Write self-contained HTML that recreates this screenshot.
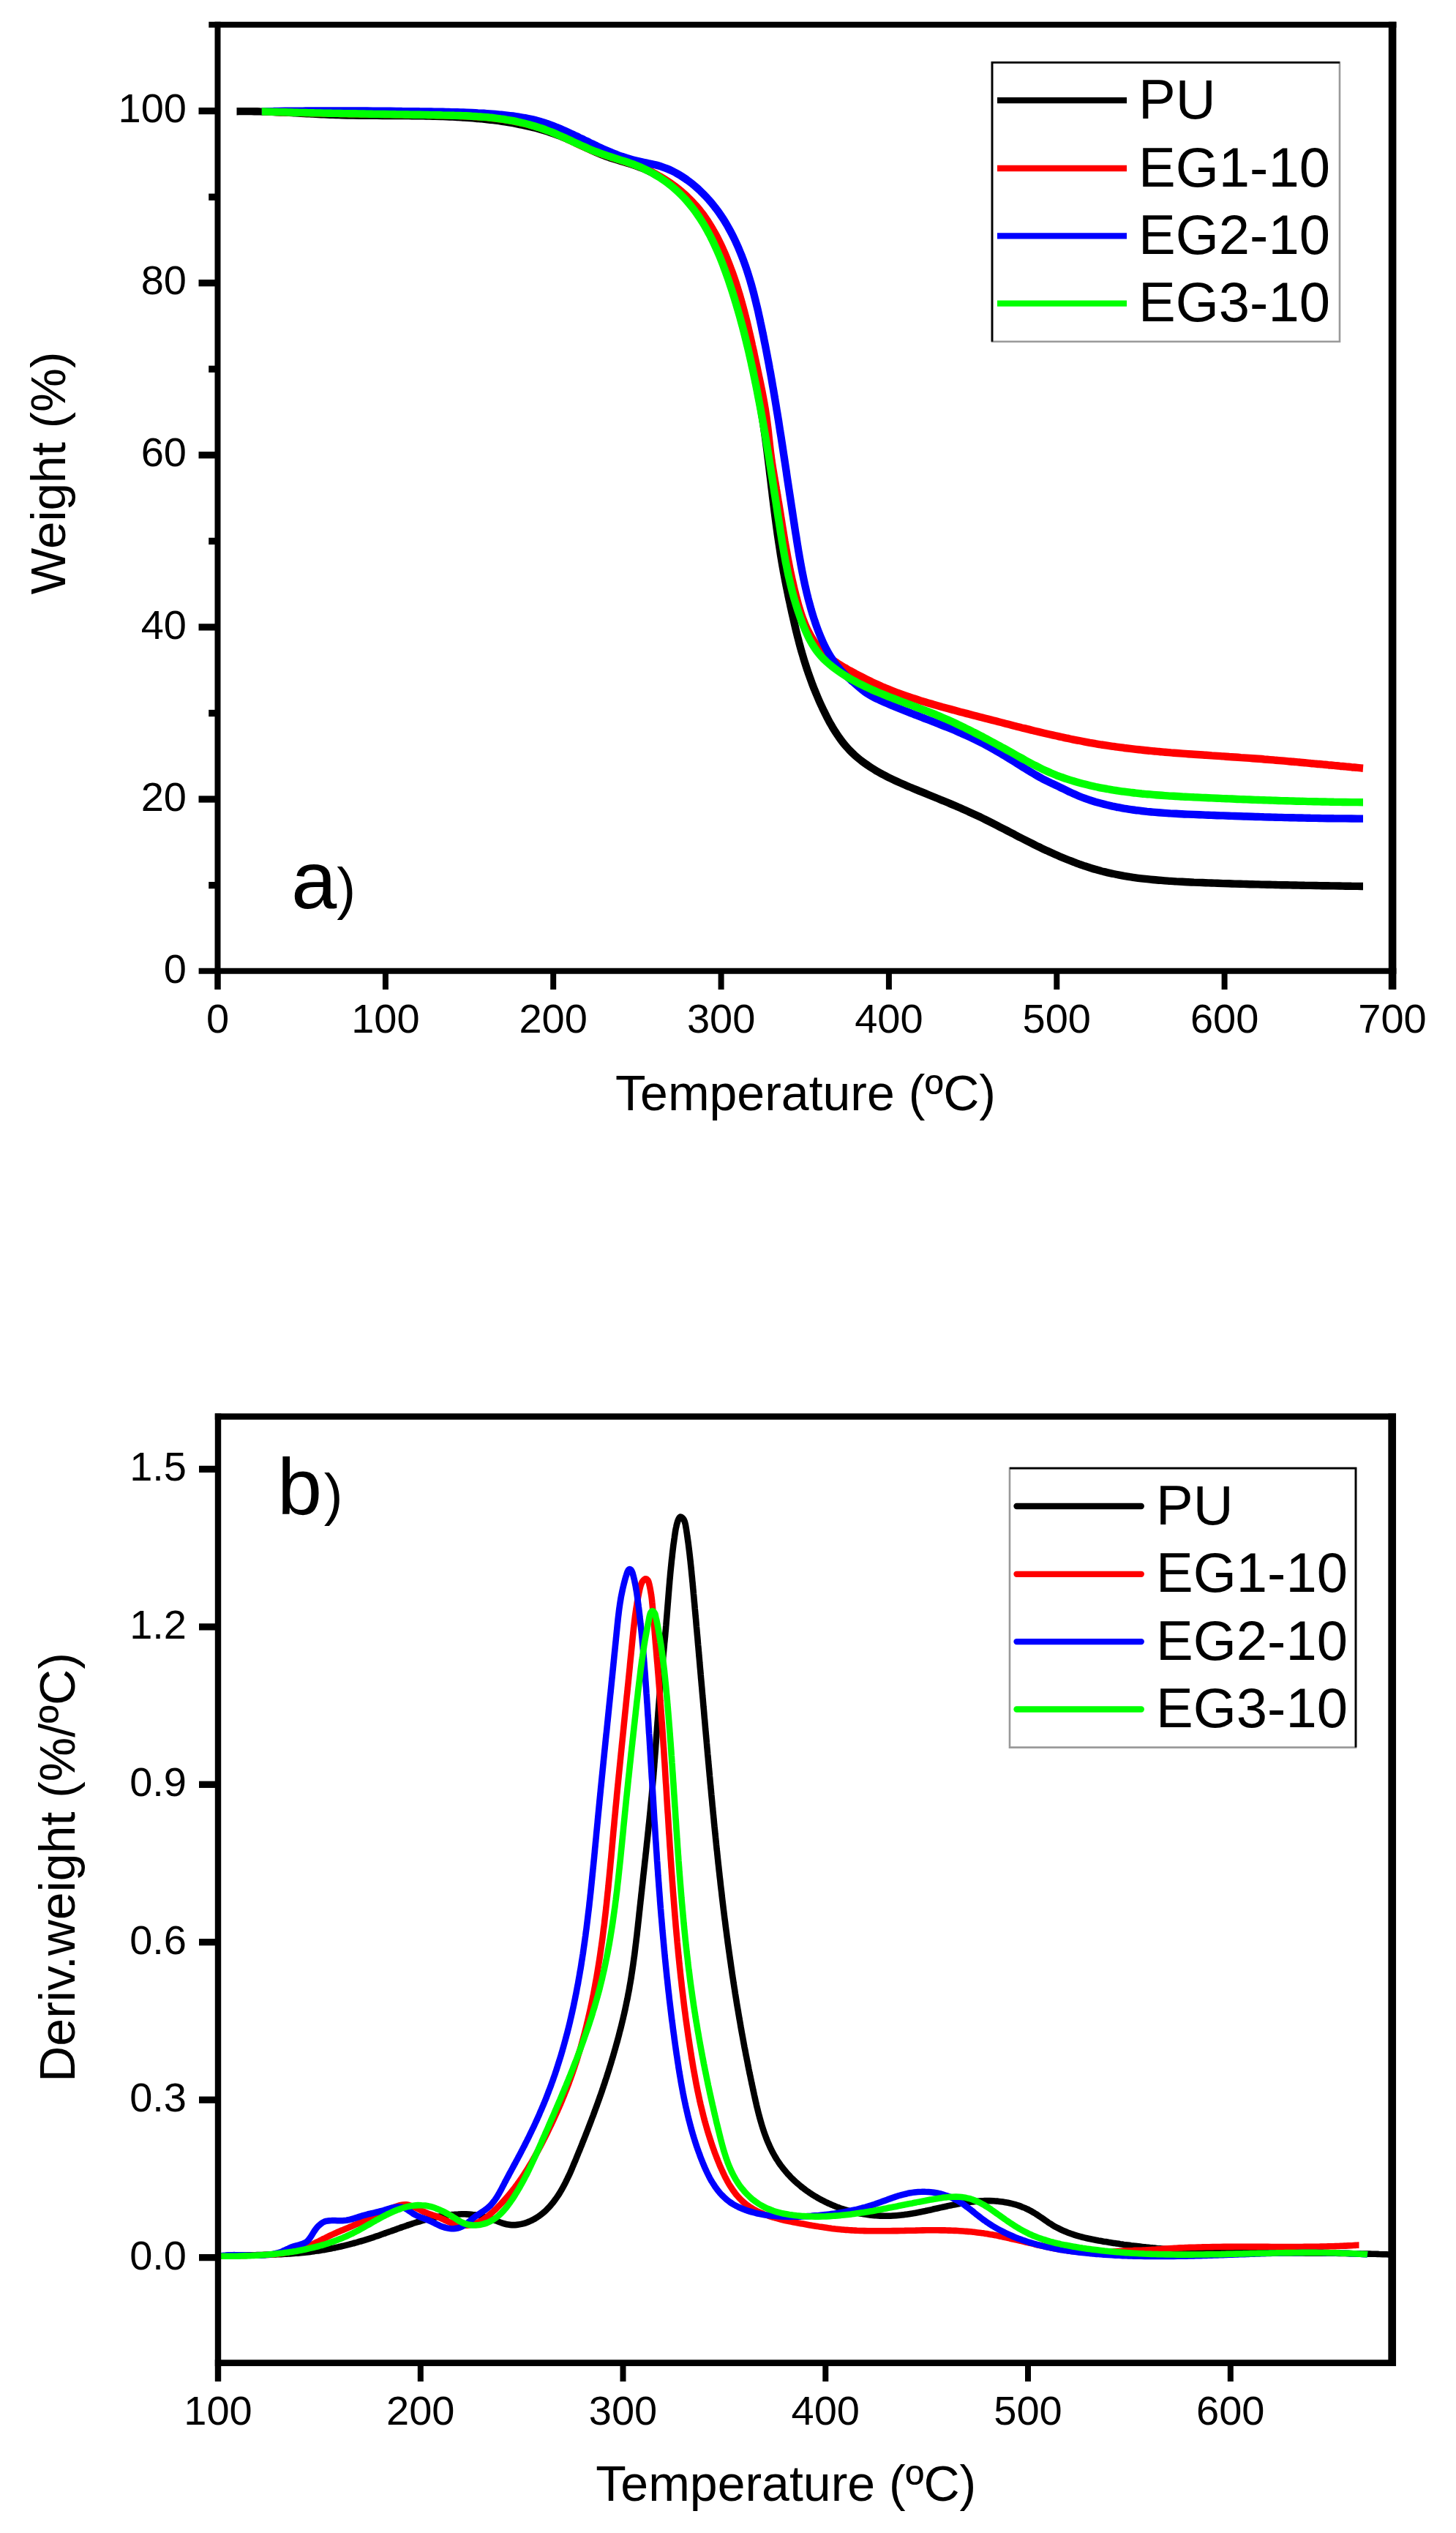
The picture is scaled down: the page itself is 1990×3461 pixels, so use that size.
<!DOCTYPE html>
<html lang="en"><head><meta charset="utf-8"><title>TGA and DTG curves</title>
<style>html,body{margin:0;padding:0;background:#fff;}svg{display:block;}text{font-family:'Liberation Sans', sans-serif;fill:#000;}</style>
</head><body>
<svg width="1990" height="3461" viewBox="0 0 1990 3461" role="img" aria-label="TGA (a) and DTG (b) curves of PU, EG1-10, EG2-10 and EG3-10">
<rect x="0" y="0" width="1990" height="3461" fill="#ffffff"/>
<g id="chart-a">
<g fill="none" stroke-width="10.4" stroke-linejoin="round" stroke-linecap="butt">
<path d="M323.5 152.2C324.8 152.2 328.8 152.1 331.5 152.1C334.1 152.1 336.8 152.1 339.5 152.1C342.1 152.1 344.8 152.2 347.4 152.2C350.1 152.3 352.8 152.3 355.4 152.4C358.1 152.4 360.7 152.5 363.4 152.6C366.1 152.7 368.7 152.8 371.4 152.9C374.0 153.0 376.7 153.1 379.3 153.2C382.0 153.3 384.7 153.4 387.3 153.6C390.0 153.7 392.6 153.8 395.3 153.9C397.9 154.1 400.6 154.2 403.2 154.4C405.9 154.5 408.6 154.6 411.2 154.8C413.9 154.9 416.5 155.0 419.2 155.2C421.8 155.3 424.5 155.5 427.1 155.6C429.8 155.7 432.5 155.9 435.1 156.0C437.8 156.1 440.4 156.3 443.1 156.4C445.7 156.5 448.4 156.6 451.1 156.7C453.7 156.8 456.4 156.9 459.0 157.0C461.7 157.1 464.3 157.2 467.0 157.3C469.7 157.3 472.3 157.4 475.0 157.5C477.6 157.5 480.3 157.6 483.0 157.6C485.6 157.7 488.3 157.7 490.9 157.7C493.6 157.8 496.3 157.8 498.9 157.8C501.6 157.9 504.2 157.9 506.9 157.9C509.6 157.9 512.2 157.9 514.9 157.9C517.5 158.0 520.2 158.0 522.9 158.0C525.5 158.0 528.2 158.0 530.8 158.0C533.5 158.0 536.2 158.0 538.8 158.0C541.5 158.1 544.2 158.1 546.8 158.1C549.5 158.1 552.1 158.1 554.8 158.1C557.5 158.1 560.1 158.2 562.8 158.2C565.4 158.2 568.1 158.2 570.8 158.3C573.4 158.3 576.1 158.3 578.7 158.4C581.4 158.4 584.1 158.5 586.7 158.5C589.4 158.6 592.0 158.7 594.7 158.7C597.3 158.8 600.0 158.9 602.7 159.0C605.3 159.1 608.0 159.1 610.6 159.3C613.3 159.4 615.9 159.5 618.6 159.6C621.3 159.7 623.9 159.9 626.6 160.0C629.2 160.2 631.9 160.3 634.5 160.5C637.2 160.7 639.8 160.9 642.5 161.1C645.1 161.3 647.8 161.5 650.4 161.7C653.1 161.9 655.7 162.2 658.4 162.4C661.0 162.7 663.7 163.0 666.3 163.3C669.0 163.6 671.6 163.9 674.3 164.2C676.9 164.5 679.6 164.9 682.2 165.2C684.8 165.6 687.5 166.0 690.1 166.4C692.7 166.8 695.3 167.2 698.0 167.7C700.6 168.1 703.2 168.6 705.8 169.1C708.4 169.6 711.0 170.1 713.6 170.7C716.2 171.2 718.8 171.8 721.4 172.4C724.0 173.0 726.6 173.6 729.1 174.3C731.7 174.9 734.3 175.6 736.8 176.3C739.4 177.0 741.9 177.8 744.5 178.6C747.0 179.3 749.5 180.1 752.1 181.0C754.6 181.8 757.1 182.7 759.6 183.6C762.1 184.5 764.5 185.4 767.0 186.4C769.5 187.4 771.9 188.4 774.4 189.4C776.8 190.5 779.3 191.5 781.7 192.6C784.1 193.7 786.6 194.9 789.0 196.0C791.4 197.1 793.8 198.3 796.2 199.4C798.6 200.6 801.0 201.7 803.5 202.9C805.9 204.0 808.3 205.1 810.7 206.2C813.1 207.3 815.6 208.4 818.0 209.4C820.5 210.5 822.9 211.5 825.4 212.4C827.9 213.4 830.4 214.3 832.9 215.2C835.4 216.0 837.9 216.8 840.5 217.6C843.0 218.4 845.6 219.2 848.1 219.9C850.7 220.7 853.2 221.4 855.8 222.2C858.3 222.9 860.9 223.7 863.4 224.5C865.9 225.3 868.5 226.2 870.9 227.1C873.4 228.0 875.9 229.0 878.4 230.0C880.8 231.0 883.3 232.1 885.7 233.2C888.1 234.3 890.5 235.5 892.8 236.8C895.1 238.0 897.5 239.3 899.7 240.7C902.0 242.1 904.2 243.5 906.4 245.0C908.6 246.5 910.8 248.0 912.9 249.6C915.1 251.2 917.1 252.8 919.2 254.5C921.3 256.2 923.3 257.9 925.3 259.7C927.2 261.4 929.2 263.3 931.1 265.1C933.0 267.0 934.9 268.9 936.8 270.8C938.6 272.7 940.4 274.7 942.2 276.7C944.0 278.7 945.7 280.7 947.4 282.8C949.1 284.8 950.8 286.9 952.4 289.1C954.1 291.2 955.7 293.3 957.2 295.5C958.8 297.6 960.3 299.8 961.8 302.0C963.3 304.2 964.8 306.4 966.2 308.7C967.6 310.9 969.0 313.2 970.3 315.5C971.7 317.8 973.0 320.1 974.2 322.4C975.5 324.7 976.7 327.1 977.9 329.4C979.0 331.8 980.2 334.2 981.3 336.6C982.4 339.0 983.5 341.4 984.6 343.8C985.6 346.2 986.6 348.7 987.6 351.1C988.6 353.6 989.6 356.1 990.5 358.5C991.4 361.0 992.4 363.5 993.2 366.0C994.1 368.5 995.0 371.0 995.8 373.6C996.7 376.1 997.5 378.6 998.3 381.2C999.1 383.7 999.9 386.3 1000.7 388.8C1001.4 391.4 1002.2 393.9 1002.9 396.5C1003.7 399.1 1004.4 401.6 1005.1 404.2C1005.8 406.8 1006.5 409.4 1007.2 412.0C1007.9 414.6 1008.5 417.1 1009.2 419.7C1009.9 422.3 1010.5 424.9 1011.2 427.5C1011.9 430.1 1012.5 432.7 1013.2 435.3C1013.8 437.9 1014.5 440.5 1015.1 443.0C1015.7 445.6 1016.4 448.2 1017.0 450.8C1017.7 453.4 1018.3 456.0 1018.9 458.6C1019.5 461.2 1020.2 463.8 1020.8 466.3C1021.4 468.9 1022.0 471.5 1022.6 474.1C1023.2 476.7 1023.8 479.3 1024.4 481.9C1025.0 484.5 1025.6 487.1 1026.2 489.7C1026.7 492.3 1027.3 494.8 1027.9 497.4C1028.4 500.0 1029.0 502.6 1029.6 505.2C1030.1 507.8 1030.7 510.4 1031.2 513.0C1031.8 515.6 1032.3 518.2 1032.8 520.8C1033.4 523.4 1033.9 526.0 1034.4 528.6C1034.9 531.2 1035.4 533.8 1035.9 536.4C1036.4 539.0 1036.9 541.6 1037.4 544.2C1037.9 546.8 1038.3 549.4 1038.8 552.1C1039.3 554.7 1039.7 557.3 1040.2 559.9C1040.6 562.5 1041.1 565.1 1041.5 567.7C1041.9 570.4 1042.3 573.0 1042.7 575.6C1043.2 578.2 1043.6 580.9 1043.9 583.5C1044.3 586.1 1044.7 588.8 1045.1 591.4C1045.5 594.0 1045.9 596.7 1046.2 599.3C1046.6 601.9 1046.9 604.6 1047.3 607.2C1047.6 609.8 1048.0 612.5 1048.3 615.1C1048.7 617.8 1049.0 620.4 1049.3 623.1C1049.7 625.7 1050.0 628.3 1050.3 631.0C1050.6 633.6 1051.0 636.3 1051.3 638.9C1051.6 641.6 1051.9 644.2 1052.2 646.9C1052.5 649.5 1052.9 652.2 1053.2 654.8C1053.5 657.4 1053.8 660.1 1054.1 662.7C1054.4 665.4 1054.8 668.0 1055.1 670.7C1055.4 673.3 1055.7 676.0 1056.0 678.6C1056.3 681.3 1056.7 683.9 1057.0 686.5C1057.3 689.2 1057.7 691.8 1058.0 694.5C1058.3 697.1 1058.7 699.8 1059.0 702.4C1059.3 705.0 1059.7 707.7 1060.0 710.3C1060.4 712.9 1060.7 715.6 1061.1 718.2C1061.4 720.8 1061.8 723.5 1062.2 726.1C1062.5 728.7 1062.9 731.4 1063.3 734.0C1063.7 736.6 1064.1 739.3 1064.5 741.9C1064.9 744.5 1065.3 747.1 1065.7 749.8C1066.1 752.4 1066.5 755.0 1066.9 757.6C1067.3 760.2 1067.8 762.9 1068.2 765.5C1068.6 768.1 1069.1 770.7 1069.5 773.3C1070.0 775.9 1070.5 778.5 1070.9 781.1C1071.4 783.8 1071.9 786.4 1072.4 789.0C1072.9 791.6 1073.4 794.2 1073.9 796.8C1074.4 799.4 1074.9 802.0 1075.5 804.6C1076.0 807.2 1076.5 809.8 1077.1 812.4C1077.6 815.0 1078.2 817.6 1078.7 820.2C1079.3 822.8 1079.9 825.4 1080.4 828.0C1081.0 830.6 1081.6 833.2 1082.1 835.8C1082.7 838.4 1083.3 841.0 1083.9 843.6C1084.5 846.2 1085.1 848.8 1085.7 851.5C1086.3 854.1 1086.9 856.7 1087.5 859.3C1088.1 861.9 1088.8 864.5 1089.4 867.1C1090.0 869.7 1090.7 872.2 1091.4 874.8C1092.0 877.4 1092.7 880.0 1093.4 882.5C1094.1 885.1 1094.8 887.6 1095.5 890.2C1096.3 892.7 1097.0 895.2 1097.8 897.8C1098.5 900.3 1099.3 902.8 1100.1 905.3C1100.9 907.9 1101.7 910.4 1102.5 912.9C1103.3 915.4 1104.2 917.9 1105.0 920.3C1105.9 922.8 1106.8 925.3 1107.7 927.8C1108.6 930.3 1109.5 932.8 1110.4 935.2C1111.4 937.7 1112.3 940.2 1113.3 942.6C1114.3 945.1 1115.3 947.5 1116.4 950.0C1117.4 952.4 1118.4 954.9 1119.5 957.3C1120.6 959.8 1121.7 962.2 1122.8 964.6C1124.0 967.1 1125.1 969.5 1126.3 971.9C1127.5 974.4 1128.7 976.8 1129.9 979.2C1131.2 981.6 1132.4 984.0 1133.7 986.4C1135.0 988.8 1136.4 991.1 1137.7 993.5C1139.1 995.8 1140.5 998.1 1142.0 1000.3C1143.4 1002.6 1144.9 1004.8 1146.5 1007.0C1148.0 1009.2 1149.6 1011.4 1151.2 1013.5C1152.8 1015.6 1154.5 1017.6 1156.2 1019.6C1158.0 1021.6 1159.7 1023.6 1161.6 1025.5C1163.4 1027.3 1165.3 1029.2 1167.2 1030.9C1169.1 1032.7 1171.1 1034.4 1173.1 1036.1C1175.1 1037.8 1177.2 1039.4 1179.3 1041.0C1181.4 1042.5 1183.5 1044.1 1185.7 1045.5C1187.8 1047.0 1190.0 1048.5 1192.3 1049.9C1194.5 1051.3 1196.8 1052.6 1199.1 1054.0C1201.4 1055.3 1203.7 1056.6 1206.0 1057.9C1208.4 1059.1 1210.8 1060.4 1213.1 1061.6C1215.5 1062.8 1217.9 1063.9 1220.4 1065.1C1222.8 1066.3 1225.2 1067.4 1227.7 1068.5C1230.1 1069.6 1232.6 1070.7 1235.1 1071.8C1237.5 1072.9 1240.0 1073.9 1242.5 1075.0C1245.0 1076.0 1247.5 1077.1 1250.0 1078.1C1252.5 1079.1 1255.0 1080.1 1257.4 1081.2C1259.9 1082.2 1262.4 1083.2 1264.9 1084.2C1267.4 1085.2 1269.8 1086.2 1272.3 1087.2C1274.8 1088.2 1277.2 1089.2 1279.7 1090.2C1282.2 1091.2 1284.6 1092.3 1287.1 1093.3C1289.5 1094.3 1292.0 1095.3 1294.4 1096.3C1296.9 1097.3 1299.3 1098.4 1301.7 1099.4C1304.2 1100.4 1306.6 1101.4 1309.0 1102.5C1311.5 1103.5 1313.9 1104.6 1316.3 1105.7C1318.7 1106.7 1321.1 1107.8 1323.5 1108.9C1325.9 1110.0 1328.3 1111.1 1330.7 1112.2C1333.1 1113.3 1335.5 1114.4 1337.9 1115.5C1340.3 1116.7 1342.7 1117.8 1345.0 1119.0C1347.4 1120.2 1349.8 1121.4 1352.1 1122.5C1354.5 1123.7 1356.9 1124.9 1359.2 1126.1C1361.6 1127.3 1364.0 1128.6 1366.3 1129.8C1368.7 1131.0 1371.0 1132.2 1373.4 1133.4C1375.8 1134.7 1378.1 1135.9 1380.5 1137.1C1382.9 1138.3 1385.2 1139.6 1387.6 1140.8C1389.9 1142.0 1392.3 1143.2 1394.7 1144.5C1397.0 1145.7 1399.4 1146.9 1401.8 1148.1C1404.2 1149.3 1406.6 1150.5 1408.9 1151.7C1411.3 1152.9 1413.7 1154.1 1416.1 1155.3C1418.5 1156.5 1420.9 1157.6 1423.3 1158.8C1425.7 1160.0 1428.2 1161.1 1430.6 1162.2C1433.0 1163.4 1435.4 1164.5 1437.9 1165.6C1440.3 1166.7 1442.8 1167.8 1445.2 1168.8C1447.7 1169.9 1450.1 1170.9 1452.6 1172.0C1455.0 1173.0 1457.5 1174.0 1460.0 1175.0C1462.5 1176.0 1465.0 1176.9 1467.4 1177.9C1469.9 1178.8 1472.4 1179.8 1474.9 1180.7C1477.4 1181.5 1479.9 1182.4 1482.5 1183.3C1485.0 1184.1 1487.5 1184.9 1490.0 1185.7C1492.6 1186.5 1495.1 1187.3 1497.7 1188.0C1500.2 1188.8 1502.8 1189.5 1505.3 1190.2C1507.9 1190.8 1510.4 1191.5 1513.0 1192.1C1515.6 1192.7 1518.2 1193.3 1520.8 1193.8C1523.3 1194.4 1525.9 1194.9 1528.5 1195.4C1531.1 1195.9 1533.7 1196.4 1536.3 1196.9C1539.0 1197.3 1541.6 1197.7 1544.2 1198.2C1546.8 1198.6 1549.4 1198.9 1552.1 1199.3C1554.7 1199.7 1557.3 1200.0 1560.0 1200.3C1562.6 1200.6 1565.2 1200.9 1567.9 1201.2C1570.5 1201.5 1573.2 1201.8 1575.8 1202.0C1578.5 1202.3 1581.1 1202.5 1583.8 1202.7C1586.4 1203.0 1589.1 1203.2 1591.8 1203.4C1594.4 1203.6 1597.1 1203.7 1599.7 1203.9C1602.4 1204.1 1605.1 1204.2 1607.7 1204.4C1610.4 1204.5 1613.1 1204.7 1615.7 1204.8C1618.4 1205.0 1621.1 1205.1 1623.7 1205.2C1626.4 1205.3 1629.1 1205.4 1631.7 1205.6C1634.4 1205.7 1637.1 1205.8 1639.7 1205.9C1642.4 1206.0 1645.0 1206.1 1647.7 1206.2C1650.4 1206.3 1653.0 1206.4 1655.7 1206.5C1658.4 1206.6 1661.0 1206.7 1663.7 1206.8C1666.3 1206.9 1669.0 1207.0 1671.7 1207.1C1674.3 1207.1 1677.0 1207.2 1679.6 1207.3C1682.3 1207.4 1684.9 1207.5 1687.6 1207.6C1690.3 1207.6 1692.9 1207.7 1695.6 1207.8C1698.2 1207.9 1700.9 1207.9 1703.5 1208.0C1706.2 1208.1 1708.8 1208.2 1711.5 1208.2C1714.1 1208.3 1716.8 1208.4 1719.5 1208.4C1722.1 1208.5 1724.8 1208.6 1727.4 1208.6C1730.1 1208.7 1732.7 1208.8 1735.4 1208.8C1738.0 1208.9 1740.7 1208.9 1743.3 1209.0C1746.0 1209.1 1748.6 1209.1 1751.3 1209.2C1753.9 1209.2 1756.6 1209.3 1759.3 1209.3C1761.9 1209.4 1764.6 1209.4 1767.2 1209.5C1769.9 1209.5 1772.5 1209.6 1775.2 1209.6C1777.8 1209.7 1780.5 1209.7 1783.1 1209.8C1785.8 1209.8 1788.5 1209.9 1791.1 1209.9C1793.8 1210.0 1796.4 1210.0 1799.1 1210.0C1801.7 1210.1 1804.4 1210.1 1807.1 1210.2C1809.7 1210.2 1812.4 1210.3 1815.0 1210.3C1817.7 1210.3 1820.4 1210.4 1823.0 1210.4C1825.7 1210.5 1828.3 1210.5 1831.0 1210.5C1833.7 1210.6 1836.3 1210.6 1839.0 1210.7C1841.7 1210.7 1844.3 1210.7 1847.0 1210.8C1849.7 1210.8 1852.3 1210.8 1855.0 1210.9C1857.7 1210.9 1861.7 1211.0 1863.0 1211.0" stroke="#000000"/>
<path d="M357.8 152.4C359.1 152.4 363.1 152.6 365.8 152.7C368.4 152.7 371.1 152.8 373.8 152.9C376.4 153.0 379.1 153.1 381.8 153.1C384.4 153.2 387.1 153.3 389.7 153.4C392.4 153.4 395.1 153.5 397.7 153.6C400.4 153.6 403.0 153.7 405.7 153.8C408.4 153.8 411.0 153.9 413.7 154.0C416.3 154.0 419.0 154.1 421.7 154.1C424.3 154.2 427.0 154.3 429.6 154.3C432.3 154.4 435.0 154.4 437.6 154.5C440.3 154.5 442.9 154.6 445.6 154.6C448.3 154.7 450.9 154.7 453.6 154.8C456.3 154.8 458.9 154.9 461.6 154.9C464.2 155.0 466.9 155.0 469.6 155.1C472.2 155.1 474.9 155.2 477.5 155.2C480.2 155.2 482.9 155.3 485.5 155.3C488.2 155.4 490.8 155.4 493.5 155.5C496.2 155.5 498.8 155.6 501.5 155.6C504.1 155.6 506.8 155.7 509.5 155.7C512.1 155.8 514.8 155.8 517.4 155.8C520.1 155.9 522.8 155.9 525.4 156.0C528.1 156.0 530.7 156.1 533.4 156.1C536.1 156.1 538.7 156.2 541.4 156.2C544.0 156.3 546.7 156.3 549.4 156.4C552.0 156.4 554.7 156.4 557.4 156.5C560.0 156.5 562.7 156.6 565.3 156.6C568.0 156.7 570.7 156.7 573.3 156.8C576.0 156.8 578.7 156.9 581.3 156.9C584.0 157.0 586.6 157.0 589.3 157.1C592.0 157.1 594.6 157.2 597.3 157.2C600.0 157.3 602.6 157.3 605.3 157.4C607.9 157.4 610.6 157.5 613.3 157.6C615.9 157.6 618.6 157.7 621.3 157.8C623.9 157.9 626.6 157.9 629.2 158.0C631.9 158.1 634.6 158.2 637.2 158.4C639.9 158.5 642.5 158.6 645.2 158.8C647.9 158.9 650.5 159.1 653.2 159.3C655.8 159.5 658.5 159.7 661.1 159.9C663.8 160.1 666.4 160.3 669.0 160.6C671.7 160.9 674.3 161.2 677.0 161.5C679.6 161.8 682.2 162.1 684.9 162.5C687.5 162.9 690.1 163.3 692.8 163.7C695.4 164.1 698.0 164.6 700.6 165.1C703.2 165.6 705.8 166.1 708.5 166.7C711.1 167.2 713.7 167.8 716.3 168.4C718.8 169.1 721.4 169.7 724.0 170.4C726.6 171.1 729.1 171.8 731.7 172.6C734.2 173.4 736.8 174.2 739.3 175.0C741.8 175.9 744.4 176.7 746.9 177.7C749.4 178.6 751.9 179.5 754.3 180.5C756.8 181.5 759.2 182.6 761.7 183.6C764.1 184.7 766.6 185.8 769.0 186.9C771.4 188.0 773.8 189.2 776.2 190.3C778.6 191.4 781.1 192.6 783.5 193.7C785.9 194.9 788.3 196.0 790.7 197.2C793.1 198.3 795.5 199.4 797.9 200.5C800.4 201.6 802.8 202.7 805.2 203.7C807.7 204.8 810.1 205.8 812.6 206.7C815.1 207.7 817.6 208.6 820.1 209.5C822.6 210.4 825.1 211.3 827.6 212.1C830.1 213.0 832.7 213.8 835.2 214.6C837.7 215.5 840.3 216.3 842.8 217.1C845.3 217.9 847.9 218.7 850.4 219.5C852.9 220.3 855.5 221.1 858.0 222.0C860.5 222.8 863.0 223.7 865.5 224.6C868.0 225.5 870.5 226.4 873.0 227.3C875.5 228.3 877.9 229.3 880.4 230.3C882.8 231.4 885.2 232.5 887.6 233.6C890.1 234.8 892.4 236.0 894.8 237.2C897.2 238.4 899.5 239.7 901.8 241.1C904.1 242.4 906.4 243.8 908.7 245.2C910.9 246.6 913.2 248.1 915.4 249.6C917.6 251.1 919.7 252.6 921.9 254.2C924.0 255.8 926.1 257.4 928.2 259.1C930.3 260.8 932.3 262.5 934.3 264.3C936.3 266.0 938.3 267.8 940.2 269.7C942.1 271.5 944.0 273.4 945.8 275.3C947.6 277.2 949.4 279.2 951.2 281.1C952.9 283.1 954.6 285.2 956.3 287.2C958.0 289.3 959.6 291.4 961.2 293.5C962.7 295.7 964.3 297.8 965.7 300.0C967.2 302.2 968.7 304.5 970.1 306.7C971.5 309.0 972.9 311.2 974.2 313.6C975.6 315.9 976.9 318.2 978.1 320.5C979.4 322.9 980.6 325.2 981.8 327.6C983.0 330.0 984.2 332.4 985.4 334.8C986.5 337.2 987.6 339.7 988.7 342.1C989.8 344.6 990.9 347.0 991.9 349.5C992.9 351.9 993.9 354.4 994.9 356.9C995.9 359.4 996.9 361.9 997.8 364.4C998.8 366.8 999.7 369.3 1000.6 371.8C1001.5 374.3 1002.4 376.9 1003.3 379.4C1004.1 381.9 1005.0 384.4 1005.8 386.9C1006.6 389.5 1007.4 392.0 1008.2 394.5C1009.0 397.1 1009.8 399.6 1010.5 402.2C1011.3 404.7 1012.0 407.3 1012.7 409.8C1013.5 412.4 1014.2 414.9 1014.9 417.5C1015.6 420.1 1016.3 422.6 1016.9 425.2C1017.6 427.8 1018.3 430.3 1018.9 432.9C1019.6 435.5 1020.2 438.1 1020.9 440.7C1021.5 443.2 1022.1 445.8 1022.7 448.4C1023.3 451.0 1023.9 453.6 1024.5 456.2C1025.1 458.8 1025.7 461.4 1026.3 464.0C1026.9 466.6 1027.5 469.2 1028.0 471.8C1028.6 474.4 1029.2 477.0 1029.8 479.6C1030.3 482.2 1030.9 484.8 1031.4 487.4C1032.0 490.0 1032.6 492.6 1033.1 495.2C1033.7 497.8 1034.2 500.4 1034.8 503.0C1035.3 505.6 1035.9 508.3 1036.4 510.9C1037.0 513.5 1037.5 516.1 1038.1 518.7C1038.6 521.3 1039.2 523.9 1039.7 526.5C1040.2 529.1 1040.8 531.7 1041.3 534.3C1041.8 537.0 1042.3 539.6 1042.8 542.2C1043.3 544.8 1043.8 547.4 1044.2 550.0C1044.7 552.7 1045.1 555.3 1045.6 557.9C1046.0 560.5 1046.4 563.1 1046.8 565.8C1047.2 568.4 1047.6 571.0 1047.9 573.7C1048.3 576.3 1048.6 578.9 1048.9 581.6C1049.3 584.2 1049.6 586.8 1049.9 589.5C1050.2 592.1 1050.4 594.8 1050.7 597.4C1051.0 600.1 1051.3 602.7 1051.6 605.3C1051.9 608.0 1052.2 610.6 1052.5 613.3C1052.8 615.9 1053.1 618.6 1053.5 621.2C1053.8 623.8 1054.2 626.5 1054.5 629.1C1054.9 631.8 1055.3 634.4 1055.7 637.0C1056.1 639.7 1056.6 642.3 1057.0 644.9C1057.4 647.6 1057.9 650.2 1058.3 652.9C1058.8 655.5 1059.2 658.1 1059.7 660.7C1060.1 663.4 1060.6 666.0 1061.0 668.6C1061.5 671.3 1061.9 673.9 1062.3 676.5C1062.8 679.1 1063.2 681.8 1063.6 684.4C1064.1 687.0 1064.5 689.6 1064.9 692.3C1065.3 694.9 1065.8 697.5 1066.2 700.1C1066.6 702.8 1067.0 705.4 1067.4 708.0C1067.9 710.6 1068.3 713.2 1068.7 715.9C1069.1 718.5 1069.5 721.1 1070.0 723.7C1070.4 726.3 1070.8 728.9 1071.2 731.6C1071.7 734.2 1072.1 736.8 1072.5 739.4C1073.0 742.0 1073.4 744.6 1073.9 747.2C1074.3 749.9 1074.8 752.5 1075.3 755.1C1075.7 757.7 1076.2 760.3 1076.7 762.9C1077.2 765.5 1077.7 768.1 1078.2 770.7C1078.7 773.4 1079.2 776.0 1079.7 778.6C1080.3 781.2 1080.8 783.8 1081.4 786.4C1081.9 789.0 1082.5 791.6 1083.1 794.2C1083.7 796.8 1084.3 799.4 1084.9 802.1C1085.5 804.7 1086.1 807.3 1086.8 809.9C1087.4 812.5 1088.1 815.1 1088.8 817.7C1089.5 820.3 1090.2 822.9 1090.9 825.5C1091.6 828.1 1092.4 830.7 1093.2 833.3C1094.0 835.8 1094.8 838.4 1095.7 840.9C1096.6 843.5 1097.5 846.0 1098.5 848.5C1099.4 851.0 1100.4 853.4 1101.5 855.8C1102.6 858.3 1103.7 860.7 1104.9 863.0C1106.1 865.3 1107.3 867.6 1108.6 869.9C1109.9 872.1 1111.3 874.3 1112.8 876.5C1114.3 878.6 1115.8 880.7 1117.4 882.7C1119.1 884.8 1120.8 886.7 1122.6 888.6C1124.4 890.5 1126.3 892.3 1128.2 894.1C1130.2 895.8 1132.3 897.5 1134.4 899.1C1136.6 900.7 1138.8 902.2 1141.0 903.8C1143.2 905.3 1145.5 906.7 1147.8 908.2C1150.1 909.6 1152.4 911.0 1154.7 912.4C1157.1 913.7 1159.4 915.1 1161.8 916.4C1164.1 917.7 1166.5 919.0 1168.9 920.2C1171.3 921.5 1173.6 922.8 1176.0 924.0C1178.4 925.2 1180.8 926.4 1183.1 927.6C1185.5 928.8 1187.9 930.0 1190.3 931.1C1192.7 932.3 1195.1 933.4 1197.5 934.5C1199.9 935.6 1202.3 936.7 1204.7 937.8C1207.2 938.8 1209.6 939.9 1212.1 940.9C1214.5 941.9 1217.0 942.9 1219.4 943.8C1221.9 944.8 1224.4 945.7 1226.8 946.7C1229.3 947.6 1231.8 948.5 1234.3 949.4C1236.8 950.3 1239.3 951.2 1241.8 952.0C1244.3 952.9 1246.8 953.7 1249.4 954.5C1251.9 955.4 1254.4 956.2 1256.9 957.0C1259.5 957.8 1262.0 958.5 1264.5 959.3C1267.1 960.1 1269.6 960.8 1272.2 961.6C1274.7 962.3 1277.3 963.1 1279.9 963.8C1282.4 964.5 1285.0 965.2 1287.6 966.0C1290.1 966.7 1292.7 967.4 1295.3 968.1C1297.8 968.8 1300.4 969.5 1303.0 970.1C1305.6 970.8 1308.2 971.5 1310.7 972.2C1313.3 972.9 1315.9 973.5 1318.5 974.2C1321.1 974.9 1323.7 975.5 1326.2 976.2C1328.8 976.9 1331.4 977.6 1334.0 978.2C1336.6 978.9 1339.2 979.6 1341.7 980.2C1344.3 980.9 1346.9 981.6 1349.5 982.2C1352.1 982.9 1354.7 983.6 1357.2 984.3C1359.8 984.9 1362.4 985.6 1365.0 986.3C1367.6 986.9 1370.2 987.6 1372.7 988.3C1375.3 988.9 1377.9 989.6 1380.5 990.2C1383.1 990.9 1385.7 991.6 1388.2 992.2C1390.8 992.9 1393.4 993.5 1396.0 994.2C1398.6 994.8 1401.2 995.5 1403.8 996.1C1406.3 996.7 1408.9 997.4 1411.5 998.0C1414.1 998.6 1416.7 999.3 1419.3 999.9C1421.9 1000.5 1424.5 1001.1 1427.0 1001.7C1429.6 1002.3 1432.2 1002.9 1434.8 1003.5C1437.4 1004.1 1440.0 1004.7 1442.6 1005.3C1445.2 1005.9 1447.8 1006.4 1450.4 1007.0C1453.0 1007.6 1455.6 1008.1 1458.2 1008.7C1460.8 1009.2 1463.4 1009.8 1466.0 1010.3C1468.6 1010.8 1471.2 1011.3 1473.8 1011.8C1476.4 1012.4 1479.0 1012.9 1481.6 1013.3C1484.3 1013.8 1486.9 1014.3 1489.5 1014.8C1492.1 1015.2 1494.7 1015.7 1497.3 1016.2C1499.9 1016.6 1502.6 1017.0 1505.2 1017.5C1507.8 1017.9 1510.4 1018.3 1513.1 1018.7C1515.7 1019.1 1518.3 1019.5 1520.9 1019.8C1523.6 1020.2 1526.2 1020.6 1528.8 1020.9C1531.5 1021.3 1534.1 1021.6 1536.8 1022.0C1539.4 1022.3 1542.0 1022.6 1544.7 1022.9C1547.3 1023.2 1550.0 1023.5 1552.6 1023.8C1555.2 1024.1 1557.9 1024.4 1560.5 1024.7C1563.2 1025.0 1565.8 1025.3 1568.5 1025.5C1571.1 1025.8 1573.8 1026.0 1576.4 1026.3C1579.1 1026.5 1581.7 1026.8 1584.4 1027.0C1587.0 1027.2 1589.7 1027.5 1592.3 1027.7C1595.0 1027.9 1597.7 1028.1 1600.3 1028.4C1603.0 1028.6 1605.6 1028.8 1608.3 1029.0C1610.9 1029.2 1613.6 1029.4 1616.3 1029.6C1618.9 1029.8 1621.6 1030.0 1624.2 1030.2C1626.9 1030.4 1629.6 1030.6 1632.2 1030.7C1634.9 1030.9 1637.5 1031.1 1640.2 1031.3C1642.9 1031.5 1645.5 1031.6 1648.2 1031.8C1650.8 1032.0 1653.5 1032.2 1656.2 1032.4C1658.8 1032.5 1661.5 1032.7 1664.1 1032.9C1666.8 1033.1 1669.5 1033.2 1672.1 1033.4C1674.8 1033.6 1677.4 1033.8 1680.1 1034.0C1682.8 1034.1 1685.4 1034.3 1688.1 1034.5C1690.7 1034.7 1693.4 1034.9 1696.0 1035.1C1698.7 1035.2 1701.4 1035.4 1704.0 1035.6C1706.7 1035.8 1709.3 1036.0 1712.0 1036.2C1714.6 1036.4 1717.3 1036.6 1719.9 1036.8C1722.6 1037.0 1725.2 1037.2 1727.9 1037.5C1730.5 1037.7 1733.2 1037.9 1735.8 1038.1C1738.5 1038.3 1741.1 1038.5 1743.8 1038.8C1746.4 1039.0 1749.1 1039.2 1751.7 1039.4C1754.4 1039.7 1757.0 1039.9 1759.7 1040.1C1762.3 1040.3 1765.0 1040.6 1767.6 1040.8C1770.3 1041.0 1772.9 1041.3 1775.5 1041.5C1778.2 1041.8 1780.8 1042.0 1783.5 1042.2C1786.1 1042.5 1788.8 1042.7 1791.4 1043.0C1794.1 1043.2 1796.7 1043.5 1799.4 1043.7C1802.0 1043.9 1804.7 1044.2 1807.3 1044.4C1810.0 1044.7 1812.6 1044.9 1815.3 1045.2C1817.9 1045.4 1820.6 1045.7 1823.2 1045.9C1825.9 1046.2 1828.5 1046.4 1831.2 1046.7C1833.8 1046.9 1836.5 1047.2 1839.1 1047.4C1841.8 1047.7 1844.4 1047.9 1847.1 1048.2C1849.7 1048.4 1852.4 1048.7 1855.0 1048.9C1857.7 1049.2 1861.7 1049.6 1863.0 1049.7" stroke="#ff0000"/>
<path d="M357.8 152.2C359.1 152.2 363.1 152.1 365.8 152.1C368.4 152.0 371.1 152.0 373.8 152.0C376.4 151.9 379.1 151.9 381.8 151.9C384.4 151.8 387.1 151.8 389.7 151.8C392.4 151.8 395.1 151.7 397.7 151.7C400.4 151.7 403.0 151.7 405.7 151.6C408.4 151.6 411.0 151.6 413.7 151.6C416.4 151.6 419.0 151.5 421.7 151.5C424.3 151.5 427.0 151.5 429.7 151.5C432.3 151.5 435.0 151.5 437.6 151.5C440.3 151.4 443.0 151.4 445.6 151.4C448.3 151.4 451.0 151.4 453.6 151.4C456.3 151.4 458.9 151.4 461.6 151.4C464.3 151.4 466.9 151.4 469.6 151.4C472.2 151.4 474.9 151.4 477.6 151.4C480.2 151.4 482.9 151.5 485.5 151.5C488.2 151.5 490.9 151.5 493.5 151.5C496.2 151.5 498.9 151.5 501.5 151.5C504.2 151.6 506.8 151.6 509.5 151.6C512.2 151.6 514.8 151.6 517.5 151.6C520.1 151.7 522.8 151.7 525.5 151.7C528.1 151.7 530.8 151.8 533.5 151.8C536.1 151.8 538.8 151.8 541.4 151.9C544.1 151.9 546.8 151.9 549.4 152.0C552.1 152.0 554.7 152.0 557.4 152.1C560.1 152.1 562.7 152.1 565.4 152.2C568.0 152.2 570.7 152.2 573.4 152.3C576.0 152.3 578.7 152.4 581.4 152.4C584.0 152.5 586.7 152.5 589.3 152.5C592.0 152.6 594.7 152.6 597.3 152.7C600.0 152.7 602.6 152.8 605.3 152.8C608.0 152.9 610.6 152.9 613.3 153.0C616.0 153.1 618.6 153.1 621.3 153.2C623.9 153.3 626.6 153.3 629.3 153.4C631.9 153.5 634.6 153.6 637.2 153.7C639.9 153.8 642.6 153.9 645.2 154.0C647.9 154.1 650.5 154.2 653.2 154.4C655.9 154.5 658.5 154.7 661.2 154.8C663.8 155.0 666.5 155.2 669.1 155.4C671.8 155.6 674.5 155.8 677.1 156.0C679.8 156.2 682.4 156.5 685.1 156.7C687.7 157.0 690.4 157.3 693.0 157.6C695.7 157.9 698.3 158.2 701.0 158.5C703.6 158.9 706.3 159.3 708.9 159.7C711.5 160.1 714.2 160.5 716.8 161.0C719.4 161.4 722.0 162.0 724.6 162.5C727.2 163.1 729.8 163.7 732.4 164.3C734.9 165.0 737.5 165.7 740.0 166.5C742.5 167.2 745.1 168.1 747.6 168.9C750.1 169.8 752.6 170.7 755.0 171.6C757.5 172.6 760.0 173.5 762.4 174.5C764.9 175.6 767.3 176.6 769.8 177.7C772.2 178.7 774.6 179.8 777.0 180.9C779.5 182.1 781.9 183.2 784.3 184.3C786.7 185.5 789.1 186.6 791.5 187.8C793.9 189.0 796.3 190.1 798.7 191.3C801.2 192.5 803.6 193.6 806.0 194.8C808.4 196.0 810.8 197.1 813.2 198.3C815.6 199.4 818.0 200.6 820.5 201.7C822.9 202.8 825.3 203.9 827.8 205.0C830.2 206.0 832.7 207.1 835.1 208.1C837.6 209.1 840.0 210.1 842.5 211.0C845.0 212.0 847.5 212.9 850.0 213.8C852.5 214.6 855.1 215.5 857.6 216.2C860.1 217.0 862.7 217.8 865.3 218.5C867.8 219.2 870.4 219.8 873.0 220.4C875.6 221.0 878.2 221.6 880.8 222.1C883.4 222.7 886.1 223.2 888.7 223.7C891.3 224.3 893.9 224.8 896.5 225.4C899.0 226.1 901.6 226.8 904.1 227.7C906.6 228.5 909.1 229.4 911.5 230.4C914.0 231.4 916.4 232.5 918.8 233.7C921.1 234.8 923.5 236.1 925.8 237.4C928.1 238.7 930.4 240.1 932.6 241.5C934.8 242.9 937.1 244.4 939.2 246.0C941.4 247.5 943.5 249.1 945.6 250.8C947.7 252.5 949.7 254.2 951.8 256.0C953.8 257.7 955.8 259.5 957.7 261.4C959.6 263.2 961.5 265.1 963.4 267.1C965.3 269.0 967.1 271.0 968.8 273.0C970.6 275.0 972.4 277.1 974.1 279.2C975.8 281.3 977.4 283.4 979.0 285.5C980.6 287.7 982.2 289.8 983.7 292.0C985.2 294.2 986.7 296.4 988.2 298.7C989.6 300.9 991.0 303.2 992.4 305.5C993.7 307.7 995.1 310.0 996.3 312.4C997.6 314.7 998.9 317.0 1000.1 319.4C1001.3 321.7 1002.5 324.1 1003.7 326.5C1004.8 328.8 1005.9 331.2 1007.0 333.7C1008.1 336.1 1009.2 338.5 1010.2 340.9C1011.2 343.4 1012.2 345.8 1013.2 348.3C1014.2 350.7 1015.1 353.2 1016.1 355.7C1017.0 358.2 1017.9 360.6 1018.8 363.2C1019.6 365.7 1020.5 368.2 1021.3 370.7C1022.1 373.2 1022.9 375.7 1023.7 378.3C1024.5 380.8 1025.3 383.4 1026.0 385.9C1026.8 388.5 1027.5 391.0 1028.2 393.6C1028.9 396.2 1029.6 398.8 1030.3 401.3C1030.9 403.9 1031.6 406.5 1032.2 409.1C1032.9 411.7 1033.5 414.3 1034.1 416.9C1034.8 419.5 1035.4 422.1 1036.0 424.7C1036.6 427.3 1037.1 429.9 1037.7 432.5C1038.3 435.1 1038.9 437.7 1039.4 440.3C1040.0 443.0 1040.6 445.6 1041.1 448.2C1041.6 450.8 1042.2 453.4 1042.7 456.0C1043.3 458.6 1043.8 461.3 1044.3 463.9C1044.8 466.5 1045.4 469.1 1045.9 471.7C1046.4 474.3 1046.9 477.0 1047.4 479.6C1047.9 482.2 1048.4 484.8 1048.9 487.4C1049.4 490.0 1049.9 492.7 1050.4 495.3C1050.9 497.9 1051.4 500.5 1051.8 503.1C1052.3 505.8 1052.8 508.4 1053.3 511.0C1053.7 513.6 1054.2 516.2 1054.7 518.9C1055.1 521.5 1055.6 524.1 1056.0 526.7C1056.5 529.3 1056.9 532.0 1057.4 534.6C1057.8 537.2 1058.3 539.8 1058.7 542.5C1059.2 545.1 1059.6 547.7 1060.0 550.3C1060.5 552.9 1060.9 555.6 1061.3 558.2C1061.7 560.8 1062.2 563.4 1062.6 566.1C1063.0 568.7 1063.4 571.3 1063.9 573.9C1064.3 576.6 1064.7 579.2 1065.1 581.8C1065.5 584.4 1065.9 587.1 1066.3 589.7C1066.8 592.3 1067.2 594.9 1067.6 597.6C1068.0 600.2 1068.4 602.8 1068.8 605.4C1069.2 608.1 1069.6 610.7 1070.0 613.3C1070.4 616.0 1070.8 618.6 1071.2 621.2C1071.6 623.8 1072.0 626.5 1072.4 629.1C1072.8 631.7 1073.2 634.4 1073.6 637.0C1074.0 639.6 1074.4 642.2 1074.8 644.9C1075.1 647.5 1075.5 650.1 1075.9 652.8C1076.3 655.4 1076.7 658.0 1077.1 660.6C1077.5 663.3 1077.9 665.9 1078.3 668.5C1078.7 671.2 1079.1 673.8 1079.5 676.4C1079.9 679.1 1080.3 681.7 1080.7 684.3C1081.1 687.0 1081.5 689.6 1081.9 692.2C1082.3 694.8 1082.7 697.5 1083.1 700.1C1083.5 702.7 1083.9 705.4 1084.3 708.0C1084.7 710.6 1085.1 713.3 1085.5 715.9C1085.9 718.5 1086.3 721.2 1086.7 723.8C1087.1 726.4 1087.5 729.1 1088.0 731.7C1088.4 734.3 1088.8 737.0 1089.2 739.6C1089.6 742.2 1090.0 744.9 1090.5 747.5C1090.9 750.1 1091.3 752.8 1091.8 755.4C1092.2 758.0 1092.7 760.7 1093.1 763.3C1093.6 765.9 1094.1 768.5 1094.5 771.2C1095.0 773.8 1095.5 776.4 1096.0 779.0C1096.5 781.6 1097.0 784.2 1097.6 786.9C1098.1 789.5 1098.6 792.1 1099.2 794.7C1099.7 797.3 1100.3 799.9 1100.9 802.5C1101.5 805.1 1102.1 807.7 1102.7 810.3C1103.3 812.8 1104.0 815.4 1104.6 818.0C1105.3 820.6 1106.0 823.1 1106.7 825.7C1107.4 828.3 1108.1 830.8 1108.8 833.4C1109.6 835.9 1110.3 838.5 1111.1 841.0C1111.9 843.6 1112.7 846.1 1113.6 848.6C1114.4 851.2 1115.3 853.7 1116.2 856.2C1117.1 858.7 1118.0 861.2 1119.0 863.7C1120.0 866.2 1121.0 868.7 1122.0 871.1C1123.0 873.6 1124.1 876.0 1125.2 878.4C1126.3 880.8 1127.5 883.2 1128.7 885.6C1129.9 887.9 1131.2 890.2 1132.5 892.5C1133.8 894.8 1135.2 897.1 1136.6 899.3C1138.1 901.5 1139.6 903.7 1141.1 905.9C1142.7 908.0 1144.3 910.1 1146.0 912.1C1147.7 914.2 1149.4 916.2 1151.3 918.1C1153.1 920.1 1155.0 921.9 1157.0 923.8C1158.9 925.7 1160.9 927.5 1163.0 929.3C1165.0 931.1 1167.0 932.8 1169.0 934.6C1171.1 936.4 1173.1 938.1 1175.1 939.8C1177.1 941.5 1179.2 943.3 1181.3 944.8C1183.4 946.4 1185.6 947.8 1187.8 949.2C1190.1 950.6 1192.4 951.8 1194.8 953.0C1197.1 954.2 1199.6 955.3 1202.0 956.4C1204.4 957.5 1206.8 958.6 1209.2 959.7C1211.7 960.8 1214.1 961.8 1216.6 962.9C1219.0 963.9 1221.5 964.9 1223.9 966.0C1226.4 967.0 1228.8 968.0 1231.3 969.0C1233.8 970.0 1236.3 971.0 1238.7 971.9C1241.2 972.9 1243.7 973.9 1246.2 974.9C1248.7 975.8 1251.1 976.8 1253.6 977.7C1256.1 978.7 1258.6 979.7 1261.1 980.6C1263.6 981.6 1266.1 982.5 1268.6 983.5C1271.1 984.5 1273.5 985.4 1276.0 986.4C1278.5 987.4 1281.0 988.3 1283.5 989.3C1285.9 990.3 1288.4 991.3 1290.9 992.3C1293.4 993.3 1295.8 994.3 1298.3 995.3C1300.8 996.3 1303.2 997.3 1305.7 998.3C1308.1 999.4 1310.6 1000.4 1313.0 1001.5C1315.4 1002.6 1317.9 1003.7 1320.3 1004.8C1322.7 1005.9 1325.1 1007.0 1327.5 1008.1C1329.9 1009.3 1332.3 1010.4 1334.7 1011.6C1337.1 1012.8 1339.4 1014.0 1341.8 1015.2C1344.2 1016.4 1346.5 1017.7 1348.9 1019.0C1351.2 1020.2 1353.5 1021.5 1355.8 1022.8C1358.2 1024.1 1360.5 1025.4 1362.8 1026.8C1365.1 1028.1 1367.4 1029.4 1369.7 1030.8C1372.0 1032.2 1374.3 1033.5 1376.5 1034.9C1378.8 1036.3 1381.1 1037.7 1383.4 1039.1C1385.6 1040.5 1387.9 1041.9 1390.1 1043.3C1392.4 1044.7 1394.7 1046.1 1396.9 1047.5C1399.2 1048.9 1401.4 1050.4 1403.7 1051.8C1405.9 1053.2 1408.2 1054.5 1410.5 1055.9C1412.8 1057.3 1415.0 1058.6 1417.3 1059.9C1419.6 1061.2 1422.0 1062.5 1424.3 1063.8C1426.6 1065.0 1429.0 1066.2 1431.4 1067.4C1433.7 1068.5 1436.2 1069.6 1438.5 1070.8C1440.9 1071.9 1443.3 1073.0 1445.7 1074.2C1448.1 1075.4 1450.5 1076.5 1452.9 1077.7C1455.3 1078.9 1457.7 1080.1 1460.1 1081.2C1462.5 1082.3 1464.9 1083.5 1467.3 1084.6C1469.7 1085.7 1472.2 1086.7 1474.6 1087.7C1477.1 1088.7 1479.6 1089.7 1482.1 1090.6C1484.6 1091.6 1487.1 1092.4 1489.6 1093.3C1492.2 1094.1 1494.7 1094.9 1497.3 1095.7C1499.8 1096.4 1502.4 1097.1 1505.0 1097.8C1507.5 1098.5 1510.1 1099.2 1512.7 1099.8C1515.3 1100.4 1517.9 1101.0 1520.5 1101.6C1523.1 1102.1 1525.7 1102.7 1528.3 1103.2C1530.9 1103.7 1533.5 1104.1 1536.1 1104.6C1538.7 1105.0 1541.3 1105.5 1544.0 1105.9C1546.6 1106.3 1549.2 1106.6 1551.9 1107.0C1554.5 1107.3 1557.1 1107.7 1559.8 1108.0C1562.4 1108.3 1565.0 1108.6 1567.7 1108.9C1570.3 1109.1 1573.0 1109.4 1575.6 1109.6C1578.3 1109.9 1580.9 1110.1 1583.6 1110.3C1586.2 1110.5 1588.9 1110.7 1591.6 1110.9C1594.2 1111.1 1596.9 1111.2 1599.5 1111.4C1602.2 1111.5 1604.9 1111.7 1607.5 1111.8C1610.2 1112.0 1612.9 1112.1 1615.5 1112.2C1618.2 1112.4 1620.9 1112.5 1623.5 1112.6C1626.2 1112.7 1628.9 1112.8 1631.5 1112.9C1634.2 1113.0 1636.9 1113.1 1639.5 1113.2C1642.2 1113.3 1644.9 1113.5 1647.5 1113.6C1650.2 1113.7 1652.8 1113.8 1655.5 1113.9C1658.2 1114.0 1660.8 1114.1 1663.5 1114.2C1666.2 1114.3 1668.8 1114.4 1671.5 1114.4C1674.1 1114.5 1676.8 1114.6 1679.5 1114.7C1682.1 1114.8 1684.8 1114.9 1687.4 1115.0C1690.1 1115.1 1692.8 1115.2 1695.4 1115.3C1698.1 1115.4 1700.7 1115.5 1703.4 1115.5C1706.0 1115.6 1708.7 1115.7 1711.4 1115.8C1714.0 1115.9 1716.7 1116.0 1719.3 1116.0C1722.0 1116.1 1724.6 1116.2 1727.3 1116.3C1730.0 1116.3 1732.6 1116.4 1735.3 1116.5C1737.9 1116.6 1740.6 1116.6 1743.2 1116.7C1745.9 1116.8 1748.6 1116.9 1751.2 1116.9C1753.9 1117.0 1756.5 1117.1 1759.2 1117.1C1761.8 1117.2 1764.5 1117.2 1767.2 1117.3C1769.8 1117.4 1772.5 1117.4 1775.1 1117.5C1777.8 1117.5 1780.4 1117.6 1783.1 1117.6C1785.8 1117.7 1788.4 1117.7 1791.1 1117.8C1793.7 1117.8 1796.4 1117.9 1799.1 1117.9C1801.7 1118.0 1804.4 1118.0 1807.0 1118.1C1809.7 1118.1 1812.4 1118.1 1815.0 1118.2C1817.7 1118.2 1820.3 1118.2 1823.0 1118.3C1825.7 1118.3 1828.3 1118.3 1831.0 1118.4C1833.7 1118.4 1836.3 1118.4 1839.0 1118.4C1841.7 1118.5 1844.3 1118.5 1847.0 1118.5C1849.7 1118.5 1852.3 1118.5 1855.0 1118.6C1857.7 1118.6 1861.7 1118.6 1863.0 1118.6" stroke="#0000ff"/>
<path d="M357.8 152.4C359.1 152.4 363.1 152.6 365.8 152.6C368.4 152.7 371.1 152.8 373.8 152.9C376.4 153.0 379.1 153.0 381.7 153.1C384.4 153.2 387.0 153.3 389.7 153.3C392.4 153.4 395.0 153.5 397.7 153.5C400.3 153.6 403.0 153.7 405.6 153.7C408.3 153.8 410.9 153.9 413.6 153.9C416.3 154.0 418.9 154.0 421.6 154.1C424.2 154.2 426.9 154.2 429.5 154.3C432.2 154.3 434.8 154.4 437.5 154.4C440.2 154.5 442.8 154.6 445.5 154.6C448.1 154.7 450.8 154.7 453.4 154.8C456.1 154.8 458.7 154.9 461.4 154.9C464.0 155.0 466.7 155.0 469.3 155.1C472.0 155.1 474.7 155.2 477.3 155.2C480.0 155.3 482.6 155.3 485.3 155.3C487.9 155.4 490.6 155.4 493.2 155.5C495.9 155.5 498.5 155.6 501.2 155.6C503.9 155.7 506.5 155.7 509.2 155.8C511.8 155.8 514.5 155.8 517.1 155.9C519.8 155.9 522.4 156.0 525.1 156.0C527.7 156.1 530.4 156.1 533.1 156.1C535.7 156.2 538.4 156.2 541.0 156.3C543.7 156.3 546.3 156.4 549.0 156.4C551.7 156.4 554.3 156.5 557.0 156.5C559.6 156.6 562.3 156.6 564.9 156.7C567.6 156.7 570.3 156.8 572.9 156.8C575.6 156.9 578.2 156.9 580.9 156.9C583.5 157.0 586.2 157.0 588.9 157.1C591.5 157.1 594.2 157.2 596.8 157.2C599.5 157.3 602.2 157.3 604.8 157.4C607.5 157.4 610.1 157.5 612.8 157.6C615.5 157.6 618.1 157.7 620.8 157.8C623.4 157.8 626.1 157.9 628.8 158.0C631.4 158.1 634.1 158.2 636.7 158.3C639.4 158.4 642.0 158.5 644.7 158.7C647.4 158.8 650.0 159.0 652.7 159.2C655.3 159.3 657.9 159.5 660.6 159.8C663.2 160.0 665.9 160.2 668.5 160.5C671.2 160.7 673.8 161.0 676.4 161.3C679.1 161.6 681.7 162.0 684.3 162.4C686.9 162.7 689.6 163.1 692.2 163.6C694.8 164.0 697.4 164.4 700.0 164.9C702.6 165.4 705.2 166.0 707.8 166.5C710.4 167.1 713.0 167.7 715.6 168.3C718.2 168.9 720.8 169.6 723.3 170.3C725.9 171.0 728.4 171.7 731.0 172.5C733.5 173.3 736.1 174.1 738.6 174.9C741.1 175.8 743.6 176.6 746.1 177.6C748.6 178.5 751.1 179.4 753.6 180.4C756.1 181.4 758.5 182.4 761.0 183.5C763.4 184.5 765.8 185.6 768.3 186.7C770.7 187.8 773.1 188.9 775.5 190.0C778.0 191.1 780.4 192.2 782.8 193.4C785.2 194.5 787.6 195.6 790.0 196.7C792.4 197.9 794.8 199.0 797.3 200.0C799.7 201.1 802.1 202.2 804.5 203.2C807.0 204.3 809.4 205.3 811.9 206.3C814.4 207.2 816.8 208.2 819.3 209.1C821.8 210.0 824.3 210.8 826.8 211.7C829.3 212.6 831.8 213.4 834.4 214.2C836.9 215.0 839.4 215.9 841.9 216.7C844.5 217.5 847.0 218.3 849.5 219.1C852.0 219.9 854.6 220.7 857.1 221.5C859.6 222.4 862.1 223.2 864.6 224.1C867.1 225.1 869.6 226.0 872.1 227.0C874.6 228.0 877.0 229.1 879.4 230.2C881.8 231.3 884.2 232.5 886.6 233.7C889.0 235.0 891.3 236.3 893.6 237.6C895.9 238.9 898.2 240.3 900.5 241.7C902.7 243.2 904.9 244.7 907.1 246.2C909.3 247.7 911.4 249.3 913.5 250.9C915.6 252.5 917.7 254.2 919.7 255.9C921.7 257.6 923.7 259.4 925.6 261.1C927.6 262.9 929.5 264.8 931.3 266.6C933.2 268.5 935.0 270.4 936.7 272.3C938.5 274.3 940.2 276.3 941.9 278.3C943.6 280.3 945.2 282.3 946.8 284.4C948.4 286.5 950.0 288.6 951.5 290.7C953.0 292.9 954.5 295.0 956.0 297.2C957.4 299.4 958.8 301.6 960.2 303.9C961.6 306.1 963.0 308.4 964.3 310.7C965.6 313.0 966.9 315.3 968.2 317.7C969.4 320.0 970.7 322.4 971.9 324.8C973.1 327.1 974.2 329.5 975.4 332.0C976.5 334.4 977.7 336.8 978.8 339.3C979.9 341.7 980.9 344.2 982.0 346.6C983.0 349.1 984.1 351.6 985.1 354.1C986.1 356.6 987.1 359.1 988.0 361.6C989.0 364.2 989.9 366.7 990.9 369.2C991.8 371.7 992.7 374.3 993.6 376.8C994.5 379.4 995.4 381.9 996.3 384.5C997.1 387.0 998.0 389.6 998.8 392.1C999.6 394.7 1000.5 397.2 1001.3 399.8C1002.1 402.3 1002.9 404.9 1003.7 407.4C1004.5 410.0 1005.2 412.5 1006.0 415.1C1006.8 417.7 1007.5 420.2 1008.3 422.8C1009.0 425.3 1009.7 427.9 1010.5 430.4C1011.2 433.0 1011.9 435.5 1012.6 438.1C1013.3 440.6 1014.0 443.2 1014.7 445.8C1015.3 448.3 1016.0 450.9 1016.7 453.4C1017.3 456.0 1018.0 458.6 1018.6 461.1C1019.3 463.7 1019.9 466.2 1020.5 468.8C1021.1 471.4 1021.8 473.9 1022.4 476.5C1023.0 479.1 1023.6 481.6 1024.2 484.2C1024.8 486.8 1025.3 489.4 1025.9 491.9C1026.5 494.5 1027.1 497.1 1027.6 499.7C1028.2 502.2 1028.8 504.8 1029.3 507.4C1029.9 510.0 1030.4 512.6 1030.9 515.2C1031.5 517.7 1032.0 520.3 1032.5 522.9C1033.1 525.5 1033.6 528.1 1034.1 530.7C1034.6 533.3 1035.1 535.9 1035.6 538.5C1036.1 541.1 1036.6 543.7 1037.1 546.3C1037.6 548.9 1038.1 551.5 1038.6 554.1C1039.1 556.7 1039.6 559.3 1040.1 561.9C1040.5 564.5 1041.0 567.1 1041.5 569.8C1042.0 572.4 1042.4 575.0 1042.9 577.6C1043.3 580.2 1043.8 582.8 1044.3 585.5C1044.7 588.1 1045.2 590.7 1045.6 593.3C1046.1 595.9 1046.5 598.6 1047.0 601.2C1047.4 603.8 1047.8 606.4 1048.3 609.1C1048.7 611.7 1049.1 614.3 1049.6 616.9C1050.0 619.6 1050.4 622.2 1050.9 624.8C1051.3 627.4 1051.7 630.1 1052.1 632.7C1052.5 635.3 1053.0 638.0 1053.4 640.6C1053.8 643.2 1054.2 645.9 1054.6 648.5C1055.1 651.1 1055.5 653.8 1055.9 656.4C1056.3 659.0 1056.7 661.7 1057.1 664.3C1057.5 666.9 1057.9 669.6 1058.3 672.2C1058.8 674.8 1059.2 677.5 1059.6 680.1C1060.0 682.7 1060.4 685.4 1060.8 688.0C1061.2 690.6 1061.6 693.3 1062.0 695.9C1062.4 698.5 1062.8 701.2 1063.2 703.8C1063.6 706.4 1064.0 709.1 1064.5 711.7C1064.9 714.3 1065.3 717.0 1065.7 719.6C1066.1 722.2 1066.5 724.9 1066.9 727.5C1067.3 730.1 1067.8 732.7 1068.2 735.4C1068.6 738.0 1069.0 740.6 1069.5 743.2C1069.9 745.9 1070.4 748.5 1070.8 751.1C1071.3 753.7 1071.7 756.3 1072.2 759.0C1072.7 761.6 1073.2 764.2 1073.6 766.8C1074.1 769.4 1074.7 772.0 1075.2 774.6C1075.7 777.2 1076.2 779.8 1076.8 782.4C1077.3 785.0 1077.9 787.6 1078.5 790.2C1079.1 792.7 1079.7 795.3 1080.3 797.9C1080.9 800.5 1081.5 803.0 1082.2 805.6C1082.8 808.2 1083.5 810.7 1084.2 813.3C1084.9 815.9 1085.6 818.4 1086.4 820.9C1087.1 823.5 1087.9 826.0 1088.7 828.6C1089.5 831.1 1090.3 833.6 1091.1 836.1C1092.0 838.7 1092.8 841.2 1093.7 843.7C1094.6 846.2 1095.6 848.7 1096.5 851.2C1097.5 853.7 1098.5 856.2 1099.5 858.6C1100.5 861.1 1101.6 863.5 1102.7 865.9C1103.9 868.4 1105.0 870.8 1106.2 873.1C1107.5 875.5 1108.8 877.8 1110.1 880.0C1111.5 882.3 1112.9 884.5 1114.4 886.7C1115.9 888.9 1117.5 891.0 1119.1 893.0C1120.8 895.1 1122.5 897.1 1124.3 899.0C1126.2 900.9 1128.1 902.7 1130.0 904.5C1132.0 906.3 1134.0 908.1 1136.1 909.7C1138.2 911.4 1140.3 913.0 1142.5 914.6C1144.7 916.2 1146.9 917.7 1149.1 919.2C1151.3 920.7 1153.6 922.2 1155.8 923.6C1158.1 925.0 1160.4 926.3 1162.7 927.7C1165.0 929.0 1167.3 930.3 1169.7 931.5C1172.0 932.8 1174.4 934.0 1176.7 935.2C1179.1 936.4 1181.5 937.6 1183.9 938.7C1186.3 939.9 1188.7 941.0 1191.1 942.1C1193.5 943.1 1196.0 944.2 1198.4 945.3C1200.9 946.3 1203.3 947.3 1205.8 948.3C1208.2 949.4 1210.7 950.3 1213.2 951.3C1215.6 952.3 1218.1 953.3 1220.6 954.2C1223.1 955.2 1225.6 956.1 1228.1 957.1C1230.6 958.0 1233.1 959.0 1235.6 959.9C1238.1 960.8 1240.6 961.8 1243.1 962.7C1245.6 963.6 1248.1 964.5 1250.6 965.5C1253.1 966.4 1255.6 967.4 1258.0 968.3C1260.5 969.2 1263.0 970.2 1265.5 971.2C1268.0 972.1 1270.5 973.1 1272.9 974.1C1275.4 975.1 1277.9 976.0 1280.3 977.1C1282.8 978.1 1285.2 979.1 1287.7 980.2C1290.1 981.2 1292.5 982.3 1295.0 983.3C1297.4 984.4 1299.8 985.5 1302.2 986.6C1304.6 987.7 1307.0 988.8 1309.4 990.0C1311.8 991.1 1314.2 992.2 1316.6 993.4C1319.0 994.6 1321.4 995.7 1323.7 996.9C1326.1 998.1 1328.5 999.3 1330.8 1000.5C1333.2 1001.7 1335.6 1002.9 1337.9 1004.1C1340.3 1005.3 1342.6 1006.6 1345.0 1007.8C1347.3 1009.0 1349.7 1010.3 1352.0 1011.5C1354.4 1012.8 1356.7 1014.0 1359.0 1015.3C1361.4 1016.6 1363.7 1017.8 1366.0 1019.1C1368.4 1020.4 1370.7 1021.7 1373.0 1022.9C1375.3 1024.2 1377.7 1025.5 1380.0 1026.8C1382.3 1028.1 1384.6 1029.4 1387.0 1030.7C1389.3 1032.0 1391.6 1033.3 1393.9 1034.6C1396.3 1035.9 1398.6 1037.2 1400.9 1038.5C1403.2 1039.7 1405.6 1041.0 1407.9 1042.3C1410.2 1043.5 1412.6 1044.8 1415.0 1046.0C1417.3 1047.2 1419.7 1048.4 1422.1 1049.6C1424.4 1050.8 1426.8 1051.9 1429.2 1053.0C1431.7 1054.1 1434.1 1055.2 1436.5 1056.3C1439.0 1057.3 1441.4 1058.3 1443.9 1059.3C1446.4 1060.2 1448.8 1061.2 1451.3 1062.0C1453.8 1062.9 1456.4 1063.8 1458.9 1064.6C1461.4 1065.5 1463.9 1066.3 1466.5 1067.0C1469.0 1067.8 1471.6 1068.6 1474.1 1069.3C1476.7 1070.0 1479.3 1070.7 1481.8 1071.3C1484.4 1072.0 1487.0 1072.6 1489.6 1073.2C1492.2 1073.8 1494.8 1074.4 1497.4 1075.0C1500.0 1075.5 1502.6 1076.1 1505.2 1076.6C1507.8 1077.1 1510.4 1077.6 1513.0 1078.0C1515.7 1078.5 1518.3 1078.9 1520.9 1079.4C1523.5 1079.8 1526.1 1080.2 1528.8 1080.6C1531.4 1081.0 1534.0 1081.4 1536.7 1081.7C1539.3 1082.1 1541.9 1082.4 1544.6 1082.7C1547.2 1083.0 1549.8 1083.4 1552.5 1083.6C1555.1 1083.9 1557.7 1084.2 1560.4 1084.5C1563.0 1084.7 1565.7 1085.0 1568.3 1085.2C1571.0 1085.5 1573.6 1085.7 1576.3 1085.9C1578.9 1086.1 1581.6 1086.3 1584.2 1086.5C1586.9 1086.7 1589.5 1086.9 1592.2 1087.1C1594.8 1087.3 1597.5 1087.4 1600.1 1087.6C1602.8 1087.7 1605.4 1087.9 1608.1 1088.0C1610.7 1088.2 1613.4 1088.3 1616.0 1088.5C1618.7 1088.6 1621.4 1088.8 1624.0 1088.9C1626.7 1089.0 1629.3 1089.1 1632.0 1089.3C1634.6 1089.4 1637.3 1089.5 1640.0 1089.6C1642.6 1089.8 1645.3 1089.9 1647.9 1090.0C1650.6 1090.1 1653.2 1090.3 1655.9 1090.4C1658.5 1090.5 1661.2 1090.6 1663.9 1090.7C1666.5 1090.8 1669.2 1091.0 1671.8 1091.1C1674.5 1091.2 1677.1 1091.3 1679.8 1091.4C1682.4 1091.5 1685.1 1091.6 1687.7 1091.7C1690.4 1091.9 1693.0 1092.0 1695.7 1092.1C1698.4 1092.2 1701.0 1092.3 1703.7 1092.4C1706.3 1092.5 1709.0 1092.6 1711.6 1092.7C1714.3 1092.8 1716.9 1092.9 1719.6 1093.0C1722.2 1093.1 1724.9 1093.2 1727.5 1093.3C1730.2 1093.4 1732.9 1093.4 1735.5 1093.5C1738.2 1093.6 1740.8 1093.7 1743.5 1093.8C1746.1 1093.9 1748.8 1094.0 1751.4 1094.1C1754.1 1094.1 1756.7 1094.2 1759.4 1094.3C1762.0 1094.4 1764.7 1094.4 1767.4 1094.5C1770.0 1094.6 1772.7 1094.7 1775.3 1094.7C1778.0 1094.8 1780.6 1094.9 1783.3 1094.9C1785.9 1095.0 1788.6 1095.1 1791.2 1095.1C1793.9 1095.2 1796.6 1095.3 1799.2 1095.3C1801.9 1095.4 1804.5 1095.4 1807.2 1095.5C1809.8 1095.5 1812.5 1095.6 1815.2 1095.6C1817.8 1095.7 1820.5 1095.7 1823.1 1095.8C1825.8 1095.8 1828.4 1095.8 1831.1 1095.9C1833.8 1095.9 1836.4 1096.0 1839.1 1096.0C1841.7 1096.0 1844.4 1096.0 1847.0 1096.1C1849.7 1096.1 1852.4 1096.1 1855.0 1096.1C1857.7 1096.2 1861.7 1096.2 1863.0 1096.2" stroke="#00ff00"/>
</g>
<g stroke="#000" stroke-width="8" fill="none" stroke-linecap="butt">
<line x1="285.3" y1="33.7" x2="1908.4" y2="33.7"/>
<line x1="271.6" y1="1326.7" x2="1908.4" y2="1326.7"/>
<line x1="297.5" y1="29.7" x2="297.5" y2="1352.1"/>
<line x1="1903.1" y1="29.7" x2="1903.1" y2="1352.1" stroke-width="10.6"/>
<line x1="271.5" y1="1092.0" x2="297.5" y2="1092.0" stroke-width="9.3"/>
<line x1="271.5" y1="856.9" x2="297.5" y2="856.9" stroke-width="9.3"/>
<line x1="271.5" y1="621.8" x2="297.5" y2="621.8" stroke-width="9.3"/>
<line x1="271.5" y1="386.7" x2="297.5" y2="386.7" stroke-width="9.3"/>
<line x1="271.5" y1="151.6" x2="297.5" y2="151.6" stroke-width="9.3"/>
<line x1="285.2" y1="1209.6" x2="297.5" y2="1209.6" stroke-width="9.3"/>
<line x1="285.2" y1="974.5" x2="297.5" y2="974.5" stroke-width="9.3"/>
<line x1="285.2" y1="739.4" x2="297.5" y2="739.4" stroke-width="9.3"/>
<line x1="285.2" y1="504.3" x2="297.5" y2="504.3" stroke-width="9.3"/>
<line x1="285.2" y1="269.2" x2="297.5" y2="269.2" stroke-width="9.3"/>
<line x1="297.5" y1="1326.7" x2="297.5" y2="1352.1"/>
<line x1="526.9" y1="1326.7" x2="526.9" y2="1352.1"/>
<line x1="756.2" y1="1326.7" x2="756.2" y2="1352.1"/>
<line x1="985.6" y1="1326.7" x2="985.6" y2="1352.1"/>
<line x1="1214.9" y1="1326.7" x2="1214.9" y2="1352.1"/>
<line x1="1444.3" y1="1326.7" x2="1444.3" y2="1352.1"/>
<line x1="1673.6" y1="1326.7" x2="1673.6" y2="1352.1"/>
<line x1="1903.0" y1="1326.7" x2="1903.0" y2="1352.1"/>
</g>
<g font-size="56">
<text x="255" y="1342.7" text-anchor="end">0</text>
<text x="255" y="1107.6" text-anchor="end">20</text>
<text x="255" y="872.5" text-anchor="end">40</text>
<text x="255" y="637.4" text-anchor="end">60</text>
<text x="255" y="402.3" text-anchor="end">80</text>
<text x="255" y="167.2" text-anchor="end">100</text>
<text x="297.5" y="1410.8" text-anchor="middle">0</text>
<text x="526.9" y="1410.8" text-anchor="middle">100</text>
<text x="756.2" y="1410.8" text-anchor="middle">200</text>
<text x="985.6" y="1410.8" text-anchor="middle">300</text>
<text x="1214.9" y="1410.8" text-anchor="middle">400</text>
<text x="1444.3" y="1410.8" text-anchor="middle">500</text>
<text x="1673.6" y="1410.8" text-anchor="middle">600</text>
<text x="1903.0" y="1410.8" text-anchor="middle">700</text>
</g>
<text x="1101" y="1517" font-size="68" text-anchor="middle">Temperature (ºC)</text>
<text transform="translate(89,646.5) rotate(-90)" font-size="67.3" text-anchor="middle">Weight (%)</text>
<text x="398" y="1240.5" font-size="112">a<tspan font-size="78" dx="0">)</tspan></text>
<g transform="translate(0.0,0.0)">
<rect x="1356" y="85.3" width="475.0" height="381.5" fill="#fff" stroke="none"/>
<path d="M1356 85.3H1831.0V466.8H1356Z" fill="none" stroke="#9a9a9a" stroke-width="2.6"/>
<path d="M1356 466.8V85.3H1831" fill="none" stroke="#000" stroke-width="2.8"/>
<line x1="1363" y1="137.2" x2="1540" y2="137.2" stroke="#000000" stroke-width="8.3" stroke-linecap="butt"/>
<text x="1556" y="161.8" font-size="76">PU</text>
<line x1="1363" y1="230.0" x2="1540" y2="230.0" stroke="#ff0000" stroke-width="8.3" stroke-linecap="butt"/>
<text x="1556" y="254.6" font-size="76">EG1-10</text>
<line x1="1363" y1="322.3" x2="1540" y2="322.3" stroke="#0000ff" stroke-width="8.3" stroke-linecap="butt"/>
<text x="1556" y="346.9" font-size="76">EG2-10</text>
<line x1="1363" y1="414.7" x2="1540" y2="414.7" stroke="#00ff00" stroke-width="8.3" stroke-linecap="butt"/>
<text x="1556" y="439.3" font-size="76">EG3-10</text>
</g>
</g>
<g id="chart-b">
<g fill="none" stroke-width="8.6" stroke-linejoin="round" stroke-linecap="butt">
<path d="M299.0 3082.8C299.8 3082.8 302.3 3082.6 303.9 3082.6C305.6 3082.5 307.2 3082.4 308.9 3082.3C310.5 3082.3 312.2 3082.2 313.9 3082.1C315.5 3082.1 317.2 3082.0 318.8 3082.0C320.5 3081.9 322.2 3081.9 323.8 3081.8C325.5 3081.8 327.1 3081.7 328.8 3081.7C330.5 3081.6 332.1 3081.6 333.8 3081.6C335.5 3081.5 337.1 3081.5 338.8 3081.4C340.5 3081.4 342.1 3081.4 343.8 3081.3C345.5 3081.3 347.1 3081.2 348.8 3081.2C350.5 3081.2 352.2 3081.1 353.8 3081.1C355.5 3081.0 357.2 3081.0 358.8 3081.0C360.5 3080.9 362.2 3080.9 363.9 3080.8C365.5 3080.8 367.2 3080.7 368.9 3080.7C370.5 3080.6 372.2 3080.5 373.9 3080.5C375.6 3080.4 377.2 3080.4 378.9 3080.3C380.6 3080.2 382.2 3080.1 383.9 3080.1C385.6 3080.0 387.2 3079.9 388.9 3079.8C390.6 3079.7 392.2 3079.6 393.9 3079.5C395.6 3079.4 397.2 3079.3 398.9 3079.2C400.6 3079.1 402.2 3079.0 403.9 3078.8C405.6 3078.7 407.2 3078.6 408.9 3078.4C410.5 3078.3 412.2 3078.1 413.9 3078.0C415.5 3077.8 417.2 3077.6 418.8 3077.5C420.5 3077.3 422.1 3077.1 423.8 3076.9C425.4 3076.7 427.1 3076.5 428.7 3076.3C430.4 3076.0 432.0 3075.8 433.6 3075.6C435.3 3075.3 436.9 3075.1 438.6 3074.8C440.2 3074.5 441.8 3074.3 443.5 3074.0C445.1 3073.7 446.7 3073.4 448.4 3073.1C450.0 3072.8 451.6 3072.5 453.2 3072.2C454.9 3071.9 456.5 3071.5 458.1 3071.2C459.7 3070.8 461.3 3070.5 463.0 3070.1C464.6 3069.8 466.2 3069.4 467.8 3069.0C469.4 3068.7 471.0 3068.3 472.6 3067.9C474.3 3067.5 475.9 3067.1 477.5 3066.7C479.1 3066.2 480.7 3065.8 482.3 3065.4C483.9 3065.0 485.5 3064.5 487.1 3064.1C488.7 3063.6 490.3 3063.2 491.9 3062.7C493.5 3062.2 495.1 3061.8 496.7 3061.3C498.3 3060.8 499.8 3060.3 501.4 3059.8C503.0 3059.3 504.6 3058.8 506.2 3058.3C507.8 3057.8 509.4 3057.3 511.0 3056.8C512.5 3056.2 514.1 3055.7 515.7 3055.2C517.3 3054.6 518.9 3054.1 520.4 3053.5C522.0 3053.0 523.6 3052.4 525.2 3051.8C526.7 3051.3 528.3 3050.7 529.9 3050.2C531.5 3049.6 533.0 3049.0 534.6 3048.5C536.2 3047.9 537.7 3047.3 539.3 3046.8C540.9 3046.2 542.5 3045.7 544.0 3045.1C545.6 3044.5 547.2 3044.0 548.8 3043.4C550.3 3042.9 551.9 3042.3 553.5 3041.8C555.1 3041.2 556.6 3040.7 558.2 3040.1C559.8 3039.6 561.4 3039.1 563.0 3038.6C564.5 3038.0 566.1 3037.5 567.7 3037.0C569.3 3036.5 570.9 3036.0 572.5 3035.6C574.1 3035.1 575.6 3034.6 577.2 3034.2C578.8 3033.7 580.4 3033.2 582.0 3032.8C583.6 3032.4 585.2 3032.0 586.8 3031.6C588.4 3031.2 590.0 3030.8 591.6 3030.4C593.2 3030.0 594.9 3029.7 596.5 3029.3C598.1 3029.0 599.7 3028.7 601.3 3028.4C603.0 3028.1 604.6 3027.8 606.2 3027.5C607.8 3027.3 609.5 3027.0 611.1 3026.8C612.7 3026.6 614.4 3026.4 616.0 3026.2C617.7 3026.0 619.3 3025.9 621.0 3025.8C622.6 3025.6 624.3 3025.5 626.0 3025.5C627.6 3025.4 629.3 3025.3 631.0 3025.3C632.7 3025.3 634.3 3025.3 636.0 3025.3C637.7 3025.4 639.4 3025.5 641.1 3025.6C642.8 3025.7 644.4 3025.8 646.1 3026.0C647.8 3026.1 649.5 3026.3 651.1 3026.6C652.8 3026.8 654.5 3027.1 656.1 3027.5C657.8 3027.8 659.4 3028.2 661.1 3028.6C662.7 3029.0 664.3 3029.4 666.0 3029.9C667.6 3030.4 669.2 3031.0 670.8 3031.6C672.4 3032.2 674.0 3032.8 675.5 3033.4C677.1 3034.0 678.7 3034.7 680.3 3035.3C681.8 3035.9 683.4 3036.5 685.0 3037.0C686.6 3037.6 688.1 3038.1 689.7 3038.5C691.3 3038.9 692.9 3039.3 694.5 3039.6C696.0 3039.9 697.7 3040.1 699.3 3040.1C700.9 3040.2 702.5 3040.2 704.1 3040.1C705.7 3040.1 707.3 3039.9 708.9 3039.6C710.5 3039.4 712.1 3039.1 713.7 3038.7C715.3 3038.3 716.9 3037.8 718.4 3037.3C720.0 3036.8 721.5 3036.2 723.0 3035.5C724.6 3034.9 726.0 3034.2 727.5 3033.5C729.0 3032.7 730.4 3032.0 731.8 3031.1C733.2 3030.3 734.5 3029.4 735.9 3028.5C737.2 3027.6 738.5 3026.7 739.8 3025.7C741.0 3024.7 742.3 3023.7 743.5 3022.6C744.7 3021.6 745.9 3020.5 747.0 3019.3C748.2 3018.2 749.3 3017.1 750.4 3015.9C751.5 3014.7 752.6 3013.5 753.6 3012.2C754.7 3011.0 755.7 3009.7 756.7 3008.4C757.7 3007.1 758.7 3005.8 759.6 3004.4C760.6 3003.1 761.5 3001.7 762.5 3000.3C763.4 2998.9 764.3 2997.5 765.2 2996.0C766.0 2994.6 766.9 2993.2 767.7 2991.7C768.6 2990.2 769.4 2988.7 770.2 2987.2C771.0 2985.7 771.8 2984.2 772.6 2982.7C773.4 2981.1 774.1 2979.6 774.9 2978.1C775.6 2976.5 776.4 2974.9 777.1 2973.4C777.8 2971.8 778.6 2970.2 779.3 2968.7C780.0 2967.1 780.7 2965.5 781.4 2963.9C782.0 2962.3 782.7 2960.7 783.4 2959.1C784.1 2957.5 784.7 2955.9 785.4 2954.3C786.1 2952.8 786.7 2951.2 787.4 2949.6C788.0 2948.0 788.7 2946.4 789.3 2944.8C789.9 2943.3 790.6 2941.7 791.2 2940.1C791.9 2938.6 792.5 2937.0 793.1 2935.4C793.7 2933.9 794.4 2932.3 795.0 2930.8C795.6 2929.2 796.2 2927.7 796.8 2926.1C797.5 2924.6 798.1 2923.1 798.7 2921.5C799.3 2920.0 799.9 2918.4 800.5 2916.9C801.1 2915.4 801.7 2913.8 802.3 2912.3C802.9 2910.8 803.5 2909.3 804.1 2907.7C804.7 2906.2 805.3 2904.7 805.9 2903.2C806.4 2901.6 807.0 2900.1 807.6 2898.6C808.2 2897.1 808.8 2895.5 809.3 2894.0C809.9 2892.5 810.5 2891.0 811.1 2889.4C811.6 2887.9 812.2 2886.4 812.8 2884.8C813.3 2883.3 813.9 2881.8 814.4 2880.3C815.0 2878.7 815.6 2877.2 816.1 2875.6C816.7 2874.1 817.2 2872.6 817.8 2871.0C818.3 2869.5 818.9 2867.9 819.4 2866.4C820.0 2864.8 820.5 2863.3 821.1 2861.7C821.6 2860.2 822.1 2858.6 822.7 2857.1C823.2 2855.5 823.7 2853.9 824.3 2852.4C824.8 2850.8 825.3 2849.2 825.9 2847.7C826.4 2846.1 826.9 2844.5 827.4 2842.9C827.9 2841.4 828.5 2839.8 829.0 2838.2C829.5 2836.6 830.0 2835.0 830.5 2833.4C831.0 2831.9 831.5 2830.3 832.0 2828.7C832.5 2827.1 833.0 2825.5 833.5 2823.9C834.0 2822.3 834.5 2820.7 835.0 2819.1C835.5 2817.5 836.0 2815.9 836.4 2814.3C836.9 2812.7 837.4 2811.1 837.9 2809.5C838.3 2807.9 838.8 2806.3 839.3 2804.6C839.8 2803.0 840.2 2801.4 840.7 2799.8C841.1 2798.2 841.6 2796.6 842.0 2795.0C842.5 2793.3 842.9 2791.7 843.4 2790.1C843.8 2788.5 844.3 2786.9 844.7 2785.2C845.1 2783.6 845.6 2782.0 846.0 2780.4C846.4 2778.7 846.8 2777.1 847.2 2775.5C847.7 2773.9 848.1 2772.2 848.5 2770.6C848.9 2769.0 849.3 2767.3 849.7 2765.7C850.1 2764.1 850.5 2762.4 850.9 2760.8C851.3 2759.2 851.7 2757.6 852.0 2755.9C852.4 2754.3 852.8 2752.6 853.2 2751.0C853.5 2749.4 853.9 2747.7 854.3 2746.1C854.6 2744.5 855.0 2742.8 855.3 2741.2C855.7 2739.6 856.0 2737.9 856.3 2736.3C856.7 2734.6 857.0 2733.0 857.4 2731.4C857.7 2729.7 858.0 2728.1 858.3 2726.4C858.6 2724.8 858.9 2723.2 859.3 2721.5C859.6 2719.9 859.9 2718.3 860.2 2716.6C860.4 2715.0 860.7 2713.3 861.0 2711.7C861.3 2710.1 861.6 2708.4 861.9 2706.8C862.1 2705.2 862.4 2703.5 862.7 2701.9C862.9 2700.2 863.2 2698.6 863.4 2697.0C863.7 2695.3 863.9 2693.7 864.2 2692.0C864.4 2690.4 864.7 2688.8 864.9 2687.1C865.2 2685.5 865.4 2683.9 865.6 2682.2C865.8 2680.6 866.1 2678.9 866.3 2677.3C866.5 2675.7 866.7 2674.0 867.0 2672.4C867.2 2670.7 867.4 2669.1 867.6 2667.5C867.8 2665.8 868.0 2664.2 868.2 2662.5C868.4 2660.9 868.6 2659.3 868.8 2657.6C869.0 2656.0 869.2 2654.3 869.4 2652.7C869.6 2651.1 869.8 2649.4 870.0 2647.8C870.2 2646.1 870.4 2644.5 870.6 2642.9C870.7 2641.2 870.9 2639.6 871.1 2637.9C871.3 2636.3 871.5 2634.6 871.7 2633.0C871.9 2631.3 872.0 2629.7 872.2 2628.1C872.4 2626.4 872.6 2624.8 872.8 2623.1C872.9 2621.5 873.1 2619.8 873.3 2618.2C873.5 2616.5 873.6 2614.9 873.8 2613.2C874.0 2611.6 874.2 2609.9 874.4 2608.3C874.5 2606.6 874.7 2605.0 874.9 2603.3C875.1 2601.7 875.3 2600.0 875.4 2598.4C875.6 2596.7 875.8 2595.1 876.0 2593.4C876.2 2591.8 876.3 2590.1 876.5 2588.5C876.7 2586.8 876.9 2585.1 877.1 2583.5C877.2 2581.8 877.4 2580.2 877.6 2578.5C877.8 2576.9 878.0 2575.2 878.2 2573.6C878.3 2571.9 878.5 2570.2 878.7 2568.6C878.9 2566.9 879.1 2565.3 879.2 2563.6C879.4 2561.9 879.6 2560.3 879.8 2558.6C880.0 2557.0 880.2 2555.3 880.3 2553.7C880.5 2552.0 880.7 2550.3 880.9 2548.7C881.1 2547.0 881.2 2545.4 881.4 2543.7C881.6 2542.0 881.8 2540.4 882.0 2538.7C882.2 2537.1 882.3 2535.4 882.5 2533.7C882.7 2532.1 882.9 2530.4 883.1 2528.8C883.2 2527.1 883.4 2525.4 883.6 2523.8C883.8 2522.1 883.9 2520.5 884.1 2518.8C884.3 2517.1 884.5 2515.5 884.7 2513.8C884.8 2512.2 885.0 2510.5 885.2 2508.8C885.4 2507.2 885.5 2505.5 885.7 2503.9C885.9 2502.2 886.1 2500.5 886.2 2498.9C886.4 2497.2 886.6 2495.6 886.7 2493.9C886.9 2492.3 887.1 2490.6 887.3 2489.0C887.4 2487.3 887.6 2485.6 887.8 2484.0C887.9 2482.3 888.1 2480.7 888.3 2479.0C888.4 2477.4 888.6 2475.7 888.8 2474.1C888.9 2472.4 889.1 2470.7 889.2 2469.1C889.4 2467.4 889.6 2465.8 889.7 2464.1C889.9 2462.5 890.0 2460.8 890.2 2459.2C890.4 2457.5 890.5 2455.9 890.7 2454.2C890.8 2452.6 891.0 2450.9 891.1 2449.2C891.3 2447.6 891.4 2445.9 891.6 2444.3C891.7 2442.6 891.9 2441.0 892.0 2439.3C892.1 2437.7 892.3 2436.0 892.4 2434.4C892.6 2432.7 892.7 2431.0 892.9 2429.4C893.0 2427.7 893.1 2426.1 893.3 2424.4C893.4 2422.8 893.5 2421.1 893.7 2419.4C893.8 2417.8 893.9 2416.1 894.1 2414.5C894.2 2412.8 894.3 2411.1 894.4 2409.5C894.6 2407.8 894.7 2406.2 894.8 2404.5C895.0 2402.9 895.1 2401.2 895.2 2399.5C895.3 2397.9 895.5 2396.2 895.6 2394.6C895.7 2392.9 895.8 2391.2 896.0 2389.6C896.1 2387.9 896.2 2386.3 896.3 2384.6C896.4 2382.9 896.6 2381.3 896.7 2379.6C896.8 2378.0 896.9 2376.3 897.0 2374.6C897.2 2373.0 897.3 2371.3 897.4 2369.6C897.5 2368.0 897.7 2366.3 897.8 2364.7C897.9 2363.0 898.0 2361.3 898.1 2359.7C898.3 2358.0 898.4 2356.4 898.5 2354.7C898.6 2353.0 898.8 2351.4 898.9 2349.7C899.0 2348.1 899.1 2346.4 899.3 2344.7C899.4 2343.1 899.5 2341.4 899.6 2339.8C899.8 2338.1 899.9 2336.4 900.0 2334.8C900.1 2333.1 900.3 2331.5 900.4 2329.8C900.5 2328.1 900.7 2326.5 900.8 2324.8C900.9 2323.2 901.1 2321.5 901.2 2319.8C901.3 2318.2 901.5 2316.5 901.6 2314.9C901.8 2313.2 901.9 2311.6 902.0 2309.9C902.2 2308.2 902.3 2306.6 902.5 2304.9C902.6 2303.3 902.8 2301.6 902.9 2300.0C903.1 2298.3 903.2 2296.6 903.4 2295.0C903.5 2293.3 903.7 2291.7 903.8 2290.0C904.0 2288.4 904.1 2286.7 904.3 2285.0C904.5 2283.4 904.6 2281.7 904.8 2280.1C904.9 2278.4 905.1 2276.8 905.3 2275.1C905.4 2273.5 905.6 2271.8 905.7 2270.2C905.9 2268.5 906.1 2266.8 906.2 2265.2C906.4 2263.5 906.6 2261.9 906.7 2260.2C906.9 2258.6 907.0 2256.9 907.2 2255.3C907.4 2253.6 907.5 2252.0 907.7 2250.3C907.8 2248.6 908.0 2247.0 908.1 2245.3C908.3 2243.7 908.5 2242.0 908.6 2240.4C908.8 2238.7 908.9 2237.1 909.1 2235.4C909.2 2233.7 909.4 2232.1 909.5 2230.4C909.7 2228.8 909.8 2227.1 910.0 2225.4C910.1 2223.8 910.2 2222.1 910.4 2220.5C910.5 2218.8 910.7 2217.1 910.8 2215.5C910.9 2213.8 911.1 2212.2 911.2 2210.5C911.3 2208.8 911.5 2207.2 911.6 2205.5C911.7 2203.9 911.9 2202.2 912.0 2200.5C912.1 2198.9 912.3 2197.2 912.4 2195.6C912.5 2193.9 912.7 2192.2 912.8 2190.6C912.9 2188.9 913.1 2187.3 913.2 2185.6C913.3 2183.9 913.5 2182.3 913.6 2180.6C913.7 2178.9 913.9 2177.3 914.0 2175.6C914.1 2174.0 914.3 2172.3 914.4 2170.6C914.5 2169.0 914.7 2167.3 914.8 2165.7C915.0 2164.0 915.1 2162.4 915.2 2160.7C915.4 2159.0 915.5 2157.4 915.7 2155.7C915.8 2154.1 916.0 2152.4 916.1 2150.7C916.3 2149.1 916.4 2147.4 916.6 2145.8C916.8 2144.1 916.9 2142.5 917.1 2140.8C917.3 2139.2 917.4 2137.5 917.6 2135.9C917.8 2134.2 917.9 2132.5 918.1 2130.9C918.3 2129.2 918.5 2127.6 918.7 2125.9C918.8 2124.3 919.0 2122.6 919.2 2121.0C919.4 2119.3 919.6 2117.7 919.8 2116.1C920.0 2114.4 920.2 2112.8 920.4 2111.1C920.6 2109.5 920.9 2107.8 921.1 2106.2C921.3 2104.5 921.5 2102.9 921.8 2101.3C922.0 2099.6 922.2 2098.0 922.5 2096.3C922.7 2094.7 922.9 2093.1 923.2 2091.4C923.5 2089.8 923.8 2088.1 924.2 2086.5C924.5 2084.8 924.9 2083.2 925.4 2081.5C925.9 2079.8 926.4 2077.9 927.1 2076.4C927.8 2075.0 928.6 2072.9 929.6 2072.6C930.6 2072.2 932.2 2073.3 933.1 2074.2C934.1 2075.2 934.9 2076.8 935.5 2078.3C936.1 2079.8 936.5 2081.6 936.9 2083.3C937.2 2085.0 937.5 2086.9 937.8 2088.6C938.1 2090.3 938.3 2092.0 938.6 2093.7C938.9 2095.4 939.1 2097.1 939.3 2098.7C939.6 2100.4 939.8 2102.0 940.0 2103.6C940.2 2105.2 940.5 2106.9 940.7 2108.5C940.9 2110.1 941.1 2111.8 941.3 2113.4C941.5 2115.0 941.7 2116.7 941.9 2118.3C942.1 2119.9 942.3 2121.6 942.5 2123.2C942.7 2124.9 942.9 2126.5 943.0 2128.1C943.2 2129.8 943.4 2131.4 943.6 2133.1C943.8 2134.7 943.9 2136.4 944.1 2138.0C944.3 2139.7 944.5 2141.3 944.6 2143.0C944.8 2144.6 945.0 2146.3 945.1 2147.9C945.3 2149.6 945.4 2151.2 945.6 2152.9C945.8 2154.5 945.9 2156.2 946.1 2157.9C946.2 2159.5 946.4 2161.2 946.6 2162.8C946.7 2164.5 946.9 2166.1 947.0 2167.8C947.2 2169.5 947.3 2171.1 947.5 2172.8C947.6 2174.4 947.8 2176.1 947.9 2177.8C948.1 2179.4 948.2 2181.1 948.4 2182.7C948.5 2184.4 948.7 2186.1 948.8 2187.7C949.0 2189.4 949.1 2191.0 949.3 2192.7C949.4 2194.4 949.6 2196.0 949.7 2197.7C949.9 2199.3 950.0 2201.0 950.2 2202.7C950.3 2204.3 950.5 2206.0 950.6 2207.6C950.8 2209.3 950.9 2210.9 951.1 2212.6C951.2 2214.3 951.4 2215.9 951.5 2217.6C951.6 2219.2 951.8 2220.9 951.9 2222.6C952.1 2224.2 952.2 2225.9 952.4 2227.5C952.5 2229.2 952.7 2230.9 952.8 2232.5C953.0 2234.2 953.1 2235.8 953.3 2237.5C953.4 2239.2 953.6 2240.8 953.7 2242.5C953.8 2244.1 954.0 2245.8 954.1 2247.5C954.3 2249.1 954.4 2250.8 954.6 2252.4C954.7 2254.1 954.9 2255.8 955.0 2257.4C955.2 2259.1 955.3 2260.7 955.4 2262.4C955.6 2264.0 955.7 2265.7 955.9 2267.4C956.0 2269.0 956.2 2270.7 956.3 2272.3C956.5 2274.0 956.6 2275.7 956.7 2277.3C956.9 2279.0 957.0 2280.6 957.2 2282.3C957.3 2284.0 957.5 2285.6 957.6 2287.3C957.8 2288.9 957.9 2290.6 958.0 2292.2C958.2 2293.9 958.3 2295.6 958.5 2297.2C958.6 2298.9 958.8 2300.5 958.9 2302.2C959.1 2303.9 959.2 2305.5 959.4 2307.2C959.5 2308.8 959.6 2310.5 959.8 2312.2C959.9 2313.8 960.1 2315.5 960.2 2317.1C960.4 2318.8 960.5 2320.4 960.7 2322.1C960.8 2323.8 960.9 2325.4 961.1 2327.1C961.2 2328.7 961.4 2330.4 961.5 2332.0C961.7 2333.7 961.8 2335.4 962.0 2337.0C962.1 2338.7 962.3 2340.3 962.4 2342.0C962.5 2343.6 962.7 2345.3 962.8 2347.0C963.0 2348.6 963.1 2350.3 963.3 2351.9C963.4 2353.6 963.6 2355.3 963.7 2356.9C963.9 2358.6 964.0 2360.2 964.1 2361.9C964.3 2363.5 964.4 2365.2 964.6 2366.8C964.7 2368.5 964.9 2370.2 965.0 2371.8C965.2 2373.5 965.3 2375.1 965.5 2376.8C965.6 2378.4 965.8 2380.1 965.9 2381.8C966.1 2383.4 966.2 2385.1 966.3 2386.7C966.5 2388.4 966.6 2390.0 966.8 2391.7C966.9 2393.4 967.1 2395.0 967.2 2396.7C967.4 2398.3 967.5 2400.0 967.7 2401.6C967.8 2403.3 968.0 2404.9 968.1 2406.6C968.3 2408.3 968.4 2409.9 968.6 2411.6C968.7 2413.2 968.9 2414.9 969.0 2416.5C969.2 2418.2 969.3 2419.8 969.5 2421.5C969.6 2423.2 969.8 2424.8 969.9 2426.5C970.1 2428.1 970.2 2429.8 970.4 2431.4C970.5 2433.1 970.7 2434.7 970.8 2436.4C971.0 2438.0 971.2 2439.7 971.3 2441.4C971.5 2443.0 971.6 2444.7 971.8 2446.3C971.9 2448.0 972.1 2449.6 972.2 2451.3C972.4 2452.9 972.5 2454.6 972.7 2456.2C972.9 2457.9 973.0 2459.6 973.2 2461.2C973.3 2462.9 973.5 2464.5 973.6 2466.2C973.8 2467.8 974.0 2469.5 974.1 2471.1C974.3 2472.8 974.4 2474.4 974.6 2476.1C974.7 2477.7 974.9 2479.4 975.1 2481.1C975.2 2482.7 975.4 2484.4 975.6 2486.0C975.7 2487.7 975.9 2489.3 976.0 2491.0C976.2 2492.6 976.4 2494.3 976.5 2495.9C976.7 2497.6 976.9 2499.2 977.0 2500.9C977.2 2502.5 977.4 2504.2 977.5 2505.8C977.7 2507.5 977.9 2509.2 978.0 2510.8C978.2 2512.5 978.4 2514.1 978.5 2515.8C978.7 2517.4 978.9 2519.1 979.0 2520.7C979.2 2522.4 979.4 2524.0 979.5 2525.7C979.7 2527.3 979.9 2529.0 980.1 2530.6C980.2 2532.3 980.4 2533.9 980.6 2535.6C980.8 2537.2 980.9 2538.9 981.1 2540.5C981.3 2542.2 981.5 2543.8 981.6 2545.5C981.8 2547.1 982.0 2548.8 982.2 2550.5C982.4 2552.1 982.5 2553.8 982.7 2555.4C982.9 2557.1 983.1 2558.7 983.3 2560.4C983.4 2562.0 983.6 2563.7 983.8 2565.3C984.0 2567.0 984.2 2568.6 984.4 2570.3C984.6 2571.9 984.7 2573.6 984.9 2575.2C985.1 2576.9 985.3 2578.5 985.5 2580.2C985.7 2581.8 985.9 2583.5 986.1 2585.1C986.3 2586.8 986.5 2588.4 986.6 2590.1C986.8 2591.7 987.0 2593.4 987.2 2595.0C987.4 2596.7 987.6 2598.3 987.8 2600.0C988.0 2601.6 988.2 2603.3 988.4 2604.9C988.6 2606.6 988.8 2608.2 989.0 2609.9C989.2 2611.5 989.4 2613.2 989.6 2614.8C989.8 2616.5 990.0 2618.1 990.2 2619.8C990.4 2621.4 990.6 2623.1 990.9 2624.7C991.1 2626.4 991.3 2628.0 991.5 2629.7C991.7 2631.3 991.9 2633.0 992.1 2634.6C992.3 2636.2 992.5 2637.9 992.8 2639.5C993.0 2641.2 993.2 2642.8 993.4 2644.5C993.6 2646.1 993.8 2647.8 994.1 2649.4C994.3 2651.1 994.5 2652.7 994.7 2654.4C994.9 2656.0 995.2 2657.7 995.4 2659.3C995.6 2661.0 995.8 2662.6 996.1 2664.3C996.3 2665.9 996.5 2667.6 996.8 2669.2C997.0 2670.9 997.2 2672.5 997.5 2674.2C997.7 2675.8 997.9 2677.5 998.2 2679.1C998.4 2680.7 998.6 2682.4 998.9 2684.0C999.1 2685.7 999.3 2687.3 999.6 2689.0C999.8 2690.6 1000.1 2692.3 1000.3 2693.9C1000.5 2695.6 1000.8 2697.2 1001.0 2698.9C1001.3 2700.5 1001.5 2702.2 1001.8 2703.8C1002.0 2705.5 1002.3 2707.1 1002.5 2708.7C1002.8 2710.4 1003.0 2712.0 1003.3 2713.7C1003.5 2715.3 1003.8 2717.0 1004.1 2718.6C1004.3 2720.3 1004.6 2721.9 1004.8 2723.6C1005.1 2725.2 1005.4 2726.9 1005.6 2728.5C1005.9 2730.1 1006.1 2731.8 1006.4 2733.4C1006.7 2735.1 1006.9 2736.7 1007.2 2738.4C1007.5 2740.0 1007.8 2741.7 1008.0 2743.3C1008.3 2745.0 1008.6 2746.6 1008.9 2748.2C1009.1 2749.9 1009.4 2751.5 1009.7 2753.2C1010.0 2754.8 1010.3 2756.5 1010.5 2758.1C1010.8 2759.8 1011.1 2761.4 1011.4 2763.1C1011.7 2764.7 1012.0 2766.3 1012.2 2768.0C1012.5 2769.6 1012.8 2771.3 1013.1 2772.9C1013.4 2774.6 1013.7 2776.2 1014.0 2777.9C1014.3 2779.5 1014.6 2781.1 1014.9 2782.8C1015.2 2784.4 1015.5 2786.1 1015.8 2787.7C1016.1 2789.4 1016.4 2791.0 1016.7 2792.7C1017.0 2794.3 1017.3 2795.9 1017.6 2797.6C1018.0 2799.2 1018.3 2800.9 1018.6 2802.5C1018.9 2804.2 1019.2 2805.8 1019.5 2807.5C1019.8 2809.1 1020.2 2810.7 1020.5 2812.4C1020.8 2814.0 1021.1 2815.7 1021.5 2817.3C1021.8 2819.0 1022.1 2820.6 1022.4 2822.2C1022.8 2823.9 1023.1 2825.5 1023.4 2827.2C1023.8 2828.8 1024.1 2830.5 1024.4 2832.1C1024.8 2833.7 1025.1 2835.4 1025.5 2837.0C1025.8 2838.7 1026.1 2840.3 1026.5 2842.0C1026.8 2843.6 1027.2 2845.3 1027.5 2846.9C1027.9 2848.5 1028.2 2850.2 1028.6 2851.8C1028.9 2853.5 1029.3 2855.1 1029.6 2856.7C1030.0 2858.4 1030.4 2860.0 1030.7 2861.7C1031.1 2863.3 1031.4 2865.0 1031.8 2866.6C1032.2 2868.2 1032.5 2869.9 1032.9 2871.5C1033.3 2873.2 1033.7 2874.8 1034.0 2876.4C1034.4 2878.1 1034.8 2879.7 1035.2 2881.3C1035.6 2883.0 1036.0 2884.6 1036.4 2886.2C1036.8 2887.8 1037.2 2889.5 1037.7 2891.1C1038.1 2892.7 1038.5 2894.3 1039.0 2895.9C1039.4 2897.5 1039.9 2899.1 1040.4 2900.7C1040.8 2902.3 1041.3 2903.9 1041.8 2905.5C1042.3 2907.1 1042.8 2908.7 1043.3 2910.2C1043.8 2911.8 1044.4 2913.4 1044.9 2914.9C1045.4 2916.5 1046.0 2918.0 1046.6 2919.6C1047.2 2921.1 1047.8 2922.6 1048.4 2924.2C1049.0 2925.7 1049.6 2927.2 1050.3 2928.7C1050.9 2930.2 1051.6 2931.7 1052.3 2933.2C1052.9 2934.6 1053.6 2936.1 1054.4 2937.6C1055.1 2939.0 1055.8 2940.5 1056.6 2941.9C1057.4 2943.3 1058.2 2944.8 1059.0 2946.2C1059.8 2947.6 1060.7 2949.0 1061.5 2950.4C1062.4 2951.7 1063.3 2953.1 1064.2 2954.5C1065.1 2955.8 1066.0 2957.1 1067.0 2958.5C1068.0 2959.8 1069.0 2961.1 1070.0 2962.4C1071.0 2963.7 1072.0 2965.0 1073.1 2966.2C1074.1 2967.5 1075.2 2968.7 1076.3 2970.0C1077.4 2971.2 1078.6 2972.4 1079.7 2973.6C1080.8 2974.8 1082.0 2976.0 1083.2 2977.1C1084.4 2978.3 1085.6 2979.4 1086.8 2980.6C1088.0 2981.7 1089.3 2982.8 1090.6 2983.9C1091.8 2985.0 1093.1 2986.1 1094.4 2987.1C1095.7 2988.2 1097.0 2989.2 1098.3 2990.2C1099.6 2991.2 1101.0 2992.2 1102.3 2993.2C1103.7 2994.2 1105.1 2995.1 1106.4 2996.1C1107.8 2997.0 1109.2 2997.9 1110.6 2998.8C1112.0 2999.7 1113.5 3000.6 1114.9 3001.4C1116.3 3002.3 1117.8 3003.1 1119.2 3004.0C1120.7 3004.8 1122.2 3005.6 1123.6 3006.3C1125.1 3007.1 1126.6 3007.9 1128.1 3008.6C1129.6 3009.3 1131.1 3010.1 1132.6 3010.8C1134.2 3011.4 1135.7 3012.1 1137.2 3012.8C1138.8 3013.4 1140.3 3014.1 1141.9 3014.7C1143.4 3015.3 1145.0 3015.9 1146.6 3016.4C1148.1 3017.0 1149.7 3017.6 1151.3 3018.1C1152.9 3018.6 1154.5 3019.1 1156.1 3019.6C1157.7 3020.1 1159.3 3020.6 1160.9 3021.0C1162.5 3021.5 1164.2 3021.9 1165.8 3022.3C1167.4 3022.7 1169.0 3023.1 1170.7 3023.4C1172.3 3023.8 1173.9 3024.1 1175.6 3024.4C1177.2 3024.7 1178.9 3025.0 1180.5 3025.3C1182.2 3025.6 1183.8 3025.8 1185.5 3026.0C1187.1 3026.3 1188.8 3026.5 1190.4 3026.7C1192.1 3026.8 1193.8 3027.0 1195.4 3027.1C1197.1 3027.3 1198.8 3027.4 1200.4 3027.5C1202.1 3027.6 1203.7 3027.6 1205.4 3027.7C1207.1 3027.7 1208.7 3027.8 1210.4 3027.8C1212.1 3027.8 1213.7 3027.8 1215.4 3027.7C1217.1 3027.7 1218.7 3027.6 1220.4 3027.5C1222.0 3027.4 1223.7 3027.3 1225.4 3027.2C1227.0 3027.1 1228.7 3026.9 1230.3 3026.7C1232.0 3026.6 1233.6 3026.4 1235.3 3026.2C1236.9 3026.0 1238.6 3025.7 1240.2 3025.5C1241.9 3025.3 1243.5 3025.0 1245.1 3024.7C1246.8 3024.5 1248.4 3024.2 1250.1 3023.9C1251.7 3023.6 1253.3 3023.3 1255.0 3023.0C1256.6 3022.7 1258.3 3022.3 1259.9 3022.0C1261.5 3021.7 1263.2 3021.3 1264.8 3021.0C1266.4 3020.6 1268.1 3020.3 1269.7 3019.9C1271.3 3019.6 1273.0 3019.2 1274.6 3018.8C1276.2 3018.5 1277.9 3018.1 1279.5 3017.7C1281.1 3017.4 1282.8 3017.0 1284.4 3016.6C1286.0 3016.3 1287.7 3015.9 1289.3 3015.6C1290.9 3015.2 1292.6 3014.8 1294.2 3014.5C1295.8 3014.1 1297.4 3013.8 1299.1 3013.4C1300.7 3013.1 1302.3 3012.8 1304.0 3012.4C1305.6 3012.1 1307.2 3011.8 1308.9 3011.5C1310.5 3011.2 1312.1 3010.9 1313.8 3010.6C1315.4 3010.3 1317.0 3010.0 1318.7 3009.8C1320.3 3009.5 1321.9 3009.3 1323.6 3009.1C1325.2 3008.8 1326.8 3008.6 1328.5 3008.4C1330.1 3008.2 1331.7 3008.1 1333.4 3007.9C1335.0 3007.7 1336.6 3007.6 1338.3 3007.5C1339.9 3007.4 1341.6 3007.3 1343.2 3007.2C1344.8 3007.2 1346.5 3007.1 1348.1 3007.1C1349.8 3007.1 1351.4 3007.1 1353.1 3007.1C1354.7 3007.1 1356.4 3007.2 1358.0 3007.3C1359.7 3007.4 1361.3 3007.5 1363.0 3007.6C1364.6 3007.8 1366.3 3008.0 1367.9 3008.2C1369.6 3008.4 1371.2 3008.6 1372.9 3008.9C1374.5 3009.2 1376.1 3009.5 1377.8 3009.8C1379.4 3010.1 1381.0 3010.5 1382.6 3010.9C1384.3 3011.3 1385.9 3011.7 1387.5 3012.2C1389.1 3012.7 1390.7 3013.2 1392.2 3013.7C1393.8 3014.2 1395.4 3014.8 1396.9 3015.4C1398.5 3016.0 1400.0 3016.7 1401.6 3017.3C1403.1 3018.0 1404.6 3018.8 1406.1 3019.5C1407.6 3020.3 1409.1 3021.1 1410.6 3021.9C1412.0 3022.7 1413.5 3023.6 1414.9 3024.5C1416.3 3025.4 1417.8 3026.3 1419.2 3027.3C1420.6 3028.2 1422.0 3029.2 1423.4 3030.1C1424.8 3031.1 1426.2 3032.1 1427.6 3033.1C1429.0 3034.0 1430.4 3035.0 1431.8 3035.9C1433.2 3036.9 1434.6 3037.8 1436.0 3038.7C1437.4 3039.6 1438.9 3040.5 1440.3 3041.4C1441.7 3042.2 1443.2 3043.0 1444.7 3043.8C1446.1 3044.6 1447.6 3045.3 1449.1 3046.0C1450.6 3046.7 1452.1 3047.4 1453.6 3048.1C1455.1 3048.7 1456.7 3049.4 1458.2 3050.0C1459.7 3050.6 1461.3 3051.2 1462.8 3051.7C1464.4 3052.3 1466.0 3052.8 1467.5 3053.3C1469.1 3053.8 1470.7 3054.3 1472.3 3054.8C1473.8 3055.3 1475.4 3055.7 1477.0 3056.1C1478.6 3056.6 1480.2 3057.0 1481.9 3057.4C1483.5 3057.8 1485.1 3058.1 1486.7 3058.5C1488.3 3058.9 1490.0 3059.2 1491.6 3059.6C1493.2 3059.9 1494.9 3060.2 1496.5 3060.5C1498.1 3060.8 1499.8 3061.2 1501.4 3061.5C1503.0 3061.7 1504.7 3062.0 1506.3 3062.3C1508.0 3062.6 1509.6 3062.9 1511.3 3063.1C1512.9 3063.4 1514.6 3063.7 1516.2 3063.9C1517.9 3064.2 1519.5 3064.5 1521.1 3064.7C1522.8 3065.0 1524.4 3065.2 1526.1 3065.5C1527.7 3065.7 1529.4 3065.9 1531.0 3066.2C1532.7 3066.4 1534.3 3066.6 1536.0 3066.9C1537.6 3067.1 1539.3 3067.3 1540.9 3067.5C1542.6 3067.7 1544.2 3067.9 1545.9 3068.2C1547.5 3068.4 1549.2 3068.6 1550.8 3068.8C1552.5 3069.0 1554.1 3069.2 1555.8 3069.3C1557.5 3069.5 1559.1 3069.7 1560.8 3069.9C1562.4 3070.1 1564.1 3070.3 1565.7 3070.4C1567.4 3070.6 1569.0 3070.8 1570.7 3070.9C1572.3 3071.1 1574.0 3071.3 1575.6 3071.4C1577.3 3071.6 1579.0 3071.7 1580.6 3071.9C1582.3 3072.1 1583.9 3072.2 1585.6 3072.3C1587.2 3072.5 1588.9 3072.6 1590.6 3072.8C1592.2 3072.9 1593.9 3073.0 1595.5 3073.2C1597.2 3073.3 1598.8 3073.4 1600.5 3073.5C1602.2 3073.7 1603.8 3073.8 1605.5 3073.9C1607.1 3074.0 1608.8 3074.1 1610.5 3074.3C1612.1 3074.4 1613.8 3074.5 1615.4 3074.6C1617.1 3074.7 1618.8 3074.8 1620.4 3074.9C1622.1 3075.0 1623.7 3075.1 1625.4 3075.2C1627.1 3075.3 1628.7 3075.4 1630.4 3075.4C1632.0 3075.5 1633.7 3075.6 1635.4 3075.7C1637.0 3075.8 1638.7 3075.9 1640.3 3075.9C1642.0 3076.0 1643.7 3076.1 1645.3 3076.2C1647.0 3076.2 1648.7 3076.3 1650.3 3076.4C1652.0 3076.4 1653.6 3076.5 1655.3 3076.6C1657.0 3076.6 1658.6 3076.7 1660.3 3076.8C1662.0 3076.8 1663.6 3076.9 1665.3 3076.9C1667.0 3077.0 1668.6 3077.0 1670.3 3077.1C1672.0 3077.1 1673.6 3077.2 1675.3 3077.2C1676.9 3077.3 1678.6 3077.3 1680.3 3077.4C1681.9 3077.4 1683.6 3077.4 1685.3 3077.5C1686.9 3077.5 1688.6 3077.6 1690.3 3077.6C1691.9 3077.6 1693.6 3077.7 1695.3 3077.7C1696.9 3077.7 1698.6 3077.8 1700.3 3077.8C1701.9 3077.8 1703.6 3077.9 1705.3 3077.9C1706.9 3077.9 1708.6 3077.9 1710.2 3078.0C1711.9 3078.0 1713.6 3078.0 1715.2 3078.0C1716.9 3078.1 1718.6 3078.1 1720.2 3078.1C1721.9 3078.1 1723.6 3078.1 1725.2 3078.2C1726.9 3078.2 1728.6 3078.2 1730.2 3078.2C1731.9 3078.2 1733.6 3078.2 1735.2 3078.3C1736.9 3078.3 1738.6 3078.3 1740.2 3078.3C1741.9 3078.3 1743.6 3078.3 1745.2 3078.3C1746.9 3078.3 1748.6 3078.4 1750.2 3078.4C1751.9 3078.4 1753.6 3078.4 1755.2 3078.4C1756.9 3078.4 1758.6 3078.4 1760.2 3078.4C1761.9 3078.4 1763.6 3078.4 1765.2 3078.5C1766.9 3078.5 1768.6 3078.5 1770.2 3078.5C1771.9 3078.5 1773.6 3078.5 1775.2 3078.5C1776.9 3078.5 1778.6 3078.5 1780.2 3078.5C1781.9 3078.5 1783.6 3078.5 1785.2 3078.6C1786.9 3078.6 1788.6 3078.6 1790.2 3078.6C1791.9 3078.6 1793.6 3078.6 1795.2 3078.6C1796.9 3078.6 1798.6 3078.6 1800.2 3078.6C1801.9 3078.7 1803.6 3078.7 1805.2 3078.7C1806.9 3078.7 1808.6 3078.7 1810.2 3078.7C1811.9 3078.7 1813.6 3078.7 1815.2 3078.7C1816.9 3078.8 1818.5 3078.8 1820.2 3078.8C1821.9 3078.8 1823.5 3078.8 1825.2 3078.8C1826.9 3078.9 1828.5 3078.9 1830.2 3078.9C1831.9 3078.9 1833.5 3078.9 1835.2 3079.0C1836.9 3079.0 1838.5 3079.0 1840.2 3079.0C1841.9 3079.0 1843.5 3079.1 1845.2 3079.1C1846.8 3079.1 1848.5 3079.1 1850.2 3079.2C1851.8 3079.2 1853.5 3079.2 1855.2 3079.3C1856.8 3079.3 1858.5 3079.3 1860.1 3079.4C1861.8 3079.4 1863.5 3079.4 1865.1 3079.5C1866.8 3079.5 1868.5 3079.5 1870.1 3079.6C1871.8 3079.6 1873.4 3079.7 1875.1 3079.7C1876.8 3079.7 1878.4 3079.8 1880.1 3079.8C1881.7 3079.9 1883.4 3079.9 1885.1 3080.0C1886.7 3080.0 1888.4 3080.1 1890.0 3080.2C1891.7 3080.2 1893.4 3080.3 1895.0 3080.3C1896.7 3080.4 1899.2 3080.5 1900.0 3080.5" stroke="#000000"/>
<path d="M299.0 3082.8C299.8 3082.8 302.3 3082.6 303.9 3082.5C305.5 3082.5 307.2 3082.4 308.8 3082.3C310.5 3082.3 312.1 3082.2 313.8 3082.2C315.4 3082.2 317.1 3082.1 318.7 3082.1C320.4 3082.1 322.1 3082.0 323.7 3082.0C325.4 3082.0 327.1 3082.0 328.8 3082.0C330.4 3081.9 332.1 3081.9 333.8 3081.9C335.5 3081.9 337.2 3081.9 338.8 3081.8C340.5 3081.8 342.2 3081.8 343.9 3081.7C345.6 3081.7 347.3 3081.7 349.0 3081.6C350.6 3081.6 352.3 3081.5 354.0 3081.5C355.7 3081.4 357.4 3081.4 359.1 3081.3C360.7 3081.2 362.4 3081.1 364.1 3081.0C365.8 3080.9 367.4 3080.8 369.1 3080.7C370.8 3080.5 372.5 3080.4 374.1 3080.2C375.8 3080.1 377.4 3079.9 379.1 3079.7C380.8 3079.5 382.4 3079.3 384.0 3079.1C385.7 3078.8 387.3 3078.6 389.0 3078.3C390.6 3078.0 392.2 3077.7 393.9 3077.4C395.5 3077.1 397.1 3076.7 398.7 3076.4C400.3 3076.0 401.9 3075.6 403.5 3075.2C405.1 3074.8 406.7 3074.3 408.3 3073.8C409.8 3073.3 411.4 3072.8 413.0 3072.3C414.5 3071.7 416.1 3071.2 417.6 3070.6C419.2 3070.0 420.7 3069.3 422.2 3068.7C423.7 3068.0 425.3 3067.3 426.8 3066.6C428.3 3065.9 429.8 3065.2 431.3 3064.5C432.8 3063.8 434.3 3063.0 435.8 3062.3C437.3 3061.5 438.8 3060.8 440.3 3060.0C441.8 3059.3 443.3 3058.5 444.8 3057.8C446.3 3057.0 447.8 3056.3 449.3 3055.5C450.8 3054.8 452.4 3054.1 453.9 3053.4C455.4 3052.7 456.9 3052.0 458.5 3051.3C460.0 3050.6 461.5 3049.9 463.1 3049.3C464.6 3048.6 466.1 3048.0 467.7 3047.3C469.2 3046.7 470.8 3046.1 472.3 3045.4C473.8 3044.8 475.4 3044.1 476.9 3043.5C478.4 3042.9 480.0 3042.2 481.5 3041.6C483.0 3040.9 484.5 3040.2 486.0 3039.6C487.6 3038.9 489.1 3038.2 490.6 3037.5C492.1 3036.9 493.6 3036.2 495.1 3035.5C496.6 3034.8 498.0 3034.1 499.5 3033.4C501.0 3032.7 502.5 3032.0 504.0 3031.3C505.5 3030.6 507.0 3029.9 508.5 3029.2C510.0 3028.5 511.5 3027.7 513.0 3027.0C514.5 3026.3 516.0 3025.6 517.5 3024.9C519.1 3024.2 520.6 3023.5 522.1 3022.9C523.6 3022.2 525.2 3021.5 526.7 3020.8C528.3 3020.1 529.8 3019.5 531.4 3018.8C533.0 3018.1 534.6 3017.5 536.1 3016.8C537.7 3016.2 539.4 3015.5 541.0 3015.0C542.6 3014.4 544.2 3013.8 545.8 3013.4C547.4 3012.9 549.1 3012.6 550.7 3012.4C552.3 3012.2 553.9 3012.2 555.4 3012.3C557.0 3012.5 558.6 3012.8 560.1 3013.3C561.7 3013.7 563.2 3014.3 564.8 3015.0C566.3 3015.6 567.9 3016.4 569.4 3017.2C570.9 3017.9 572.5 3018.7 574.0 3019.5C575.5 3020.3 577.1 3021.1 578.6 3021.8C580.2 3022.5 581.7 3023.2 583.3 3023.8C584.8 3024.4 586.4 3025.0 588.0 3025.5C589.5 3026.1 591.1 3026.6 592.6 3027.2C594.2 3027.7 595.7 3028.2 597.3 3028.8C598.8 3029.4 600.3 3030.0 601.8 3030.6C603.3 3031.3 604.8 3032.0 606.3 3032.6C607.7 3033.3 609.2 3034.0 610.7 3034.7C612.2 3035.3 613.7 3036.0 615.3 3036.6C616.9 3037.2 618.4 3037.8 620.1 3038.3C621.7 3038.8 623.4 3039.2 625.1 3039.6C626.8 3039.9 628.5 3040.2 630.3 3040.4C632.0 3040.6 633.7 3040.7 635.5 3040.7C637.2 3040.7 638.9 3040.6 640.5 3040.4C642.2 3040.2 643.8 3039.9 645.4 3039.5C647.0 3039.1 648.6 3038.6 650.1 3038.0C651.6 3037.4 653.1 3036.7 654.6 3036.0C656.0 3035.3 657.4 3034.5 658.9 3033.6C660.3 3032.8 661.6 3031.8 663.0 3030.9C664.3 3029.9 665.7 3028.9 667.0 3027.8C668.3 3026.8 669.6 3025.7 670.9 3024.6C672.1 3023.5 673.4 3022.4 674.6 3021.2C675.8 3020.1 677.1 3018.9 678.3 3017.8C679.5 3016.6 680.7 3015.4 681.8 3014.2C683.0 3013.0 684.2 3011.8 685.3 3010.6C686.5 3009.4 687.6 3008.2 688.7 3007.0C689.8 3005.7 691.0 3004.5 692.0 3003.2C693.1 3002.0 694.2 3000.7 695.3 2999.5C696.3 2998.2 697.4 2996.9 698.4 2995.6C699.5 2994.3 700.5 2993.0 701.5 2991.7C702.5 2990.4 703.5 2989.1 704.5 2987.7C705.5 2986.4 706.5 2985.1 707.5 2983.7C708.5 2982.4 709.4 2981.0 710.4 2979.7C711.3 2978.3 712.3 2976.9 713.2 2975.6C714.1 2974.2 715.0 2972.8 716.0 2971.4C716.9 2970.0 717.8 2968.6 718.7 2967.2C719.5 2965.8 720.4 2964.4 721.3 2963.0C722.2 2961.6 723.0 2960.2 723.9 2958.7C724.8 2957.3 725.6 2955.9 726.5 2954.4C727.3 2953.0 728.1 2951.5 729.0 2950.1C729.8 2948.6 730.6 2947.2 731.4 2945.7C732.2 2944.3 733.0 2942.8 733.8 2941.3C734.6 2939.9 735.4 2938.4 736.2 2936.9C737.0 2935.4 737.8 2934.0 738.6 2932.5C739.4 2931.0 740.1 2929.5 740.9 2928.0C741.7 2926.5 742.4 2925.0 743.2 2923.6C744.0 2922.1 744.7 2920.6 745.5 2919.1C746.2 2917.6 747.0 2916.1 747.7 2914.6C748.4 2913.1 749.2 2911.6 749.9 2910.0C750.7 2908.5 751.4 2907.0 752.1 2905.5C752.8 2904.0 753.6 2902.5 754.3 2901.0C755.0 2899.5 755.7 2897.9 756.4 2896.4C757.1 2894.9 757.8 2893.4 758.5 2891.8C759.2 2890.3 759.9 2888.8 760.6 2887.3C761.3 2885.7 762.0 2884.2 762.6 2882.7C763.3 2881.1 764.0 2879.6 764.6 2878.1C765.3 2876.5 766.0 2875.0 766.6 2873.4C767.3 2871.9 767.9 2870.4 768.6 2868.8C769.2 2867.3 769.8 2865.7 770.5 2864.2C771.1 2862.6 771.7 2861.1 772.3 2859.5C773.0 2858.0 773.6 2856.4 774.2 2854.9C774.8 2853.3 775.4 2851.7 776.0 2850.2C776.6 2848.6 777.2 2847.1 777.8 2845.5C778.3 2843.9 778.9 2842.4 779.5 2840.8C780.1 2839.3 780.6 2837.7 781.2 2836.1C781.7 2834.6 782.3 2833.0 782.8 2831.4C783.4 2829.8 783.9 2828.3 784.4 2826.7C785.0 2825.1 785.5 2823.5 786.0 2822.0C786.5 2820.4 787.1 2818.8 787.6 2817.2C788.1 2815.6 788.6 2814.1 789.1 2812.5C789.6 2810.9 790.1 2809.3 790.5 2807.7C791.0 2806.1 791.5 2804.6 792.0 2803.0C792.5 2801.4 792.9 2799.8 793.4 2798.2C793.9 2796.6 794.3 2795.0 794.8 2793.4C795.2 2791.8 795.7 2790.2 796.1 2788.6C796.5 2787.0 797.0 2785.4 797.4 2783.8C797.8 2782.2 798.3 2780.6 798.7 2779.0C799.1 2777.4 799.5 2775.8 799.9 2774.2C800.3 2772.6 800.8 2771.0 801.2 2769.4C801.6 2767.8 802.0 2766.2 802.3 2764.6C802.7 2763.0 803.1 2761.4 803.5 2759.8C803.9 2758.1 804.3 2756.5 804.6 2754.9C805.0 2753.3 805.4 2751.7 805.7 2750.1C806.1 2748.5 806.5 2746.8 806.8 2745.2C807.2 2743.6 807.5 2742.0 807.9 2740.4C808.2 2738.7 808.6 2737.1 808.9 2735.5C809.2 2733.9 809.6 2732.2 809.9 2730.6C810.2 2729.0 810.5 2727.4 810.9 2725.7C811.2 2724.1 811.5 2722.5 811.8 2720.9C812.1 2719.2 812.4 2717.6 812.7 2716.0C813.0 2714.3 813.4 2712.7 813.6 2711.1C813.9 2709.5 814.2 2707.8 814.5 2706.2C814.8 2704.5 815.1 2702.9 815.4 2701.3C815.7 2699.6 816.0 2698.0 816.2 2696.4C816.5 2694.7 816.8 2693.1 817.0 2691.5C817.3 2689.8 817.6 2688.2 817.8 2686.5C818.1 2684.9 818.4 2683.3 818.6 2681.6C818.9 2680.0 819.1 2678.3 819.4 2676.7C819.6 2675.0 819.9 2673.4 820.1 2671.7C820.4 2670.1 820.6 2668.5 820.8 2666.8C821.1 2665.2 821.3 2663.5 821.5 2661.9C821.8 2660.2 822.0 2658.6 822.2 2656.9C822.5 2655.3 822.7 2653.6 822.9 2652.0C823.1 2650.3 823.4 2648.7 823.6 2647.0C823.8 2645.4 824.0 2643.7 824.2 2642.1C824.4 2640.4 824.6 2638.8 824.8 2637.1C825.0 2635.4 825.2 2633.8 825.5 2632.1C825.7 2630.5 825.9 2628.8 826.1 2627.2C826.2 2625.5 826.4 2623.9 826.6 2622.2C826.8 2620.5 827.0 2618.9 827.2 2617.2C827.4 2615.6 827.6 2613.9 827.8 2612.3C828.0 2610.6 828.2 2608.9 828.3 2607.3C828.5 2605.6 828.7 2604.0 828.9 2602.3C829.1 2600.6 829.2 2599.0 829.4 2597.3C829.6 2595.7 829.8 2594.0 829.9 2592.3C830.1 2590.7 830.3 2589.0 830.4 2587.3C830.6 2585.7 830.8 2584.0 831.0 2582.4C831.1 2580.7 831.3 2579.0 831.5 2577.4C831.6 2575.7 831.8 2574.0 831.9 2572.4C832.1 2570.7 832.3 2569.1 832.4 2567.4C832.6 2565.7 832.8 2564.1 832.9 2562.4C833.1 2560.7 833.2 2559.1 833.4 2557.4C833.5 2555.7 833.7 2554.1 833.9 2552.4C834.0 2550.7 834.2 2549.1 834.3 2547.4C834.5 2545.8 834.6 2544.1 834.8 2542.4C834.9 2540.8 835.1 2539.1 835.3 2537.4C835.4 2535.8 835.6 2534.1 835.7 2532.4C835.9 2530.8 836.0 2529.1 836.2 2527.4C836.3 2525.8 836.5 2524.1 836.6 2522.4C836.8 2520.8 836.9 2519.1 837.1 2517.4C837.2 2515.8 837.4 2514.1 837.5 2512.4C837.7 2510.8 837.8 2509.1 838.0 2507.4C838.1 2505.8 838.3 2504.1 838.4 2502.5C838.6 2500.8 838.7 2499.1 838.9 2497.5C839.1 2495.8 839.2 2494.1 839.4 2492.5C839.5 2490.8 839.7 2489.1 839.8 2487.5C840.0 2485.8 840.1 2484.1 840.3 2482.5C840.4 2480.8 840.6 2479.2 840.8 2477.5C840.9 2475.8 841.1 2474.2 841.2 2472.5C841.4 2470.8 841.5 2469.2 841.7 2467.5C841.9 2465.9 842.0 2464.2 842.2 2462.5C842.3 2460.9 842.5 2459.2 842.7 2457.5C842.8 2455.9 843.0 2454.2 843.1 2452.6C843.3 2450.9 843.5 2449.2 843.6 2447.6C843.8 2445.9 843.9 2444.3 844.1 2442.6C844.3 2440.9 844.4 2439.3 844.6 2437.6C844.8 2436.0 844.9 2434.3 845.1 2432.6C845.3 2431.0 845.4 2429.3 845.6 2427.7C845.7 2426.0 845.9 2424.3 846.1 2422.7C846.2 2421.0 846.4 2419.4 846.6 2417.7C846.7 2416.0 846.9 2414.4 847.1 2412.7C847.2 2411.1 847.4 2409.4 847.6 2407.7C847.7 2406.1 847.9 2404.4 848.1 2402.8C848.2 2401.1 848.4 2399.4 848.6 2397.8C848.7 2396.1 848.9 2394.5 849.1 2392.8C849.2 2391.2 849.4 2389.5 849.6 2387.8C849.7 2386.2 849.9 2384.5 850.1 2382.9C850.2 2381.2 850.4 2379.6 850.6 2377.9C850.7 2376.2 850.9 2374.6 851.1 2372.9C851.3 2371.3 851.4 2369.6 851.6 2368.0C851.8 2366.3 851.9 2364.6 852.1 2363.0C852.3 2361.3 852.4 2359.7 852.6 2358.0C852.8 2356.4 852.9 2354.7 853.1 2353.0C853.3 2351.4 853.4 2349.7 853.6 2348.1C853.8 2346.4 854.0 2344.8 854.1 2343.1C854.3 2341.4 854.5 2339.8 854.6 2338.1C854.8 2336.5 855.0 2334.8 855.1 2333.2C855.3 2331.5 855.5 2329.9 855.6 2328.2C855.8 2326.5 856.0 2324.9 856.1 2323.2C856.3 2321.6 856.5 2319.9 856.6 2318.3C856.8 2316.6 857.0 2315.0 857.2 2313.3C857.3 2311.6 857.5 2310.0 857.7 2308.3C857.8 2306.7 858.0 2305.0 858.2 2303.4C858.3 2301.7 858.5 2300.1 858.7 2298.4C858.8 2296.7 859.0 2295.1 859.2 2293.4C859.3 2291.8 859.5 2290.1 859.7 2288.5C859.8 2286.8 860.0 2285.2 860.2 2283.5C860.3 2281.8 860.5 2280.2 860.7 2278.5C860.8 2276.9 861.0 2275.2 861.1 2273.6C861.3 2271.9 861.5 2270.3 861.6 2268.6C861.8 2267.0 862.0 2265.3 862.1 2263.6C862.3 2262.0 862.5 2260.3 862.6 2258.7C862.8 2257.0 862.9 2255.4 863.1 2253.7C863.3 2252.1 863.4 2250.4 863.6 2248.7C863.8 2247.1 863.9 2245.4 864.1 2243.8C864.2 2242.1 864.4 2240.5 864.6 2238.8C864.7 2237.2 864.9 2235.5 865.1 2233.8C865.2 2232.2 865.4 2230.5 865.6 2228.9C865.8 2227.2 865.9 2225.6 866.1 2223.9C866.3 2222.3 866.5 2220.6 866.7 2218.9C866.9 2217.3 867.1 2215.6 867.3 2214.0C867.5 2212.3 867.7 2210.7 867.9 2209.0C868.1 2207.3 868.4 2205.7 868.6 2204.0C868.8 2202.4 869.1 2200.7 869.3 2199.1C869.6 2197.4 869.8 2195.7 870.1 2194.1C870.4 2192.4 870.6 2190.8 870.9 2189.1C871.2 2187.4 871.5 2185.8 871.8 2184.1C872.1 2182.5 872.4 2180.8 872.8 2179.1C873.1 2177.5 873.4 2175.8 873.8 2174.2C874.1 2172.5 874.5 2170.8 874.9 2169.2C875.3 2167.6 875.7 2165.9 876.4 2164.4C877.0 2162.9 877.7 2161.4 878.6 2160.2C879.6 2159.0 881.0 2157.3 882.2 2157.2C883.4 2157.1 884.9 2158.3 885.7 2159.5C886.6 2160.7 886.8 2162.7 887.3 2164.4C887.7 2166.1 888.0 2167.8 888.4 2169.5C888.7 2171.1 889.0 2172.8 889.3 2174.5C889.6 2176.2 889.9 2177.8 890.1 2179.5C890.4 2181.2 890.6 2182.9 890.8 2184.5C891.0 2186.2 891.2 2187.8 891.3 2189.5C891.5 2191.2 891.7 2192.8 891.8 2194.5C892.0 2196.1 892.1 2197.8 892.2 2199.5C892.4 2201.1 892.5 2202.8 892.7 2204.4C892.8 2206.1 892.9 2207.7 893.1 2209.4C893.2 2211.0 893.3 2212.7 893.5 2214.4C893.6 2216.0 893.7 2217.7 893.9 2219.3C894.0 2221.0 894.1 2222.6 894.3 2224.3C894.4 2226.0 894.6 2227.6 894.7 2229.3C894.8 2230.9 895.0 2232.6 895.1 2234.2C895.2 2235.9 895.4 2237.5 895.5 2239.2C895.7 2240.9 895.8 2242.5 895.9 2244.2C896.1 2245.8 896.2 2247.5 896.4 2249.2C896.5 2250.8 896.6 2252.5 896.8 2254.1C896.9 2255.8 897.1 2257.4 897.2 2259.1C897.3 2260.8 897.5 2262.4 897.6 2264.1C897.8 2265.7 897.9 2267.4 898.0 2269.0C898.2 2270.7 898.3 2272.4 898.5 2274.0C898.6 2275.7 898.7 2277.3 898.9 2279.0C899.0 2280.7 899.1 2282.3 899.3 2284.0C899.4 2285.6 899.6 2287.3 899.7 2289.0C899.8 2290.6 900.0 2292.3 900.1 2293.9C900.2 2295.6 900.4 2297.3 900.5 2298.9C900.6 2300.6 900.8 2302.2 900.9 2303.9C901.0 2305.6 901.2 2307.2 901.3 2308.9C901.4 2310.5 901.6 2312.2 901.7 2313.9C901.8 2315.5 902.0 2317.2 902.1 2318.9C902.2 2320.5 902.3 2322.2 902.5 2323.8C902.6 2325.5 902.7 2327.2 902.8 2328.8C903.0 2330.5 903.1 2332.1 903.2 2333.8C903.3 2335.5 903.5 2337.1 903.6 2338.8C903.7 2340.5 903.8 2342.1 904.0 2343.8C904.1 2345.5 904.2 2347.1 904.3 2348.8C904.4 2350.4 904.5 2352.1 904.7 2353.8C904.8 2355.4 904.9 2357.1 905.0 2358.8C905.1 2360.4 905.2 2362.1 905.4 2363.7C905.5 2365.4 905.6 2367.1 905.7 2368.7C905.8 2370.4 905.9 2372.1 906.0 2373.7C906.2 2375.4 906.3 2377.1 906.4 2378.7C906.5 2380.4 906.6 2382.1 906.7 2383.7C906.8 2385.4 906.9 2387.0 907.1 2388.7C907.2 2390.4 907.3 2392.0 907.4 2393.7C907.5 2395.4 907.6 2397.0 907.7 2398.7C907.8 2400.4 907.9 2402.0 908.0 2403.7C908.1 2405.4 908.2 2407.0 908.4 2408.7C908.5 2410.4 908.6 2412.0 908.7 2413.7C908.8 2415.4 908.9 2417.0 909.0 2418.7C909.1 2420.3 909.2 2422.0 909.3 2423.7C909.4 2425.3 909.5 2427.0 909.6 2428.7C909.7 2430.3 909.8 2432.0 909.9 2433.7C910.0 2435.3 910.1 2437.0 910.3 2438.7C910.4 2440.3 910.5 2442.0 910.6 2443.7C910.7 2445.3 910.8 2447.0 910.9 2448.7C911.0 2450.3 911.1 2452.0 911.2 2453.7C911.3 2455.3 911.4 2457.0 911.5 2458.7C911.6 2460.3 911.7 2462.0 911.8 2463.7C911.9 2465.3 912.0 2467.0 912.1 2468.7C912.2 2470.3 912.3 2472.0 912.4 2473.6C912.5 2475.3 912.6 2477.0 912.8 2478.6C912.9 2480.3 913.0 2482.0 913.1 2483.6C913.2 2485.3 913.3 2487.0 913.4 2488.6C913.5 2490.3 913.6 2492.0 913.7 2493.6C913.8 2495.3 913.9 2497.0 914.0 2498.6C914.1 2500.3 914.2 2502.0 914.3 2503.6C914.4 2505.3 914.6 2507.0 914.7 2508.6C914.8 2510.3 914.9 2511.9 915.0 2513.6C915.1 2515.3 915.2 2516.9 915.3 2518.6C915.4 2520.3 915.5 2521.9 915.6 2523.6C915.7 2525.3 915.9 2526.9 916.0 2528.6C916.1 2530.3 916.2 2531.9 916.3 2533.6C916.4 2535.3 916.5 2536.9 916.6 2538.6C916.7 2540.2 916.9 2541.9 917.0 2543.6C917.1 2545.2 917.2 2546.9 917.3 2548.6C917.4 2550.2 917.5 2551.9 917.7 2553.6C917.8 2555.2 917.9 2556.9 918.0 2558.5C918.1 2560.2 918.2 2561.9 918.4 2563.5C918.5 2565.2 918.6 2566.9 918.7 2568.5C918.8 2570.2 919.0 2571.8 919.1 2573.5C919.2 2575.2 919.3 2576.8 919.5 2578.5C919.6 2580.2 919.7 2581.8 919.8 2583.5C919.9 2585.1 920.1 2586.8 920.2 2588.5C920.3 2590.1 920.5 2591.8 920.6 2593.5C920.7 2595.1 920.8 2596.8 921.0 2598.4C921.1 2600.1 921.2 2601.8 921.4 2603.4C921.5 2605.1 921.6 2606.7 921.8 2608.4C921.9 2610.1 922.0 2611.7 922.2 2613.4C922.3 2615.0 922.4 2616.7 922.6 2618.4C922.7 2620.0 922.8 2621.7 923.0 2623.3C923.1 2625.0 923.3 2626.7 923.4 2628.3C923.5 2630.0 923.7 2631.6 923.8 2633.3C924.0 2634.9 924.1 2636.6 924.3 2638.3C924.4 2639.9 924.6 2641.6 924.7 2643.2C924.9 2644.9 925.0 2646.6 925.2 2648.2C925.3 2649.9 925.5 2651.5 925.6 2653.2C925.8 2654.8 925.9 2656.5 926.1 2658.2C926.2 2659.8 926.4 2661.5 926.6 2663.1C926.7 2664.8 926.9 2666.4 927.0 2668.1C927.2 2669.7 927.4 2671.4 927.5 2673.1C927.7 2674.7 927.9 2676.4 928.0 2678.0C928.2 2679.7 928.4 2681.3 928.5 2683.0C928.7 2684.6 928.9 2686.3 929.0 2687.9C929.2 2689.6 929.4 2691.2 929.6 2692.9C929.7 2694.5 929.9 2696.2 930.1 2697.9C930.3 2699.5 930.4 2701.2 930.6 2702.8C930.8 2704.5 931.0 2706.1 931.2 2707.8C931.4 2709.4 931.6 2711.1 931.7 2712.7C931.9 2714.4 932.1 2716.0 932.3 2717.7C932.5 2719.3 932.7 2721.0 932.9 2722.6C933.1 2724.3 933.3 2725.9 933.5 2727.6C933.7 2729.2 933.9 2730.9 934.1 2732.5C934.3 2734.2 934.5 2735.8 934.7 2737.5C934.9 2739.1 935.1 2740.7 935.3 2742.4C935.5 2744.0 935.7 2745.7 935.9 2747.3C936.2 2749.0 936.4 2750.6 936.6 2752.3C936.8 2753.9 937.0 2755.6 937.2 2757.2C937.5 2758.9 937.7 2760.5 937.9 2762.1C938.1 2763.8 938.4 2765.4 938.6 2767.1C938.8 2768.7 939.0 2770.4 939.3 2772.0C939.5 2773.6 939.7 2775.3 940.0 2776.9C940.2 2778.6 940.5 2780.2 940.7 2781.9C940.9 2783.5 941.2 2785.1 941.4 2786.8C941.7 2788.4 941.9 2790.1 942.2 2791.7C942.4 2793.3 942.7 2795.0 942.9 2796.6C943.2 2798.3 943.4 2799.9 943.7 2801.5C943.9 2803.2 944.2 2804.8 944.5 2806.4C944.7 2808.1 945.0 2809.7 945.2 2811.4C945.5 2813.0 945.8 2814.6 946.1 2816.3C946.3 2817.9 946.6 2819.5 946.9 2821.2C947.2 2822.8 947.4 2824.4 947.7 2826.1C948.0 2827.7 948.3 2829.3 948.6 2831.0C948.9 2832.6 949.2 2834.2 949.5 2835.9C949.8 2837.5 950.1 2839.1 950.4 2840.8C950.7 2842.4 951.0 2844.0 951.3 2845.7C951.6 2847.3 951.9 2848.9 952.2 2850.5C952.6 2852.2 952.9 2853.8 953.2 2855.4C953.5 2857.1 953.9 2858.7 954.2 2860.3C954.6 2861.9 954.9 2863.6 955.3 2865.2C955.6 2866.8 956.0 2868.4 956.3 2870.1C956.7 2871.7 957.1 2873.3 957.4 2874.9C957.8 2876.5 958.2 2878.2 958.6 2879.8C959.0 2881.4 959.4 2883.0 959.8 2884.6C960.2 2886.3 960.6 2887.9 961.0 2889.5C961.4 2891.1 961.8 2892.7 962.2 2894.4C962.7 2896.0 963.1 2897.6 963.5 2899.2C964.0 2900.8 964.4 2902.4 964.9 2904.0C965.3 2905.6 965.8 2907.3 966.3 2908.9C966.7 2910.5 967.2 2912.1 967.7 2913.7C968.2 2915.3 968.7 2916.9 969.2 2918.5C969.7 2920.1 970.2 2921.7 970.7 2923.3C971.3 2924.9 971.8 2926.5 972.3 2928.1C972.9 2929.8 973.4 2931.4 974.0 2933.0C974.5 2934.6 975.1 2936.2 975.7 2937.8C976.3 2939.4 976.8 2941.0 977.4 2942.5C978.0 2944.1 978.6 2945.7 979.2 2947.3C979.9 2948.9 980.5 2950.5 981.1 2952.1C981.8 2953.7 982.4 2955.3 983.1 2956.9C983.7 2958.5 984.4 2960.1 985.1 2961.6C985.8 2963.2 986.5 2964.8 987.2 2966.3C987.9 2967.9 988.6 2969.5 989.4 2971.0C990.1 2972.5 990.9 2974.1 991.6 2975.6C992.4 2977.1 993.2 2978.6 994.0 2980.1C994.8 2981.5 995.7 2983.0 996.5 2984.5C997.4 2985.9 998.3 2987.3 999.2 2988.7C1000.1 2990.1 1001.0 2991.5 1001.9 2992.8C1002.9 2994.2 1003.9 2995.5 1004.9 2996.8C1005.9 2998.1 1006.9 2999.3 1007.9 3000.5C1009.0 3001.8 1010.1 3003.0 1011.2 3004.1C1012.3 3005.3 1013.4 3006.4 1014.6 3007.5C1015.8 3008.6 1017.0 3009.6 1018.2 3010.6C1019.4 3011.6 1020.7 3012.6 1022.0 3013.5C1023.3 3014.5 1024.6 3015.3 1025.9 3016.2C1027.3 3017.1 1028.6 3017.9 1030.0 3018.7C1031.4 3019.5 1032.9 3020.2 1034.3 3021.0C1035.7 3021.7 1037.2 3022.4 1038.7 3023.1C1040.2 3023.7 1041.7 3024.4 1043.2 3025.0C1044.7 3025.6 1046.3 3026.2 1047.8 3026.7C1049.4 3027.3 1051.0 3027.9 1052.5 3028.4C1054.1 3028.9 1055.7 3029.4 1057.3 3029.9C1059.0 3030.3 1060.6 3030.8 1062.2 3031.2C1063.8 3031.7 1065.5 3032.1 1067.1 3032.5C1068.8 3032.9 1070.5 3033.3 1072.1 3033.7C1073.8 3034.1 1075.5 3034.4 1077.1 3034.8C1078.8 3035.1 1080.5 3035.5 1082.2 3035.8C1083.8 3036.2 1085.5 3036.5 1087.2 3036.8C1088.9 3037.1 1090.6 3037.4 1092.2 3037.7C1093.9 3038.0 1095.6 3038.3 1097.3 3038.6C1098.9 3038.9 1100.6 3039.2 1102.2 3039.5C1103.9 3039.8 1105.6 3040.1 1107.2 3040.4C1108.9 3040.7 1110.5 3041.0 1112.2 3041.2C1113.8 3041.5 1115.5 3041.8 1117.1 3042.0C1118.8 3042.3 1120.4 3042.6 1122.0 3042.8C1123.7 3043.1 1125.3 3043.3 1126.9 3043.5C1128.6 3043.8 1130.2 3044.0 1131.9 3044.2C1133.5 3044.4 1135.1 3044.7 1136.8 3044.9C1138.4 3045.1 1140.0 3045.3 1141.7 3045.5C1143.3 3045.6 1144.9 3045.8 1146.6 3046.0C1148.2 3046.2 1149.9 3046.3 1151.5 3046.5C1153.1 3046.6 1154.8 3046.7 1156.4 3046.9C1158.1 3047.0 1159.7 3047.1 1161.4 3047.2C1163.0 3047.3 1164.7 3047.4 1166.3 3047.5C1168.0 3047.6 1169.6 3047.7 1171.3 3047.8C1172.9 3047.8 1174.6 3047.9 1176.2 3048.0C1177.9 3048.0 1179.5 3048.1 1181.2 3048.1C1182.8 3048.2 1184.5 3048.2 1186.2 3048.2C1187.8 3048.3 1189.5 3048.3 1191.1 3048.3C1192.8 3048.3 1194.5 3048.3 1196.1 3048.3C1197.8 3048.3 1199.5 3048.3 1201.1 3048.3C1202.8 3048.3 1204.4 3048.3 1206.1 3048.3C1207.8 3048.3 1209.4 3048.3 1211.1 3048.3C1212.8 3048.3 1214.5 3048.2 1216.1 3048.2C1217.8 3048.2 1219.5 3048.2 1221.1 3048.1C1222.8 3048.1 1224.5 3048.1 1226.1 3048.1C1227.8 3048.0 1229.5 3048.0 1231.1 3048.0C1232.8 3047.9 1234.5 3047.9 1236.2 3047.9C1237.8 3047.8 1239.5 3047.8 1241.2 3047.8C1242.8 3047.7 1244.5 3047.7 1246.2 3047.7C1247.9 3047.6 1249.5 3047.6 1251.2 3047.6C1252.9 3047.5 1254.6 3047.5 1256.2 3047.5C1257.9 3047.4 1259.6 3047.4 1261.2 3047.4C1262.9 3047.4 1264.6 3047.4 1266.2 3047.3C1267.9 3047.3 1269.6 3047.3 1271.3 3047.3C1272.9 3047.3 1274.6 3047.3 1276.3 3047.3C1277.9 3047.3 1279.6 3047.3 1281.3 3047.3C1282.9 3047.3 1284.6 3047.3 1286.3 3047.4C1287.9 3047.4 1289.6 3047.4 1291.3 3047.4C1292.9 3047.5 1294.6 3047.5 1296.3 3047.6C1297.9 3047.6 1299.6 3047.7 1301.2 3047.7C1302.9 3047.8 1304.6 3047.9 1306.2 3047.9C1307.9 3048.0 1309.5 3048.1 1311.2 3048.2C1312.8 3048.3 1314.5 3048.4 1316.2 3048.5C1317.8 3048.6 1319.5 3048.8 1321.1 3048.9C1322.8 3049.0 1324.4 3049.2 1326.1 3049.3C1327.7 3049.5 1329.4 3049.6 1331.0 3049.8C1332.7 3050.0 1334.3 3050.2 1335.9 3050.4C1337.6 3050.6 1339.2 3050.8 1340.9 3051.0C1342.5 3051.2 1344.2 3051.5 1345.8 3051.7C1347.4 3052.0 1349.1 3052.2 1350.7 3052.5C1352.3 3052.8 1354.0 3053.0 1355.6 3053.3C1357.2 3053.6 1358.8 3053.9 1360.5 3054.2C1362.1 3054.6 1363.7 3054.9 1365.4 3055.2C1367.0 3055.5 1368.6 3055.9 1370.2 3056.2C1371.9 3056.6 1373.5 3056.9 1375.1 3057.3C1376.7 3057.6 1378.4 3058.0 1380.0 3058.4C1381.6 3058.7 1383.2 3059.1 1384.8 3059.5C1386.5 3059.8 1388.1 3060.2 1389.7 3060.6C1391.3 3061.0 1392.9 3061.4 1394.6 3061.7C1396.2 3062.1 1397.8 3062.5 1399.4 3062.9C1401.0 3063.3 1402.7 3063.7 1404.3 3064.1C1405.9 3064.4 1407.5 3064.8 1409.1 3065.2C1410.8 3065.6 1412.4 3066.0 1414.0 3066.4C1415.6 3066.7 1417.3 3067.1 1418.9 3067.5C1420.5 3067.8 1422.1 3068.2 1423.7 3068.6C1425.4 3068.9 1427.0 3069.3 1428.6 3069.6C1430.3 3070.0 1431.9 3070.3 1433.5 3070.7C1435.1 3071.0 1436.8 3071.3 1438.4 3071.7C1440.0 3072.0 1441.7 3072.3 1443.3 3072.6C1444.9 3072.9 1446.6 3073.2 1448.2 3073.5C1449.9 3073.8 1451.5 3074.0 1453.1 3074.3C1454.8 3074.6 1456.4 3074.8 1458.1 3075.0C1459.7 3075.3 1461.4 3075.5 1463.0 3075.7C1464.7 3075.9 1466.3 3076.1 1468.0 3076.3C1469.6 3076.5 1471.3 3076.6 1472.9 3076.8C1474.6 3076.9 1476.3 3077.1 1477.9 3077.2C1479.6 3077.3 1481.3 3077.4 1482.9 3077.5C1484.6 3077.6 1486.3 3077.6 1488.0 3077.7C1489.6 3077.7 1491.3 3077.7 1493.0 3077.8C1494.7 3077.8 1496.4 3077.7 1498.0 3077.7C1499.7 3077.7 1501.4 3077.6 1503.1 3077.6C1504.8 3077.5 1506.5 3077.4 1508.2 3077.4C1509.9 3077.3 1511.6 3077.2 1513.3 3077.1C1514.9 3077.0 1516.6 3076.9 1518.3 3076.8C1520.0 3076.7 1521.7 3076.5 1523.4 3076.4C1525.1 3076.3 1526.7 3076.2 1528.4 3076.1C1530.1 3076.0 1531.8 3075.9 1533.4 3075.7C1535.1 3075.6 1536.8 3075.5 1538.4 3075.4C1540.1 3075.3 1541.7 3075.2 1543.4 3075.2C1545.0 3075.1 1546.7 3075.0 1548.3 3075.0C1550.0 3074.9 1551.6 3074.9 1553.2 3074.8C1554.8 3074.8 1556.5 3074.7 1558.1 3074.7C1559.7 3074.7 1561.3 3074.6 1563.0 3074.5C1564.6 3074.5 1566.2 3074.4 1567.9 3074.3C1569.5 3074.2 1571.1 3074.1 1572.8 3074.0C1574.4 3073.9 1576.1 3073.8 1577.7 3073.7C1579.4 3073.6 1581.1 3073.4 1582.7 3073.3C1584.4 3073.2 1586.0 3073.1 1587.7 3072.9C1589.4 3072.8 1591.0 3072.7 1592.7 3072.6C1594.3 3072.5 1596.0 3072.4 1597.7 3072.3C1599.3 3072.2 1601.0 3072.1 1602.7 3072.0C1604.3 3071.9 1606.0 3071.8 1607.6 3071.7C1609.3 3071.6 1611.0 3071.5 1612.6 3071.4C1614.3 3071.4 1616.0 3071.3 1617.6 3071.2C1619.3 3071.1 1620.9 3071.1 1622.6 3071.0C1624.3 3070.9 1625.9 3070.9 1627.6 3070.8C1629.3 3070.8 1630.9 3070.7 1632.6 3070.7C1634.3 3070.6 1635.9 3070.5 1637.6 3070.5C1639.2 3070.5 1640.9 3070.4 1642.6 3070.4C1644.2 3070.3 1645.9 3070.3 1647.6 3070.3C1649.2 3070.2 1650.9 3070.2 1652.6 3070.2C1654.2 3070.1 1655.9 3070.1 1657.6 3070.1C1659.2 3070.1 1660.9 3070.0 1662.6 3070.0C1664.2 3070.0 1665.9 3070.0 1667.6 3070.0C1669.2 3069.9 1670.9 3069.9 1672.6 3069.9C1674.2 3069.9 1675.9 3069.9 1677.5 3069.9C1679.2 3069.9 1680.9 3069.9 1682.5 3069.9C1684.2 3069.9 1685.9 3069.8 1687.5 3069.8C1689.2 3069.8 1690.9 3069.8 1692.5 3069.8C1694.2 3069.8 1695.9 3069.8 1697.5 3069.8C1699.2 3069.8 1700.9 3069.8 1702.5 3069.8C1704.2 3069.8 1705.9 3069.8 1707.5 3069.9C1709.2 3069.9 1710.9 3069.9 1712.5 3069.9C1714.2 3069.9 1715.9 3069.9 1717.5 3069.9C1719.2 3069.9 1720.9 3069.9 1722.5 3069.9C1724.2 3069.9 1725.9 3069.9 1727.6 3069.9C1729.2 3069.9 1730.9 3069.9 1732.6 3069.9C1734.2 3070.0 1735.9 3070.0 1737.6 3070.0C1739.2 3070.0 1740.9 3070.0 1742.6 3070.0C1744.2 3070.0 1745.9 3070.0 1747.6 3070.0C1749.2 3070.0 1750.9 3070.0 1752.6 3070.0C1754.2 3070.0 1755.9 3070.0 1757.6 3070.0C1759.2 3070.0 1760.9 3070.0 1762.6 3070.0C1764.2 3070.0 1765.9 3070.0 1767.6 3070.0C1769.2 3070.0 1770.9 3070.0 1772.6 3070.0C1774.2 3070.0 1775.9 3070.0 1777.6 3070.0C1779.2 3070.0 1780.9 3069.9 1782.6 3069.9C1784.2 3069.9 1785.9 3069.9 1787.6 3069.9C1789.2 3069.9 1790.9 3069.9 1792.6 3069.8C1794.2 3069.8 1795.9 3069.8 1797.6 3069.8C1799.2 3069.7 1800.9 3069.7 1802.6 3069.7C1804.2 3069.7 1805.9 3069.6 1807.6 3069.6C1809.2 3069.6 1810.9 3069.5 1812.6 3069.5C1814.2 3069.4 1815.9 3069.4 1817.6 3069.3C1819.2 3069.3 1820.9 3069.2 1822.5 3069.2C1824.2 3069.1 1825.9 3069.1 1827.5 3069.0C1829.2 3069.0 1830.9 3068.9 1832.5 3068.8C1834.2 3068.8 1835.9 3068.7 1837.5 3068.6C1839.2 3068.6 1840.9 3068.5 1842.5 3068.4C1844.2 3068.3 1845.9 3068.2 1847.5 3068.2C1849.2 3068.1 1850.8 3068.0 1852.5 3067.9C1854.2 3067.8 1856.7 3067.6 1857.5 3067.6" stroke="#ff0000"/>
<path d="M299.0 3082.8C299.8 3082.7 302.1 3082.3 303.7 3082.1C305.2 3081.9 306.8 3081.7 308.4 3081.6C310.0 3081.4 311.7 3081.4 313.3 3081.3C315.0 3081.2 316.6 3081.2 318.3 3081.2C320.0 3081.1 321.6 3081.2 323.3 3081.2C325.0 3081.2 326.7 3081.2 328.4 3081.3C330.1 3081.3 331.8 3081.4 333.6 3081.4C335.3 3081.5 337.0 3081.5 338.7 3081.6C340.5 3081.6 342.2 3081.7 343.9 3081.7C345.6 3081.7 347.4 3081.7 349.1 3081.7C350.8 3081.7 352.5 3081.7 354.2 3081.7C355.9 3081.6 357.6 3081.6 359.3 3081.5C361.0 3081.4 362.7 3081.3 364.4 3081.1C366.1 3080.9 367.7 3080.7 369.4 3080.5C371.0 3080.3 372.6 3080.0 374.3 3079.6C375.9 3079.3 377.5 3078.9 379.1 3078.5C380.6 3078.0 382.2 3077.5 383.7 3077.0C385.3 3076.4 386.8 3075.7 388.3 3075.1C389.8 3074.4 391.3 3073.7 392.8 3073.0C394.3 3072.3 395.8 3071.5 397.3 3070.9C398.9 3070.3 400.5 3069.7 402.2 3069.2C403.8 3068.7 405.5 3068.3 407.2 3067.8C408.8 3067.3 410.5 3066.9 412.1 3066.4C413.6 3065.8 415.2 3065.3 416.6 3064.5C418.0 3063.8 419.2 3062.9 420.4 3061.8C421.6 3060.7 422.6 3059.5 423.5 3058.1C424.5 3056.8 425.4 3055.4 426.3 3053.9C427.2 3052.5 428.1 3050.9 429.0 3049.4C430.0 3048.0 430.9 3046.5 432.0 3045.1C433.1 3043.7 434.2 3042.4 435.5 3041.2C436.7 3040.0 437.9 3038.9 439.3 3037.9C440.6 3037.0 442.1 3036.2 443.5 3035.6C445.0 3035.0 446.6 3034.6 448.1 3034.4C449.7 3034.1 451.4 3034.0 453.1 3034.0C454.7 3033.9 456.4 3034.0 458.1 3034.0C459.8 3034.1 461.6 3034.2 463.3 3034.2C465.0 3034.3 466.7 3034.3 468.4 3034.2C470.1 3034.1 471.8 3033.9 473.5 3033.7C475.1 3033.4 476.8 3033.0 478.4 3032.7C480.0 3032.3 481.6 3031.8 483.2 3031.3C484.8 3030.9 486.4 3030.3 488.0 3029.8C489.6 3029.3 491.2 3028.8 492.7 3028.3C494.3 3027.8 495.9 3027.3 497.5 3026.9C499.1 3026.4 500.6 3026.0 502.2 3025.6C503.8 3025.2 505.4 3024.9 507.0 3024.5C508.6 3024.1 510.2 3023.8 511.8 3023.4C513.4 3023.0 515.1 3022.6 516.7 3022.2C518.4 3021.8 520.0 3021.4 521.7 3020.9C523.3 3020.5 525.0 3019.9 526.7 3019.4C528.4 3018.9 530.1 3018.3 531.8 3017.8C533.5 3017.3 535.2 3016.8 536.9 3016.5C538.6 3016.1 540.2 3015.7 541.9 3015.6C543.5 3015.4 545.1 3015.3 546.7 3015.5C548.3 3015.6 549.8 3015.9 551.3 3016.4C552.8 3016.9 554.2 3017.7 555.7 3018.5C557.1 3019.3 558.5 3020.4 559.9 3021.3C561.3 3022.3 562.7 3023.3 564.1 3024.2C565.6 3025.1 567.0 3026.0 568.5 3026.7C570.0 3027.5 571.5 3028.1 573.1 3028.8C574.6 3029.5 576.2 3030.0 577.7 3030.6C579.3 3031.2 580.8 3031.8 582.4 3032.4C583.9 3033.0 585.4 3033.6 587.0 3034.3C588.5 3035.0 590.0 3035.7 591.5 3036.4C593.0 3037.2 594.4 3037.9 595.9 3038.7C597.4 3039.4 598.9 3040.1 600.5 3040.8C602.0 3041.5 603.5 3042.1 605.1 3042.7C606.7 3043.2 608.3 3043.7 610.0 3044.1C611.6 3044.5 613.3 3044.8 615.0 3045.0C616.7 3045.2 618.4 3045.2 620.1 3045.2C621.8 3045.1 623.5 3044.9 625.1 3044.6C626.7 3044.2 628.3 3043.7 629.8 3043.1C631.3 3042.5 632.7 3041.6 634.1 3040.8C635.5 3039.9 636.8 3038.9 638.1 3037.9C639.5 3036.9 640.8 3035.8 642.1 3034.7C643.4 3033.6 644.7 3032.5 646.0 3031.4C647.4 3030.3 648.7 3029.3 650.1 3028.3C651.5 3027.3 652.9 3026.4 654.3 3025.4C655.7 3024.5 657.1 3023.6 658.5 3022.7C659.8 3021.8 661.2 3020.8 662.6 3019.9C663.9 3018.9 665.2 3017.9 666.5 3016.9C667.7 3015.8 668.9 3014.7 670.1 3013.6C671.2 3012.4 672.3 3011.2 673.3 3009.9C674.4 3008.7 675.4 3007.3 676.4 3006.0C677.3 3004.6 678.3 3003.2 679.2 3001.8C680.1 3000.4 680.9 2999.0 681.8 2997.5C682.6 2996.0 683.4 2994.5 684.3 2993.0C685.1 2991.5 685.9 2990.0 686.6 2988.5C687.4 2987.0 688.2 2985.5 689.0 2984.0C689.8 2982.4 690.6 2980.9 691.3 2979.5C692.1 2978.0 692.9 2976.5 693.7 2975.0C694.5 2973.5 695.3 2972.1 696.0 2970.6C696.8 2969.1 697.6 2967.7 698.4 2966.2C699.2 2964.7 700.0 2963.3 700.8 2961.8C701.5 2960.4 702.3 2958.9 703.1 2957.5C703.9 2956.0 704.7 2954.6 705.5 2953.1C706.2 2951.7 707.0 2950.2 707.8 2948.8C708.6 2947.3 709.3 2945.9 710.1 2944.4C710.9 2943.0 711.7 2941.5 712.4 2940.1C713.2 2938.6 714.0 2937.1 714.7 2935.7C715.5 2934.2 716.2 2932.7 717.0 2931.2C717.7 2929.7 718.5 2928.3 719.2 2926.8C720.0 2925.3 720.7 2923.8 721.5 2922.3C722.2 2920.8 723.0 2919.3 723.7 2917.8C724.4 2916.3 725.1 2914.8 725.9 2913.3C726.6 2911.8 727.3 2910.3 728.0 2908.8C728.8 2907.2 729.5 2905.7 730.2 2904.2C730.9 2902.7 731.6 2901.2 732.3 2899.6C733.0 2898.1 733.7 2896.6 734.4 2895.1C735.1 2893.5 735.7 2892.0 736.4 2890.5C737.1 2888.9 737.8 2887.4 738.4 2885.8C739.1 2884.3 739.8 2882.8 740.4 2881.2C741.1 2879.7 741.7 2878.1 742.4 2876.6C743.0 2875.0 743.7 2873.5 744.3 2871.9C744.9 2870.4 745.6 2868.8 746.2 2867.3C746.8 2865.7 747.4 2864.1 748.0 2862.6C748.6 2861.0 749.3 2859.5 749.8 2857.9C750.4 2856.3 751.0 2854.8 751.6 2853.2C752.2 2851.6 752.8 2850.1 753.4 2848.5C753.9 2846.9 754.5 2845.4 755.1 2843.8C755.6 2842.2 756.2 2840.7 756.7 2839.1C757.3 2837.5 757.8 2835.9 758.4 2834.4C758.9 2832.8 759.4 2831.2 760.0 2829.6C760.5 2828.1 761.0 2826.5 761.5 2824.9C762.0 2823.3 762.5 2821.7 763.0 2820.1C763.5 2818.6 764.0 2817.0 764.5 2815.4C765.0 2813.8 765.5 2812.2 766.0 2810.6C766.5 2809.0 767.0 2807.5 767.4 2805.9C767.9 2804.3 768.4 2802.7 768.8 2801.1C769.3 2799.5 769.7 2797.9 770.2 2796.3C770.6 2794.7 771.1 2793.1 771.5 2791.5C772.0 2789.9 772.4 2788.3 772.8 2786.7C773.3 2785.1 773.7 2783.5 774.1 2781.9C774.5 2780.3 775.0 2778.7 775.4 2777.1C775.8 2775.5 776.2 2773.9 776.6 2772.3C777.0 2770.7 777.4 2769.1 777.8 2767.4C778.2 2765.8 778.6 2764.2 779.0 2762.6C779.3 2761.0 779.7 2759.4 780.1 2757.8C780.5 2756.2 780.8 2754.5 781.2 2752.9C781.6 2751.3 781.9 2749.7 782.3 2748.1C782.7 2746.5 783.0 2744.8 783.4 2743.2C783.7 2741.6 784.1 2740.0 784.4 2738.4C784.7 2736.7 785.1 2735.1 785.4 2733.5C785.8 2731.9 786.1 2730.2 786.4 2728.6C786.7 2727.0 787.1 2725.4 787.4 2723.7C787.7 2722.1 788.0 2720.5 788.3 2718.9C788.6 2717.2 788.9 2715.6 789.2 2714.0C789.6 2712.3 789.9 2710.7 790.2 2709.1C790.4 2707.4 790.7 2705.8 791.0 2704.2C791.3 2702.5 791.6 2700.9 791.9 2699.3C792.2 2697.6 792.5 2696.0 792.7 2694.4C793.0 2692.7 793.3 2691.1 793.6 2689.5C793.8 2687.8 794.1 2686.2 794.4 2684.5C794.6 2682.9 794.9 2681.3 795.1 2679.6C795.4 2678.0 795.7 2676.3 795.9 2674.7C796.2 2673.0 796.4 2671.4 796.7 2669.8C796.9 2668.1 797.2 2666.5 797.4 2664.8C797.6 2663.2 797.9 2661.5 798.1 2659.9C798.3 2658.2 798.6 2656.6 798.8 2655.0C799.0 2653.3 799.3 2651.7 799.5 2650.0C799.7 2648.4 799.9 2646.7 800.2 2645.1C800.4 2643.4 800.6 2641.8 800.8 2640.1C801.0 2638.5 801.3 2636.8 801.5 2635.2C801.7 2633.5 801.9 2631.9 802.1 2630.2C802.3 2628.6 802.5 2626.9 802.7 2625.2C802.9 2623.6 803.1 2621.9 803.3 2620.3C803.5 2618.6 803.7 2617.0 803.9 2615.3C804.1 2613.7 804.3 2612.0 804.5 2610.4C804.7 2608.7 804.9 2607.0 805.1 2605.4C805.3 2603.7 805.5 2602.1 805.6 2600.4C805.8 2598.8 806.0 2597.1 806.2 2595.4C806.4 2593.8 806.6 2592.1 806.7 2590.5C806.9 2588.8 807.1 2587.2 807.3 2585.5C807.4 2583.8 807.6 2582.2 807.8 2580.5C808.0 2578.9 808.1 2577.2 808.3 2575.5C808.5 2573.9 808.7 2572.2 808.8 2570.6C809.0 2568.9 809.2 2567.2 809.3 2565.6C809.5 2563.9 809.7 2562.3 809.8 2560.6C810.0 2558.9 810.2 2557.3 810.3 2555.6C810.5 2553.9 810.7 2552.3 810.8 2550.6C811.0 2549.0 811.2 2547.3 811.3 2545.6C811.5 2544.0 811.6 2542.3 811.8 2540.7C812.0 2539.0 812.1 2537.3 812.3 2535.7C812.4 2534.0 812.6 2532.3 812.8 2530.7C812.9 2529.0 813.1 2527.4 813.2 2525.7C813.4 2524.0 813.6 2522.4 813.7 2520.7C813.9 2519.0 814.0 2517.4 814.2 2515.7C814.3 2514.1 814.5 2512.4 814.7 2510.7C814.8 2509.1 815.0 2507.4 815.1 2505.7C815.3 2504.1 815.4 2502.4 815.6 2500.8C815.8 2499.1 815.9 2497.4 816.1 2495.8C816.2 2494.1 816.4 2492.4 816.6 2490.8C816.7 2489.1 816.9 2487.5 817.0 2485.8C817.2 2484.1 817.3 2482.5 817.5 2480.8C817.7 2479.2 817.8 2477.5 818.0 2475.8C818.2 2474.2 818.3 2472.5 818.5 2470.8C818.6 2469.2 818.8 2467.5 819.0 2465.9C819.1 2464.2 819.3 2462.5 819.4 2460.9C819.6 2459.2 819.8 2457.6 819.9 2455.9C820.1 2454.2 820.3 2452.6 820.4 2450.9C820.6 2449.3 820.8 2447.6 820.9 2445.9C821.1 2444.3 821.2 2442.6 821.4 2441.0C821.6 2439.3 821.7 2437.6 821.9 2436.0C822.1 2434.3 822.2 2432.7 822.4 2431.0C822.6 2429.4 822.7 2427.7 822.9 2426.0C823.1 2424.4 823.2 2422.7 823.4 2421.1C823.6 2419.4 823.7 2417.7 823.9 2416.1C824.1 2414.4 824.2 2412.8 824.4 2411.1C824.6 2409.5 824.7 2407.8 824.9 2406.1C825.1 2404.5 825.2 2402.8 825.4 2401.2C825.6 2399.5 825.7 2397.8 825.9 2396.2C826.1 2394.5 826.2 2392.9 826.4 2391.2C826.6 2389.6 826.8 2387.9 826.9 2386.2C827.1 2384.6 827.3 2382.9 827.4 2381.3C827.6 2379.6 827.8 2378.0 827.9 2376.3C828.1 2374.6 828.3 2373.0 828.4 2371.3C828.6 2369.7 828.8 2368.0 829.0 2366.4C829.1 2364.7 829.3 2363.1 829.5 2361.4C829.6 2359.7 829.8 2358.1 830.0 2356.4C830.1 2354.8 830.3 2353.1 830.5 2351.5C830.7 2349.8 830.8 2348.2 831.0 2346.5C831.2 2344.8 831.3 2343.2 831.5 2341.5C831.7 2339.9 831.8 2338.2 832.0 2336.6C832.2 2334.9 832.3 2333.3 832.5 2331.6C832.7 2329.9 832.9 2328.3 833.0 2326.6C833.2 2325.0 833.4 2323.3 833.5 2321.7C833.7 2320.0 833.9 2318.4 834.0 2316.7C834.2 2315.0 834.4 2313.4 834.6 2311.7C834.7 2310.1 834.9 2308.4 835.1 2306.8C835.2 2305.1 835.4 2303.5 835.6 2301.8C835.7 2300.2 835.9 2298.5 836.1 2296.8C836.2 2295.2 836.4 2293.5 836.6 2291.9C836.8 2290.2 836.9 2288.6 837.1 2286.9C837.3 2285.3 837.4 2283.6 837.6 2282.0C837.8 2280.3 837.9 2278.6 838.1 2277.0C838.3 2275.3 838.4 2273.7 838.6 2272.0C838.8 2270.4 838.9 2268.7 839.1 2267.1C839.3 2265.4 839.4 2263.8 839.6 2262.1C839.8 2260.5 839.9 2258.8 840.1 2257.2C840.3 2255.5 840.4 2253.8 840.6 2252.2C840.8 2250.5 840.9 2248.9 841.1 2247.2C841.3 2245.6 841.4 2243.9 841.6 2242.3C841.8 2240.6 841.9 2239.0 842.1 2237.3C842.3 2235.7 842.4 2234.0 842.6 2232.4C842.8 2230.7 842.9 2229.0 843.1 2227.4C843.3 2225.7 843.4 2224.1 843.6 2222.4C843.8 2220.8 843.9 2219.1 844.1 2217.5C844.3 2215.8 844.5 2214.2 844.6 2212.5C844.8 2210.9 845.0 2209.2 845.2 2207.6C845.4 2205.9 845.6 2204.3 845.8 2202.6C846.0 2201.0 846.2 2199.3 846.4 2197.6C846.7 2196.0 846.9 2194.3 847.1 2192.7C847.4 2191.0 847.6 2189.4 847.9 2187.7C848.2 2186.1 848.4 2184.4 848.7 2182.8C849.0 2181.1 849.3 2179.5 849.7 2177.8C850.0 2176.2 850.3 2174.5 850.7 2172.9C851.0 2171.3 851.4 2169.6 851.8 2168.0C852.2 2166.3 852.6 2164.7 853.0 2163.0C853.4 2161.4 853.9 2159.7 854.3 2158.1C854.8 2156.4 855.3 2154.8 855.8 2153.1C856.3 2151.5 856.8 2149.7 857.4 2148.2C858.0 2146.8 858.6 2145.0 859.5 2144.5C860.4 2144.0 861.8 2144.2 862.6 2145.1C863.5 2145.9 864.0 2147.9 864.6 2149.5C865.1 2151.1 865.5 2153.0 866.0 2154.7C866.4 2156.4 866.8 2158.0 867.2 2159.7C867.5 2161.4 867.9 2163.1 868.2 2164.7C868.5 2166.4 868.9 2168.1 869.1 2169.7C869.4 2171.4 869.7 2173.0 870.0 2174.7C870.2 2176.3 870.5 2177.9 870.7 2179.6C870.9 2181.2 871.2 2182.9 871.4 2184.5C871.6 2186.2 871.8 2187.8 872.0 2189.4C872.2 2191.1 872.5 2192.7 872.7 2194.4C872.9 2196.0 873.1 2197.6 873.3 2199.3C873.5 2200.9 873.7 2202.6 873.9 2204.2C874.1 2205.9 874.3 2207.5 874.4 2209.2C874.6 2210.8 874.8 2212.5 875.0 2214.1C875.2 2215.8 875.4 2217.4 875.5 2219.1C875.7 2220.7 875.9 2222.4 876.1 2224.0C876.2 2225.7 876.4 2227.3 876.6 2229.0C876.8 2230.6 876.9 2232.3 877.1 2233.9C877.2 2235.6 877.4 2237.2 877.6 2238.9C877.7 2240.6 877.9 2242.2 878.0 2243.9C878.2 2245.5 878.3 2247.2 878.5 2248.8C878.6 2250.5 878.8 2252.1 878.9 2253.8C879.1 2255.5 879.2 2257.1 879.4 2258.8C879.5 2260.4 879.6 2262.1 879.8 2263.8C879.9 2265.4 880.1 2267.1 880.2 2268.7C880.3 2270.4 880.5 2272.0 880.6 2273.7C880.7 2275.4 880.9 2277.0 881.0 2278.7C881.1 2280.3 881.2 2282.0 881.4 2283.7C881.5 2285.3 881.6 2287.0 881.8 2288.7C881.9 2290.3 882.0 2292.0 882.1 2293.6C882.2 2295.3 882.4 2297.0 882.5 2298.6C882.6 2300.3 882.7 2301.9 882.8 2303.6C883.0 2305.3 883.1 2306.9 883.2 2308.6C883.3 2310.3 883.4 2311.9 883.5 2313.6C883.7 2315.2 883.8 2316.9 883.9 2318.6C884.0 2320.2 884.1 2321.9 884.2 2323.6C884.3 2325.2 884.4 2326.9 884.6 2328.5C884.7 2330.2 884.8 2331.9 884.9 2333.5C885.0 2335.2 885.1 2336.9 885.2 2338.5C885.3 2340.2 885.4 2341.8 885.5 2343.5C885.7 2345.2 885.8 2346.8 885.9 2348.5C886.0 2350.2 886.1 2351.8 886.2 2353.5C886.3 2355.2 886.4 2356.8 886.5 2358.5C886.6 2360.1 886.7 2361.8 886.8 2363.5C886.9 2365.1 887.0 2366.8 887.1 2368.5C887.3 2370.1 887.4 2371.8 887.5 2373.4C887.6 2375.1 887.7 2376.8 887.8 2378.4C887.9 2380.1 888.0 2381.8 888.1 2383.4C888.2 2385.1 888.3 2386.7 888.4 2388.4C888.5 2390.1 888.6 2391.7 888.7 2393.4C888.8 2395.1 888.9 2396.7 889.0 2398.4C889.1 2400.0 889.2 2401.7 889.3 2403.4C889.4 2405.0 889.5 2406.7 889.6 2408.4C889.7 2410.0 889.8 2411.7 889.9 2413.3C890.0 2415.0 890.1 2416.7 890.2 2418.3C890.3 2420.0 890.4 2421.7 890.5 2423.3C890.6 2425.0 890.7 2426.6 890.8 2428.3C890.9 2430.0 891.0 2431.6 891.2 2433.3C891.3 2435.0 891.4 2436.6 891.5 2438.3C891.6 2439.9 891.7 2441.6 891.8 2443.3C891.9 2444.9 892.0 2446.6 892.1 2448.3C892.2 2449.9 892.3 2451.6 892.4 2453.2C892.5 2454.9 892.6 2456.6 892.7 2458.2C892.8 2459.9 892.9 2461.6 893.0 2463.2C893.1 2464.9 893.2 2466.5 893.3 2468.2C893.4 2469.9 893.5 2471.5 893.6 2473.2C893.7 2474.8 893.8 2476.5 893.9 2478.2C894.0 2479.8 894.1 2481.5 894.2 2483.2C894.3 2484.8 894.4 2486.5 894.5 2488.1C894.6 2489.8 894.8 2491.5 894.9 2493.1C895.0 2494.8 895.1 2496.4 895.2 2498.1C895.3 2499.8 895.4 2501.4 895.5 2503.1C895.6 2504.8 895.7 2506.4 895.8 2508.1C895.9 2509.7 896.0 2511.4 896.1 2513.1C896.2 2514.7 896.4 2516.4 896.5 2518.0C896.6 2519.7 896.7 2521.4 896.8 2523.0C896.9 2524.7 897.0 2526.3 897.1 2528.0C897.2 2529.7 897.4 2531.3 897.5 2533.0C897.6 2534.7 897.7 2536.3 897.8 2538.0C897.9 2539.6 898.0 2541.3 898.1 2543.0C898.3 2544.6 898.4 2546.3 898.5 2547.9C898.6 2549.6 898.7 2551.3 898.8 2552.9C899.0 2554.6 899.1 2556.2 899.2 2557.9C899.3 2559.6 899.4 2561.2 899.5 2562.9C899.7 2564.5 899.8 2566.2 899.9 2567.9C900.0 2569.5 900.1 2571.2 900.3 2572.8C900.4 2574.5 900.5 2576.2 900.6 2577.8C900.8 2579.5 900.9 2581.1 901.0 2582.8C901.1 2584.4 901.3 2586.1 901.4 2587.8C901.5 2589.4 901.6 2591.1 901.8 2592.7C901.9 2594.4 902.0 2596.1 902.1 2597.7C902.3 2599.4 902.4 2601.0 902.5 2602.7C902.7 2604.4 902.8 2606.0 902.9 2607.7C903.1 2609.3 903.2 2611.0 903.3 2612.6C903.5 2614.3 903.6 2616.0 903.7 2617.6C903.9 2619.3 904.0 2620.9 904.2 2622.6C904.3 2624.3 904.4 2625.9 904.6 2627.6C904.7 2629.2 904.9 2630.9 905.0 2632.5C905.1 2634.2 905.3 2635.9 905.4 2637.5C905.6 2639.2 905.7 2640.8 905.9 2642.5C906.0 2644.1 906.2 2645.8 906.3 2647.5C906.5 2649.1 906.6 2650.8 906.8 2652.4C906.9 2654.1 907.1 2655.7 907.2 2657.4C907.4 2659.1 907.5 2660.7 907.7 2662.4C907.8 2664.0 908.0 2665.7 908.1 2667.3C908.3 2669.0 908.5 2670.7 908.6 2672.3C908.8 2674.0 908.9 2675.6 909.1 2677.3C909.3 2678.9 909.4 2680.6 909.6 2682.2C909.8 2683.9 909.9 2685.6 910.1 2687.2C910.3 2688.9 910.4 2690.5 910.6 2692.2C910.8 2693.8 910.9 2695.5 911.1 2697.1C911.3 2698.8 911.4 2700.4 911.6 2702.1C911.8 2703.8 912.0 2705.4 912.2 2707.1C912.3 2708.7 912.5 2710.4 912.7 2712.0C912.9 2713.7 913.1 2715.3 913.2 2717.0C913.4 2718.6 913.6 2720.3 913.8 2722.0C914.0 2723.6 914.2 2725.3 914.4 2726.9C914.5 2728.6 914.7 2730.2 914.9 2731.9C915.1 2733.5 915.3 2735.2 915.5 2736.8C915.7 2738.5 915.9 2740.1 916.1 2741.8C916.3 2743.4 916.5 2745.1 916.7 2746.7C916.9 2748.4 917.1 2750.1 917.3 2751.7C917.5 2753.4 917.7 2755.0 917.9 2756.7C918.1 2758.3 918.3 2760.0 918.5 2761.6C918.8 2763.3 919.0 2764.9 919.2 2766.6C919.4 2768.2 919.6 2769.9 919.8 2771.5C920.0 2773.2 920.3 2774.8 920.5 2776.5C920.7 2778.1 920.9 2779.8 921.2 2781.4C921.4 2783.1 921.6 2784.7 921.8 2786.4C922.1 2788.0 922.3 2789.7 922.5 2791.3C922.7 2793.0 923.0 2794.6 923.2 2796.3C923.4 2797.9 923.7 2799.6 923.9 2801.2C924.2 2802.9 924.4 2804.5 924.6 2806.2C924.9 2807.8 925.1 2809.5 925.4 2811.1C925.6 2812.8 925.9 2814.4 926.1 2816.1C926.4 2817.7 926.6 2819.4 926.9 2821.0C927.1 2822.7 927.4 2824.3 927.6 2826.0C927.9 2827.6 928.2 2829.2 928.4 2830.9C928.7 2832.5 929.0 2834.2 929.2 2835.8C929.5 2837.5 929.8 2839.1 930.1 2840.8C930.4 2842.4 930.6 2844.1 930.9 2845.7C931.2 2847.3 931.5 2849.0 931.8 2850.6C932.1 2852.3 932.4 2853.9 932.7 2855.5C933.0 2857.2 933.3 2858.8 933.6 2860.4C934.0 2862.1 934.3 2863.7 934.6 2865.4C934.9 2867.0 935.3 2868.6 935.6 2870.3C935.9 2871.9 936.3 2873.5 936.6 2875.1C937.0 2876.8 937.3 2878.4 937.7 2880.0C938.1 2881.7 938.4 2883.3 938.8 2884.9C939.2 2886.5 939.6 2888.2 939.9 2889.8C940.3 2891.4 940.7 2893.0 941.1 2894.6C941.5 2896.2 941.9 2897.9 942.4 2899.5C942.8 2901.1 943.2 2902.7 943.6 2904.3C944.1 2905.9 944.5 2907.5 944.9 2909.1C945.4 2910.7 945.9 2912.4 946.3 2914.0C946.8 2915.6 947.3 2917.2 947.7 2918.8C948.2 2920.4 948.7 2922.0 949.2 2923.5C949.7 2925.1 950.2 2926.7 950.7 2928.3C951.3 2929.9 951.8 2931.5 952.3 2933.1C952.9 2934.7 953.4 2936.3 954.0 2937.8C954.5 2939.4 955.1 2941.0 955.7 2942.6C956.3 2944.1 956.8 2945.7 957.4 2947.3C958.0 2948.9 958.6 2950.4 959.3 2952.0C959.9 2953.6 960.5 2955.1 961.2 2956.7C961.8 2958.2 962.5 2959.8 963.1 2961.3C963.8 2962.9 964.5 2964.4 965.2 2965.9C965.9 2967.5 966.6 2969.0 967.4 2970.5C968.1 2972.0 968.9 2973.5 969.6 2974.9C970.4 2976.4 971.2 2977.9 972.0 2979.3C972.9 2980.7 973.7 2982.2 974.6 2983.5C975.5 2984.9 976.4 2986.3 977.3 2987.7C978.2 2989.0 979.2 2990.3 980.1 2991.6C981.1 2992.9 982.1 2994.2 983.2 2995.4C984.2 2996.6 985.3 2997.9 986.4 2999.0C987.5 3000.2 988.6 3001.3 989.8 3002.4C991.0 3003.5 992.2 3004.6 993.4 3005.6C994.7 3006.6 996.0 3007.6 997.3 3008.6C998.6 3009.5 1000.0 3010.4 1001.4 3011.3C1002.8 3012.2 1004.2 3013.0 1005.7 3013.8C1007.1 3014.5 1008.6 3015.3 1010.1 3016.0C1011.6 3016.7 1013.2 3017.4 1014.7 3018.0C1016.3 3018.7 1017.9 3019.3 1019.5 3019.9C1021.1 3020.4 1022.7 3021.0 1024.4 3021.5C1026.0 3022.0 1027.7 3022.5 1029.3 3022.9C1031.0 3023.4 1032.7 3023.8 1034.4 3024.2C1036.1 3024.6 1037.8 3024.9 1039.5 3025.3C1041.2 3025.6 1042.9 3025.9 1044.6 3026.2C1046.3 3026.5 1048.0 3026.7 1049.7 3026.9C1051.4 3027.2 1053.1 3027.4 1054.8 3027.6C1056.4 3027.7 1058.1 3027.9 1059.8 3028.0C1061.5 3028.2 1063.1 3028.3 1064.8 3028.4C1066.5 3028.5 1068.1 3028.6 1069.8 3028.7C1071.4 3028.7 1073.1 3028.8 1074.7 3028.8C1076.3 3028.8 1078.0 3028.9 1079.6 3028.9C1081.2 3028.9 1082.9 3028.9 1084.5 3028.8C1086.1 3028.8 1087.8 3028.8 1089.4 3028.7C1091.0 3028.7 1092.7 3028.6 1094.3 3028.6C1095.9 3028.5 1097.5 3028.4 1099.2 3028.3C1100.8 3028.3 1102.4 3028.2 1104.1 3028.1C1105.7 3028.0 1107.3 3027.9 1109.0 3027.8C1110.6 3027.6 1112.3 3027.5 1113.9 3027.4C1115.5 3027.3 1117.2 3027.1 1118.8 3027.0C1120.5 3026.8 1122.1 3026.7 1123.8 3026.5C1125.4 3026.4 1127.0 3026.2 1128.7 3026.0C1130.3 3025.8 1132.0 3025.6 1133.6 3025.4C1135.3 3025.2 1136.9 3025.0 1138.6 3024.8C1140.2 3024.6 1141.8 3024.3 1143.5 3024.1C1145.1 3023.8 1146.8 3023.6 1148.4 3023.3C1150.1 3023.1 1151.7 3022.8 1153.3 3022.5C1155.0 3022.2 1156.6 3021.9 1158.2 3021.6C1159.9 3021.2 1161.5 3020.9 1163.2 3020.6C1164.8 3020.2 1166.4 3019.9 1168.0 3019.5C1169.7 3019.1 1171.3 3018.7 1172.9 3018.3C1174.5 3017.9 1176.2 3017.5 1177.8 3017.1C1179.4 3016.7 1181.0 3016.2 1182.6 3015.8C1184.2 3015.3 1185.8 3014.8 1187.4 3014.3C1189.0 3013.8 1190.7 3013.3 1192.2 3012.8C1193.8 3012.3 1195.4 3011.8 1197.0 3011.2C1198.6 3010.7 1200.2 3010.1 1201.8 3009.5C1203.4 3009.0 1205.0 3008.4 1206.5 3007.8C1208.1 3007.2 1209.7 3006.6 1211.3 3006.1C1212.9 3005.5 1214.4 3004.9 1216.0 3004.4C1217.6 3003.8 1219.2 3003.2 1220.8 3002.7C1222.4 3002.2 1223.9 3001.6 1225.5 3001.1C1227.1 3000.6 1228.7 3000.1 1230.3 2999.7C1231.9 2999.2 1233.5 2998.7 1235.1 2998.3C1236.7 2997.9 1238.3 2997.5 1239.9 2997.2C1241.5 2996.8 1243.2 2996.5 1244.8 2996.2C1246.4 2995.9 1248.0 2995.7 1249.7 2995.5C1251.3 2995.3 1253.0 2995.1 1254.6 2995.0C1256.3 2994.9 1257.9 2994.8 1259.6 2994.8C1261.2 2994.7 1262.9 2994.7 1264.5 2994.8C1266.2 2994.8 1267.8 2994.9 1269.5 2995.0C1271.1 2995.1 1272.8 2995.3 1274.4 2995.5C1276.1 2995.7 1277.7 2996.0 1279.3 2996.3C1281.0 2996.6 1282.6 2996.9 1284.2 2997.3C1285.8 2997.6 1287.4 2998.1 1289.0 2998.5C1290.6 2999.0 1292.2 2999.5 1293.7 3000.0C1295.3 3000.6 1296.9 3001.2 1298.4 3001.8C1299.9 3002.4 1301.4 3003.1 1302.9 3003.8C1304.4 3004.5 1305.9 3005.3 1307.4 3006.1C1308.8 3006.9 1310.3 3007.7 1311.7 3008.6C1313.1 3009.5 1314.5 3010.4 1315.9 3011.3C1317.3 3012.3 1318.7 3013.3 1320.0 3014.3C1321.4 3015.2 1322.7 3016.3 1324.1 3017.3C1325.4 3018.3 1326.7 3019.4 1328.1 3020.4C1329.4 3021.5 1330.7 3022.6 1332.0 3023.6C1333.4 3024.7 1334.7 3025.8 1336.0 3026.8C1337.3 3027.9 1338.7 3028.9 1340.0 3029.9C1341.4 3031.0 1342.7 3032.0 1344.1 3033.0C1345.4 3034.0 1346.8 3034.9 1348.2 3035.9C1349.5 3036.8 1350.9 3037.8 1352.3 3038.7C1353.7 3039.6 1355.1 3040.5 1356.5 3041.4C1357.9 3042.2 1359.4 3043.1 1360.8 3043.9C1362.2 3044.7 1363.7 3045.6 1365.1 3046.4C1366.6 3047.1 1368.0 3047.9 1369.5 3048.7C1370.9 3049.4 1372.4 3050.2 1373.9 3050.9C1375.4 3051.6 1376.9 3052.3 1378.4 3053.0C1379.9 3053.7 1381.4 3054.3 1382.9 3055.0C1384.4 3055.7 1385.9 3056.3 1387.4 3056.9C1389.0 3057.5 1390.5 3058.1 1392.0 3058.7C1393.6 3059.3 1395.1 3059.9 1396.7 3060.4C1398.2 3061.0 1399.8 3061.5 1401.3 3062.0C1402.9 3062.6 1404.5 3063.1 1406.0 3063.6C1407.6 3064.1 1409.2 3064.6 1410.8 3065.0C1412.3 3065.5 1413.9 3065.9 1415.5 3066.4C1417.1 3066.8 1418.7 3067.3 1420.3 3067.7C1421.9 3068.1 1423.5 3068.5 1425.2 3068.9C1426.8 3069.3 1428.4 3069.6 1430.0 3070.0C1431.6 3070.4 1433.3 3070.7 1434.9 3071.1C1436.5 3071.4 1438.1 3071.8 1439.8 3072.1C1441.4 3072.4 1443.0 3072.7 1444.7 3073.0C1446.3 3073.3 1448.0 3073.6 1449.6 3073.9C1451.3 3074.2 1452.9 3074.4 1454.6 3074.7C1456.2 3075.0 1457.9 3075.2 1459.5 3075.5C1461.2 3075.7 1462.8 3075.9 1464.5 3076.2C1466.2 3076.4 1467.8 3076.6 1469.5 3076.8C1471.1 3077.0 1472.8 3077.2 1474.5 3077.4C1476.1 3077.6 1477.8 3077.8 1479.5 3078.0C1481.1 3078.2 1482.8 3078.4 1484.5 3078.5C1486.1 3078.7 1487.8 3078.9 1489.5 3079.0C1491.1 3079.2 1492.8 3079.3 1494.5 3079.5C1496.1 3079.6 1497.8 3079.8 1499.5 3079.9C1501.1 3080.0 1502.8 3080.2 1504.5 3080.3C1506.1 3080.4 1507.8 3080.6 1509.5 3080.7C1511.1 3080.8 1512.8 3080.9 1514.5 3081.0C1516.1 3081.1 1517.8 3081.2 1519.5 3081.3C1521.1 3081.4 1522.8 3081.5 1524.5 3081.6C1526.1 3081.7 1527.8 3081.8 1529.5 3081.8C1531.1 3081.9 1532.8 3082.0 1534.4 3082.1C1536.1 3082.1 1537.8 3082.2 1539.4 3082.3C1541.1 3082.3 1542.8 3082.4 1544.4 3082.4C1546.1 3082.5 1547.8 3082.5 1549.4 3082.6C1551.1 3082.6 1552.8 3082.7 1554.4 3082.7C1556.1 3082.8 1557.8 3082.8 1559.4 3082.8C1561.1 3082.9 1562.7 3082.9 1564.4 3082.9C1566.1 3082.9 1567.7 3083.0 1569.4 3083.0C1571.1 3083.0 1572.7 3083.0 1574.4 3083.0C1576.1 3083.0 1577.7 3083.0 1579.4 3083.0C1581.0 3083.0 1582.7 3083.0 1584.4 3083.0C1586.0 3083.0 1587.7 3083.0 1589.4 3083.0C1591.0 3083.0 1592.7 3083.0 1594.4 3083.0C1596.0 3083.0 1597.7 3083.0 1599.3 3083.0C1601.0 3082.9 1602.7 3082.9 1604.3 3082.9C1606.0 3082.9 1607.7 3082.9 1609.3 3082.8C1611.0 3082.8 1612.6 3082.8 1614.3 3082.8C1616.0 3082.7 1617.6 3082.7 1619.3 3082.7C1621.0 3082.6 1622.6 3082.6 1624.3 3082.5C1625.9 3082.5 1627.6 3082.5 1629.3 3082.4C1630.9 3082.4 1632.6 3082.3 1634.3 3082.3C1635.9 3082.3 1637.6 3082.2 1639.2 3082.2C1640.9 3082.1 1642.6 3082.1 1644.2 3082.0C1645.9 3082.0 1647.6 3081.9 1649.2 3081.9C1650.9 3081.8 1652.5 3081.8 1654.2 3081.7C1655.9 3081.7 1657.5 3081.6 1659.2 3081.5C1660.9 3081.5 1662.5 3081.4 1664.2 3081.4C1665.8 3081.3 1667.5 3081.3 1669.2 3081.2C1670.8 3081.1 1672.5 3081.1 1674.2 3081.0C1675.8 3081.0 1677.5 3080.9 1679.2 3080.8C1680.8 3080.8 1682.5 3080.7 1684.1 3080.7C1685.8 3080.6 1687.5 3080.5 1689.1 3080.5C1690.8 3080.4 1692.5 3080.4 1694.1 3080.3C1695.8 3080.2 1697.4 3080.2 1699.1 3080.1C1700.8 3080.1 1702.4 3080.0 1704.1 3079.9C1705.8 3079.9 1707.4 3079.8 1709.1 3079.8C1710.7 3079.7 1712.4 3079.7 1714.1 3079.6C1715.7 3079.5 1717.4 3079.5 1719.1 3079.4C1720.7 3079.4 1722.4 3079.3 1724.0 3079.3C1725.7 3079.2 1727.4 3079.2 1729.0 3079.1C1730.7 3079.1 1732.4 3079.0 1734.0 3079.0C1735.7 3078.9 1737.4 3078.9 1739.0 3078.8C1740.7 3078.8 1742.3 3078.7 1744.0 3078.7C1745.7 3078.6 1747.3 3078.6 1749.0 3078.6C1750.7 3078.5 1752.3 3078.5 1754.0 3078.4C1755.7 3078.4 1757.3 3078.4 1759.0 3078.3C1760.7 3078.3 1762.3 3078.3 1764.0 3078.2C1765.6 3078.2 1767.3 3078.2 1769.0 3078.2C1770.6 3078.1 1772.3 3078.1 1774.0 3078.1C1775.6 3078.1 1777.3 3078.1 1779.0 3078.0C1780.6 3078.0 1782.3 3078.0 1784.0 3078.0C1785.6 3078.0 1787.3 3078.0 1789.0 3078.0C1790.6 3078.0 1792.3 3078.0 1794.0 3078.0C1795.6 3078.0 1797.3 3078.0 1799.0 3078.0C1800.6 3078.0 1802.3 3078.0 1803.9 3078.0C1805.6 3078.0 1807.3 3078.1 1808.9 3078.1C1810.6 3078.1 1812.3 3078.1 1813.9 3078.2C1815.6 3078.2 1817.3 3078.2 1818.9 3078.2C1820.6 3078.3 1822.3 3078.3 1823.9 3078.4C1825.6 3078.4 1827.3 3078.5 1829.0 3078.5C1830.6 3078.5 1832.3 3078.6 1834.0 3078.7C1835.6 3078.7 1837.3 3078.8 1839.0 3078.8C1840.6 3078.9 1842.3 3079.0 1844.0 3079.1C1845.6 3079.1 1847.3 3079.2 1849.0 3079.3C1850.6 3079.4 1852.3 3079.5 1854.0 3079.5C1855.6 3079.6 1857.3 3079.7 1859.0 3079.8C1860.7 3079.9 1862.3 3080.0 1864.0 3080.2C1865.7 3080.3 1868.2 3080.4 1869.0 3080.5" stroke="#0000ff"/>
<path d="M299.6 3082.8C300.4 3082.8 302.9 3082.8 304.5 3082.8C306.2 3082.8 307.8 3082.8 309.5 3082.8C311.1 3082.8 312.8 3082.8 314.4 3082.8C316.1 3082.8 317.7 3082.8 319.4 3082.7C321.1 3082.7 322.7 3082.7 324.4 3082.7C326.0 3082.6 327.7 3082.6 329.4 3082.5C331.0 3082.5 332.7 3082.5 334.4 3082.4C336.0 3082.4 337.7 3082.3 339.4 3082.2C341.0 3082.2 342.7 3082.1 344.4 3082.0C346.1 3081.9 347.7 3081.9 349.4 3081.8C351.1 3081.7 352.7 3081.6 354.4 3081.5C356.1 3081.4 357.8 3081.3 359.4 3081.1C361.1 3081.0 362.8 3080.9 364.4 3080.8C366.1 3080.6 367.8 3080.5 369.5 3080.3C371.1 3080.2 372.8 3080.0 374.5 3079.9C376.1 3079.7 377.8 3079.5 379.5 3079.3C381.1 3079.2 382.8 3079.0 384.5 3078.8C386.1 3078.6 387.8 3078.3 389.4 3078.1C391.1 3077.9 392.8 3077.7 394.4 3077.4C396.1 3077.2 397.7 3076.9 399.4 3076.7C401.0 3076.4 402.7 3076.1 404.3 3075.9C406.0 3075.6 407.6 3075.3 409.2 3075.0C410.9 3074.7 412.5 3074.4 414.2 3074.0C415.8 3073.7 417.4 3073.4 419.0 3073.0C420.7 3072.6 422.3 3072.3 423.9 3071.9C425.5 3071.5 427.2 3071.1 428.8 3070.7C430.4 3070.3 432.0 3069.9 433.6 3069.5C435.2 3069.1 436.8 3068.6 438.4 3068.2C440.0 3067.7 441.6 3067.3 443.2 3066.8C444.7 3066.3 446.3 3065.8 447.9 3065.3C449.5 3064.8 451.0 3064.3 452.6 3063.7C454.2 3063.2 455.7 3062.6 457.3 3062.1C458.8 3061.5 460.4 3060.9 461.9 3060.3C463.5 3059.7 465.0 3059.1 466.5 3058.5C468.1 3057.9 469.6 3057.2 471.1 3056.6C472.6 3055.9 474.1 3055.2 475.6 3054.5C477.2 3053.8 478.6 3053.1 480.1 3052.4C481.6 3051.7 483.1 3050.9 484.6 3050.2C486.1 3049.4 487.5 3048.7 489.0 3047.9C490.5 3047.1 491.9 3046.3 493.4 3045.5C494.9 3044.7 496.3 3043.9 497.8 3043.0C499.2 3042.2 500.7 3041.4 502.1 3040.6C503.6 3039.7 505.0 3038.9 506.5 3038.1C507.9 3037.2 509.4 3036.4 510.8 3035.6C512.3 3034.7 513.8 3033.9 515.2 3033.1C516.7 3032.3 518.1 3031.5 519.6 3030.7C521.1 3029.9 522.6 3029.1 524.1 3028.3C525.6 3027.5 527.1 3026.8 528.6 3026.0C530.1 3025.3 531.6 3024.5 533.1 3023.8C534.6 3023.1 536.2 3022.4 537.7 3021.8C539.3 3021.1 540.8 3020.5 542.4 3019.8C544.0 3019.2 545.6 3018.6 547.1 3018.1C548.7 3017.5 550.3 3017.0 551.9 3016.5C553.5 3016.1 555.2 3015.6 556.8 3015.2C558.4 3014.8 560.0 3014.5 561.6 3014.2C563.3 3013.9 564.9 3013.7 566.5 3013.5C568.1 3013.3 569.8 3013.2 571.4 3013.1C573.0 3013.1 574.7 3013.1 576.3 3013.2C577.9 3013.2 579.5 3013.4 581.2 3013.6C582.8 3013.8 584.4 3014.1 586.0 3014.5C587.6 3014.8 589.2 3015.2 590.8 3015.7C592.4 3016.2 594.0 3016.7 595.6 3017.3C597.2 3017.8 598.7 3018.5 600.3 3019.1C601.8 3019.8 603.4 3020.5 604.9 3021.3C606.5 3022.0 608.0 3022.8 609.5 3023.6C611.0 3024.4 612.5 3025.2 614.0 3026.1C615.4 3026.9 616.9 3027.8 618.3 3028.7C619.8 3029.6 621.2 3030.5 622.6 3031.4C624.0 3032.3 625.4 3033.2 626.8 3034.1C628.3 3034.9 629.7 3035.8 631.1 3036.5C632.6 3037.2 634.1 3037.9 635.6 3038.4C637.2 3039.0 638.8 3039.4 640.4 3039.8C642.0 3040.1 643.7 3040.3 645.4 3040.4C647.0 3040.6 648.7 3040.6 650.4 3040.5C652.1 3040.4 653.8 3040.2 655.5 3040.0C657.2 3039.7 658.8 3039.4 660.4 3038.9C662.1 3038.5 663.6 3038.0 665.2 3037.4C666.7 3036.8 668.2 3036.1 669.7 3035.4C671.1 3034.7 672.5 3033.8 673.9 3033.0C675.3 3032.1 676.6 3031.2 677.9 3030.2C679.2 3029.2 680.5 3028.2 681.7 3027.1C683.0 3026.0 684.2 3024.8 685.4 3023.6C686.5 3022.5 687.7 3021.2 688.8 3020.0C689.9 3018.7 691.0 3017.4 692.1 3016.1C693.2 3014.8 694.2 3013.4 695.2 3012.0C696.3 3010.7 697.3 3009.3 698.2 3007.8C699.2 3006.4 700.2 3005.0 701.1 3003.6C702.1 3002.1 703.0 3000.7 703.9 2999.2C704.8 2997.8 705.7 2996.3 706.6 2994.9C707.5 2993.4 708.3 2991.9 709.2 2990.5C710.0 2989.0 710.9 2987.6 711.7 2986.1C712.5 2984.6 713.3 2983.2 714.1 2981.7C714.9 2980.2 715.7 2978.7 716.5 2977.3C717.3 2975.8 718.1 2974.3 718.8 2972.8C719.6 2971.4 720.3 2969.9 721.1 2968.4C721.8 2966.9 722.5 2965.4 723.3 2963.9C724.0 2962.5 724.7 2961.0 725.4 2959.5C726.1 2958.0 726.8 2956.5 727.5 2955.0C728.2 2953.5 728.9 2952.0 729.6 2950.5C730.3 2949.0 731.0 2947.5 731.7 2946.0C732.4 2944.5 733.0 2943.0 733.7 2941.5C734.4 2940.0 735.0 2938.5 735.7 2937.0C736.4 2935.5 737.0 2934.0 737.7 2932.5C738.4 2931.0 739.0 2929.5 739.7 2928.0C740.4 2926.4 741.0 2924.9 741.7 2923.4C742.3 2921.9 743.0 2920.4 743.7 2918.9C744.3 2917.4 745.0 2915.9 745.7 2914.3C746.3 2912.8 747.0 2911.3 747.7 2909.8C748.3 2908.3 749.0 2906.8 749.7 2905.2C750.3 2903.7 751.0 2902.2 751.6 2900.7C752.3 2899.2 753.0 2897.6 753.6 2896.1C754.3 2894.6 755.0 2893.1 755.6 2891.6C756.3 2890.0 757.0 2888.5 757.6 2887.0C758.3 2885.5 758.9 2883.9 759.6 2882.4C760.3 2880.9 760.9 2879.3 761.6 2877.8C762.2 2876.3 762.9 2874.8 763.5 2873.2C764.2 2871.7 764.8 2870.2 765.5 2868.6C766.1 2867.1 766.8 2865.6 767.5 2864.0C768.1 2862.5 768.7 2860.9 769.4 2859.4C770.0 2857.9 770.7 2856.3 771.3 2854.8C772.0 2853.3 772.6 2851.7 773.3 2850.2C773.9 2848.6 774.5 2847.1 775.2 2845.5C775.8 2844.0 776.4 2842.5 777.1 2840.9C777.7 2839.4 778.3 2837.8 779.0 2836.3C779.6 2834.7 780.2 2833.2 780.8 2831.6C781.4 2830.1 782.1 2828.5 782.7 2827.0C783.3 2825.4 783.9 2823.9 784.5 2822.3C785.1 2820.8 785.7 2819.2 786.3 2817.6C787.0 2816.1 787.6 2814.5 788.2 2813.0C788.8 2811.4 789.4 2809.8 789.9 2808.3C790.5 2806.7 791.1 2805.2 791.7 2803.6C792.3 2802.0 792.9 2800.5 793.5 2798.9C794.0 2797.3 794.6 2795.8 795.2 2794.2C795.8 2792.6 796.3 2791.1 796.9 2789.5C797.5 2787.9 798.0 2786.4 798.6 2784.8C799.1 2783.2 799.7 2781.6 800.2 2780.1C800.8 2778.5 801.3 2776.9 801.9 2775.3C802.4 2773.8 803.0 2772.2 803.5 2770.6C804.0 2769.0 804.5 2767.5 805.1 2765.9C805.6 2764.3 806.1 2762.7 806.6 2761.1C807.1 2759.5 807.7 2758.0 808.2 2756.4C808.7 2754.8 809.2 2753.2 809.7 2751.6C810.1 2750.0 810.6 2748.4 811.1 2746.8C811.6 2745.3 812.1 2743.7 812.6 2742.1C813.0 2740.5 813.5 2738.9 814.0 2737.3C814.4 2735.7 814.9 2734.1 815.3 2732.5C815.8 2730.9 816.2 2729.3 816.7 2727.7C817.1 2726.1 817.6 2724.5 818.0 2722.9C818.4 2721.3 818.8 2719.7 819.3 2718.1C819.7 2716.5 820.1 2714.9 820.5 2713.3C820.9 2711.6 821.3 2710.0 821.7 2708.4C822.1 2706.8 822.5 2705.2 822.9 2703.6C823.3 2702.0 823.6 2700.4 824.0 2698.8C824.4 2697.1 824.7 2695.5 825.1 2693.9C825.5 2692.3 825.8 2690.7 826.2 2689.1C826.5 2687.4 826.9 2685.8 827.2 2684.2C827.6 2682.6 827.9 2680.9 828.2 2679.3C828.6 2677.7 828.9 2676.1 829.2 2674.4C829.5 2672.8 829.9 2671.2 830.2 2669.6C830.5 2667.9 830.8 2666.3 831.1 2664.7C831.4 2663.1 831.7 2661.4 832.0 2659.8C832.3 2658.2 832.6 2656.5 832.9 2654.9C833.2 2653.3 833.4 2651.6 833.7 2650.0C834.0 2648.4 834.3 2646.7 834.5 2645.1C834.8 2643.4 835.1 2641.8 835.3 2640.2C835.6 2638.5 835.9 2636.9 836.1 2635.3C836.4 2633.6 836.6 2632.0 836.9 2630.3C837.1 2628.7 837.4 2627.1 837.6 2625.4C837.9 2623.8 838.1 2622.1 838.3 2620.5C838.6 2618.8 838.8 2617.2 839.0 2615.5C839.3 2613.9 839.5 2612.3 839.7 2610.6C839.9 2609.0 840.2 2607.3 840.4 2605.7C840.6 2604.0 840.8 2602.4 841.0 2600.7C841.2 2599.1 841.4 2597.4 841.7 2595.8C841.9 2594.1 842.1 2592.5 842.3 2590.8C842.5 2589.2 842.7 2587.5 842.9 2585.9C843.1 2584.2 843.3 2582.6 843.5 2580.9C843.7 2579.2 843.8 2577.6 844.0 2575.9C844.2 2574.3 844.4 2572.6 844.6 2571.0C844.8 2569.3 845.0 2567.7 845.2 2566.0C845.3 2564.4 845.5 2562.7 845.7 2561.0C845.9 2559.4 846.1 2557.7 846.2 2556.1C846.4 2554.4 846.6 2552.8 846.8 2551.1C846.9 2549.4 847.1 2547.8 847.3 2546.1C847.5 2544.5 847.6 2542.8 847.8 2541.2C848.0 2539.5 848.1 2537.8 848.3 2536.2C848.5 2534.5 848.6 2532.9 848.8 2531.2C849.0 2529.5 849.1 2527.9 849.3 2526.2C849.5 2524.6 849.6 2522.9 849.8 2521.2C850.0 2519.6 850.1 2517.9 850.3 2516.3C850.4 2514.6 850.6 2512.9 850.8 2511.3C850.9 2509.6 851.1 2508.0 851.3 2506.3C851.4 2504.6 851.6 2503.0 851.8 2501.3C851.9 2499.7 852.1 2498.0 852.2 2496.3C852.4 2494.7 852.6 2493.0 852.7 2491.4C852.9 2489.7 853.1 2488.0 853.2 2486.4C853.4 2484.7 853.6 2483.1 853.7 2481.4C853.9 2479.7 854.1 2478.1 854.2 2476.4C854.4 2474.8 854.6 2473.1 854.7 2471.4C854.9 2469.8 855.1 2468.1 855.2 2466.5C855.4 2464.8 855.6 2463.1 855.7 2461.5C855.9 2459.8 856.1 2458.2 856.2 2456.5C856.4 2454.8 856.6 2453.2 856.8 2451.5C856.9 2449.9 857.1 2448.2 857.3 2446.5C857.4 2444.9 857.6 2443.2 857.8 2441.6C858.0 2439.9 858.1 2438.3 858.3 2436.6C858.5 2434.9 858.7 2433.3 858.8 2431.6C859.0 2430.0 859.2 2428.3 859.4 2426.6C859.5 2425.0 859.7 2423.3 859.9 2421.7C860.1 2420.0 860.2 2418.4 860.4 2416.7C860.6 2415.0 860.8 2413.4 860.9 2411.7C861.1 2410.1 861.3 2408.4 861.5 2406.8C861.7 2405.1 861.8 2403.4 862.0 2401.8C862.2 2400.1 862.4 2398.5 862.5 2396.8C862.7 2395.2 862.9 2393.5 863.1 2391.8C863.3 2390.2 863.4 2388.5 863.6 2386.9C863.8 2385.2 864.0 2383.6 864.2 2381.9C864.3 2380.3 864.5 2378.6 864.7 2376.9C864.9 2375.3 865.1 2373.6 865.3 2372.0C865.4 2370.3 865.6 2368.7 865.8 2367.0C866.0 2365.4 866.2 2363.7 866.4 2362.0C866.5 2360.4 866.7 2358.7 866.9 2357.1C867.1 2355.4 867.3 2353.8 867.5 2352.1C867.6 2350.5 867.8 2348.8 868.0 2347.2C868.2 2345.5 868.4 2343.9 868.6 2342.2C868.8 2340.5 868.9 2338.9 869.1 2337.2C869.3 2335.6 869.5 2333.9 869.7 2332.3C869.9 2330.6 870.1 2329.0 870.2 2327.3C870.4 2325.7 870.6 2324.0 870.8 2322.4C871.0 2320.7 871.2 2319.1 871.4 2317.4C871.6 2315.8 871.8 2314.1 871.9 2312.5C872.1 2310.8 872.3 2309.2 872.5 2307.5C872.7 2305.9 872.9 2304.2 873.1 2302.6C873.3 2300.9 873.5 2299.3 873.7 2297.6C873.9 2296.0 874.1 2294.3 874.3 2292.7C874.5 2291.0 874.7 2289.4 874.9 2287.7C875.1 2286.1 875.3 2284.4 875.5 2282.8C875.7 2281.1 875.9 2279.4 876.1 2277.8C876.4 2276.1 876.6 2274.5 876.8 2272.8C877.0 2271.2 877.2 2269.5 877.5 2267.9C877.7 2266.2 877.9 2264.6 878.2 2262.9C878.4 2261.3 878.7 2259.6 878.9 2258.0C879.1 2256.3 879.4 2254.6 879.7 2253.0C879.9 2251.3 880.2 2249.7 880.4 2248.0C880.7 2246.4 881.0 2244.7 881.2 2243.1C881.5 2241.4 881.8 2239.7 882.1 2238.1C882.4 2236.4 882.7 2234.8 883.0 2233.1C883.3 2231.5 883.5 2229.9 883.9 2228.3C884.2 2226.7 884.5 2225.1 884.8 2223.5C885.1 2222.0 885.4 2220.4 885.7 2218.9C886.0 2217.3 886.4 2215.7 886.7 2214.0C887.0 2212.3 887.3 2210.4 887.7 2208.7C888.1 2206.9 888.5 2204.6 889.3 2203.4C890.0 2202.2 891.3 2201.1 892.3 2201.4C893.3 2201.6 894.5 2203.4 895.2 2204.8C895.8 2206.2 896.1 2208.0 896.4 2209.7C896.8 2211.3 897.1 2212.9 897.5 2214.6C897.8 2216.2 898.2 2217.9 898.5 2219.5C898.8 2221.2 899.1 2222.8 899.4 2224.5C899.7 2226.1 900.1 2227.8 900.3 2229.4C900.6 2231.1 900.9 2232.7 901.2 2234.4C901.5 2236.0 901.8 2237.7 902.0 2239.3C902.3 2241.0 902.6 2242.6 902.8 2244.3C903.1 2245.9 903.4 2247.6 903.6 2249.2C903.8 2250.9 904.1 2252.5 904.3 2254.2C904.6 2255.8 904.8 2257.5 905.0 2259.1C905.2 2260.8 905.5 2262.4 905.7 2264.1C905.9 2265.7 906.1 2267.4 906.3 2269.0C906.5 2270.7 906.7 2272.3 906.9 2274.0C907.1 2275.7 907.3 2277.3 907.5 2279.0C907.7 2280.6 907.9 2282.3 908.1 2283.9C908.2 2285.6 908.4 2287.2 908.6 2288.9C908.8 2290.5 908.9 2292.2 909.1 2293.8C909.3 2295.5 909.4 2297.1 909.6 2298.8C909.8 2300.4 909.9 2302.1 910.1 2303.8C910.3 2305.4 910.4 2307.1 910.6 2308.7C910.7 2310.4 910.9 2312.0 911.0 2313.7C911.2 2315.3 911.3 2317.0 911.5 2318.6C911.6 2320.3 911.8 2322.0 911.9 2323.6C912.1 2325.3 912.2 2326.9 912.3 2328.6C912.5 2330.2 912.6 2331.9 912.8 2333.6C912.9 2335.2 913.0 2336.9 913.2 2338.5C913.3 2340.2 913.5 2341.8 913.6 2343.5C913.7 2345.2 913.9 2346.8 914.0 2348.5C914.1 2350.1 914.3 2351.8 914.4 2353.4C914.5 2355.1 914.7 2356.8 914.8 2358.4C914.9 2360.1 915.1 2361.7 915.2 2363.4C915.3 2365.1 915.4 2366.7 915.6 2368.4C915.7 2370.0 915.8 2371.7 915.9 2373.4C916.1 2375.0 916.2 2376.7 916.3 2378.3C916.4 2380.0 916.6 2381.7 916.7 2383.3C916.8 2385.0 916.9 2386.6 917.0 2388.3C917.2 2390.0 917.3 2391.6 917.4 2393.3C917.5 2395.0 917.6 2396.6 917.7 2398.3C917.9 2399.9 918.0 2401.6 918.1 2403.3C918.2 2404.9 918.3 2406.6 918.4 2408.3C918.6 2409.9 918.7 2411.6 918.8 2413.2C918.9 2414.9 919.0 2416.6 919.1 2418.2C919.2 2419.9 919.4 2421.6 919.5 2423.2C919.6 2424.9 919.7 2426.5 919.8 2428.2C919.9 2429.9 920.0 2431.5 920.1 2433.2C920.2 2434.9 920.4 2436.5 920.5 2438.2C920.6 2439.8 920.7 2441.5 920.8 2443.2C920.9 2444.8 921.0 2446.5 921.1 2448.2C921.2 2449.8 921.3 2451.5 921.5 2453.2C921.6 2454.8 921.7 2456.5 921.8 2458.1C921.9 2459.8 922.0 2461.5 922.1 2463.1C922.2 2464.8 922.3 2466.5 922.4 2468.1C922.6 2469.8 922.7 2471.5 922.8 2473.1C922.9 2474.8 923.0 2476.4 923.1 2478.1C923.2 2479.8 923.3 2481.4 923.4 2483.1C923.5 2484.8 923.7 2486.4 923.8 2488.1C923.9 2489.8 924.0 2491.4 924.1 2493.1C924.2 2494.7 924.3 2496.4 924.4 2498.1C924.5 2499.7 924.6 2501.4 924.8 2503.1C924.9 2504.7 925.0 2506.4 925.1 2508.1C925.2 2509.7 925.3 2511.4 925.4 2513.0C925.6 2514.7 925.7 2516.4 925.8 2518.0C925.9 2519.7 926.0 2521.4 926.1 2523.0C926.2 2524.7 926.4 2526.4 926.5 2528.0C926.6 2529.7 926.7 2531.3 926.8 2533.0C926.9 2534.7 927.1 2536.3 927.2 2538.0C927.3 2539.7 927.4 2541.3 927.5 2543.0C927.7 2544.6 927.8 2546.3 927.9 2548.0C928.0 2549.6 928.2 2551.3 928.3 2553.0C928.4 2554.6 928.5 2556.3 928.6 2557.9C928.8 2559.6 928.9 2561.3 929.0 2562.9C929.2 2564.6 929.3 2566.2 929.4 2567.9C929.5 2569.6 929.7 2571.2 929.8 2572.9C929.9 2574.6 930.1 2576.2 930.2 2577.9C930.3 2579.5 930.5 2581.2 930.6 2582.9C930.7 2584.5 930.9 2586.2 931.0 2587.8C931.1 2589.5 931.3 2591.2 931.4 2592.8C931.6 2594.5 931.7 2596.1 931.8 2597.8C932.0 2599.5 932.1 2601.1 932.3 2602.8C932.4 2604.4 932.6 2606.1 932.7 2607.7C932.9 2609.4 933.0 2611.1 933.2 2612.7C933.3 2614.4 933.5 2616.0 933.6 2617.7C933.8 2619.4 933.9 2621.0 934.1 2622.7C934.2 2624.3 934.4 2626.0 934.5 2627.6C934.7 2629.3 934.9 2631.0 935.0 2632.6C935.2 2634.3 935.3 2635.9 935.5 2637.6C935.7 2639.2 935.8 2640.9 936.0 2642.5C936.2 2644.2 936.3 2645.9 936.5 2647.5C936.7 2649.2 936.8 2650.8 937.0 2652.5C937.2 2654.1 937.4 2655.8 937.5 2657.4C937.7 2659.1 937.9 2660.7 938.1 2662.4C938.3 2664.0 938.5 2665.7 938.6 2667.3C938.8 2669.0 939.0 2670.7 939.2 2672.3C939.4 2674.0 939.6 2675.6 939.8 2677.3C940.0 2678.9 940.2 2680.6 940.3 2682.2C940.5 2683.9 940.7 2685.5 940.9 2687.2C941.1 2688.8 941.3 2690.5 941.5 2692.1C941.8 2693.8 942.0 2695.4 942.2 2697.1C942.4 2698.7 942.6 2700.4 942.8 2702.0C943.0 2703.7 943.2 2705.3 943.4 2706.9C943.7 2708.6 943.9 2710.2 944.1 2711.9C944.3 2713.5 944.5 2715.2 944.8 2716.8C945.0 2718.5 945.2 2720.1 945.5 2721.8C945.7 2723.4 945.9 2725.1 946.2 2726.7C946.4 2728.3 946.6 2730.0 946.9 2731.6C947.1 2733.3 947.4 2734.9 947.6 2736.6C947.8 2738.2 948.1 2739.8 948.3 2741.5C948.6 2743.1 948.8 2744.8 949.1 2746.4C949.3 2748.1 949.6 2749.7 949.9 2751.3C950.1 2753.0 950.4 2754.6 950.6 2756.3C950.9 2757.9 951.2 2759.5 951.4 2761.2C951.7 2762.8 952.0 2764.5 952.3 2766.1C952.5 2767.7 952.8 2769.4 953.1 2771.0C953.3 2772.6 953.6 2774.3 953.9 2775.9C954.2 2777.6 954.5 2779.2 954.8 2780.8C955.0 2782.5 955.3 2784.1 955.6 2785.7C955.9 2787.4 956.2 2789.0 956.5 2790.7C956.8 2792.3 957.1 2793.9 957.4 2795.6C957.7 2797.2 958.0 2798.8 958.3 2800.5C958.6 2802.1 958.9 2803.7 959.2 2805.4C959.5 2807.0 959.8 2808.6 960.1 2810.3C960.4 2811.9 960.8 2813.5 961.1 2815.2C961.4 2816.8 961.7 2818.4 962.0 2820.1C962.4 2821.7 962.7 2823.3 963.0 2825.0C963.3 2826.6 963.6 2828.2 964.0 2829.9C964.3 2831.5 964.6 2833.1 965.0 2834.8C965.3 2836.4 965.6 2838.0 966.0 2839.7C966.3 2841.3 966.7 2842.9 967.0 2844.6C967.3 2846.2 967.7 2847.8 968.0 2849.5C968.4 2851.1 968.7 2852.7 969.1 2854.4C969.4 2856.0 969.8 2857.6 970.1 2859.2C970.5 2860.9 970.8 2862.5 971.2 2864.1C971.6 2865.8 971.9 2867.4 972.3 2869.0C972.6 2870.7 973.0 2872.3 973.4 2873.9C973.7 2875.6 974.1 2877.2 974.5 2878.8C974.9 2880.4 975.2 2882.1 975.6 2883.7C976.0 2885.3 976.4 2887.0 976.7 2888.6C977.1 2890.2 977.5 2891.9 977.9 2893.5C978.3 2895.1 978.6 2896.7 979.0 2898.4C979.4 2900.0 979.8 2901.6 980.2 2903.3C980.6 2904.9 981.0 2906.5 981.4 2908.2C981.8 2909.8 982.2 2911.4 982.6 2913.0C983.0 2914.7 983.4 2916.3 983.8 2917.9C984.2 2919.6 984.6 2921.2 985.0 2922.8C985.4 2924.4 985.8 2926.1 986.3 2927.7C986.7 2929.3 987.1 2930.9 987.6 2932.5C988.0 2934.1 988.5 2935.8 988.9 2937.4C989.4 2939.0 989.9 2940.6 990.4 2942.1C990.9 2943.7 991.4 2945.3 991.9 2946.9C992.4 2948.5 992.9 2950.0 993.5 2951.6C994.1 2953.2 994.6 2954.7 995.2 2956.3C995.8 2957.8 996.4 2959.3 997.1 2960.9C997.7 2962.4 998.4 2963.9 999.1 2965.4C999.7 2966.9 1000.5 2968.4 1001.2 2969.8C1001.9 2971.3 1002.7 2972.8 1003.5 2974.2C1004.3 2975.6 1005.1 2977.1 1005.9 2978.5C1006.8 2979.9 1007.7 2981.3 1008.6 2982.7C1009.5 2984.0 1010.4 2985.4 1011.4 2986.8C1012.4 2988.1 1013.4 2989.4 1014.5 2990.7C1015.5 2992.0 1016.6 2993.3 1017.7 2994.6C1018.8 2995.8 1020.0 2997.1 1021.1 2998.2C1022.3 2999.4 1023.5 3000.6 1024.7 3001.8C1026.0 3002.9 1027.2 3004.0 1028.5 3005.1C1029.8 3006.1 1031.1 3007.2 1032.5 3008.2C1033.8 3009.2 1035.2 3010.1 1036.6 3011.0C1038.0 3011.9 1039.4 3012.8 1040.8 3013.6C1042.3 3014.5 1043.7 3015.2 1045.2 3016.0C1046.7 3016.7 1048.2 3017.4 1049.8 3018.0C1051.3 3018.7 1052.8 3019.3 1054.4 3019.9C1056.0 3020.4 1057.5 3021.0 1059.1 3021.5C1060.7 3022.0 1062.3 3022.5 1064.0 3022.9C1065.6 3023.3 1067.2 3023.7 1068.9 3024.1C1070.5 3024.5 1072.2 3024.8 1073.8 3025.1C1075.5 3025.4 1077.1 3025.7 1078.8 3026.0C1080.5 3026.2 1082.2 3026.5 1083.9 3026.7C1085.5 3026.9 1087.2 3027.1 1088.9 3027.3C1090.6 3027.4 1092.3 3027.6 1094.0 3027.7C1095.7 3027.9 1097.3 3028.0 1099.0 3028.1C1100.7 3028.2 1102.4 3028.3 1104.1 3028.3C1105.7 3028.4 1107.4 3028.5 1109.1 3028.5C1110.8 3028.6 1112.4 3028.6 1114.1 3028.6C1115.8 3028.6 1117.4 3028.6 1119.1 3028.6C1120.8 3028.6 1122.4 3028.6 1124.1 3028.5C1125.7 3028.5 1127.4 3028.4 1129.0 3028.4C1130.7 3028.3 1132.4 3028.2 1134.0 3028.1C1135.7 3028.0 1137.3 3027.9 1139.0 3027.8C1140.6 3027.7 1142.3 3027.6 1143.9 3027.5C1145.6 3027.3 1147.2 3027.2 1148.8 3027.0C1150.5 3026.9 1152.1 3026.7 1153.8 3026.5C1155.4 3026.4 1157.1 3026.2 1158.7 3026.0C1160.3 3025.8 1162.0 3025.6 1163.6 3025.4C1165.2 3025.2 1166.9 3025.0 1168.5 3024.7C1170.2 3024.5 1171.8 3024.3 1173.4 3024.0C1175.1 3023.8 1176.7 3023.6 1178.3 3023.3C1180.0 3023.0 1181.6 3022.8 1183.2 3022.5C1184.9 3022.3 1186.5 3022.0 1188.1 3021.7C1189.8 3021.4 1191.4 3021.1 1193.0 3020.9C1194.6 3020.6 1196.3 3020.3 1197.9 3020.0C1199.5 3019.7 1201.2 3019.4 1202.8 3019.1C1204.4 3018.8 1206.1 3018.5 1207.7 3018.1C1209.3 3017.8 1211.0 3017.5 1212.6 3017.2C1214.2 3016.9 1215.9 3016.6 1217.5 3016.2C1219.1 3015.9 1220.8 3015.6 1222.4 3015.3C1224.0 3014.9 1225.7 3014.6 1227.3 3014.3C1228.9 3014.0 1230.6 3013.6 1232.2 3013.3C1233.9 3013.0 1235.5 3012.6 1237.1 3012.3C1238.8 3012.0 1240.4 3011.7 1242.1 3011.3C1243.7 3011.0 1245.3 3010.7 1247.0 3010.4C1248.6 3010.0 1250.3 3009.7 1251.9 3009.4C1253.6 3009.1 1255.2 3008.7 1256.9 3008.4C1258.5 3008.1 1260.2 3007.8 1261.8 3007.5C1263.5 3007.2 1265.1 3006.9 1266.8 3006.5C1268.4 3006.2 1270.1 3005.9 1271.8 3005.6C1273.4 3005.3 1275.1 3005.1 1276.7 3004.8C1278.4 3004.5 1280.1 3004.2 1281.7 3003.9C1283.4 3003.7 1285.1 3003.4 1286.7 3003.2C1288.4 3002.9 1290.1 3002.7 1291.7 3002.5C1293.4 3002.3 1295.0 3002.2 1296.7 3002.0C1298.3 3001.9 1300.0 3001.8 1301.6 3001.7C1303.3 3001.6 1304.9 3001.6 1306.5 3001.6C1308.2 3001.6 1309.8 3001.7 1311.4 3001.8C1313.0 3001.9 1314.6 3002.0 1316.2 3002.3C1317.8 3002.5 1319.4 3002.7 1321.0 3003.1C1322.5 3003.4 1324.1 3003.8 1325.7 3004.2C1327.2 3004.7 1328.8 3005.2 1330.3 3005.8C1331.8 3006.3 1333.3 3007.0 1334.8 3007.6C1336.3 3008.3 1337.8 3009.0 1339.3 3009.8C1340.8 3010.6 1342.3 3011.4 1343.8 3012.2C1345.2 3013.1 1346.7 3013.9 1348.1 3014.8C1349.6 3015.7 1351.0 3016.7 1352.5 3017.6C1353.9 3018.6 1355.3 3019.5 1356.8 3020.5C1358.2 3021.5 1359.6 3022.5 1361.0 3023.5C1362.4 3024.5 1363.9 3025.5 1365.3 3026.5C1366.7 3027.5 1368.1 3028.5 1369.5 3029.5C1370.9 3030.5 1372.3 3031.5 1373.7 3032.5C1375.1 3033.4 1376.4 3034.4 1377.8 3035.4C1379.2 3036.3 1380.6 3037.2 1382.0 3038.2C1383.4 3039.1 1384.8 3040.0 1386.2 3040.9C1387.6 3041.7 1389.0 3042.6 1390.4 3043.5C1391.8 3044.3 1393.2 3045.2 1394.6 3046.0C1396.1 3046.8 1397.5 3047.6 1398.9 3048.4C1400.4 3049.1 1401.8 3049.9 1403.3 3050.6C1404.7 3051.4 1406.2 3052.1 1407.6 3052.8C1409.1 3053.4 1410.6 3054.1 1412.1 3054.8C1413.6 3055.4 1415.1 3056.0 1416.6 3056.6C1418.2 3057.2 1419.7 3057.8 1421.3 3058.3C1422.8 3058.9 1424.4 3059.4 1425.9 3059.9C1427.5 3060.4 1429.1 3060.9 1430.6 3061.4C1432.2 3061.9 1433.8 3062.4 1435.4 3062.8C1437.0 3063.2 1438.6 3063.7 1440.2 3064.1C1441.8 3064.5 1443.5 3064.9 1445.1 3065.3C1446.7 3065.6 1448.3 3066.0 1450.0 3066.4C1451.6 3066.7 1453.2 3067.1 1454.9 3067.4C1456.5 3067.7 1458.2 3068.0 1459.8 3068.3C1461.5 3068.7 1463.1 3069.0 1464.8 3069.2C1466.4 3069.5 1468.1 3069.8 1469.7 3070.1C1471.4 3070.4 1473.1 3070.6 1474.7 3070.9C1476.4 3071.2 1478.0 3071.4 1479.7 3071.7C1481.3 3071.9 1483.0 3072.2 1484.7 3072.4C1486.3 3072.6 1488.0 3072.9 1489.6 3073.1C1491.3 3073.3 1492.9 3073.5 1494.6 3073.7C1496.3 3073.9 1497.9 3074.1 1499.6 3074.3C1501.2 3074.5 1502.9 3074.7 1504.6 3074.9C1506.2 3075.1 1507.9 3075.3 1509.5 3075.5C1511.2 3075.6 1512.8 3075.8 1514.5 3076.0C1516.2 3076.1 1517.8 3076.3 1519.5 3076.5C1521.1 3076.6 1522.8 3076.8 1524.5 3076.9C1526.1 3077.1 1527.8 3077.2 1529.4 3077.3C1531.1 3077.5 1532.8 3077.6 1534.4 3077.7C1536.1 3077.8 1537.7 3078.0 1539.4 3078.1C1541.1 3078.2 1542.7 3078.3 1544.4 3078.4C1546.0 3078.5 1547.7 3078.6 1549.4 3078.7C1551.0 3078.8 1552.7 3078.9 1554.4 3079.0C1556.0 3079.1 1557.7 3079.2 1559.3 3079.2C1561.0 3079.3 1562.7 3079.4 1564.3 3079.5C1566.0 3079.5 1567.7 3079.6 1569.3 3079.7C1571.0 3079.7 1572.6 3079.8 1574.3 3079.9C1576.0 3079.9 1577.6 3080.0 1579.3 3080.0C1581.0 3080.1 1582.6 3080.1 1584.3 3080.2C1585.9 3080.2 1587.6 3080.2 1589.3 3080.3C1590.9 3080.3 1592.6 3080.3 1594.3 3080.4C1595.9 3080.4 1597.6 3080.4 1599.2 3080.4C1600.9 3080.5 1602.6 3080.5 1604.2 3080.5C1605.9 3080.5 1607.6 3080.5 1609.2 3080.6C1610.9 3080.6 1612.6 3080.6 1614.2 3080.6C1615.9 3080.6 1617.5 3080.6 1619.2 3080.6C1620.9 3080.6 1622.5 3080.6 1624.2 3080.6C1625.9 3080.6 1627.5 3080.6 1629.2 3080.6C1630.9 3080.6 1632.5 3080.6 1634.2 3080.5C1635.9 3080.5 1637.5 3080.5 1639.2 3080.5C1640.9 3080.5 1642.5 3080.5 1644.2 3080.5C1645.8 3080.4 1647.5 3080.4 1649.2 3080.4C1650.8 3080.4 1652.5 3080.3 1654.2 3080.3C1655.8 3080.3 1657.5 3080.3 1659.2 3080.2C1660.8 3080.2 1662.5 3080.2 1664.2 3080.2C1665.8 3080.1 1667.5 3080.1 1669.2 3080.1C1670.8 3080.0 1672.5 3080.0 1674.2 3080.0C1675.8 3079.9 1677.5 3079.9 1679.2 3079.8C1680.8 3079.8 1682.5 3079.8 1684.2 3079.7C1685.8 3079.7 1687.5 3079.7 1689.1 3079.6C1690.8 3079.6 1692.5 3079.5 1694.1 3079.5C1695.8 3079.5 1697.5 3079.4 1699.1 3079.4C1700.8 3079.3 1702.5 3079.3 1704.1 3079.3C1705.8 3079.2 1707.5 3079.2 1709.1 3079.1C1710.8 3079.1 1712.5 3079.1 1714.1 3079.0C1715.8 3079.0 1717.5 3078.9 1719.1 3078.9C1720.8 3078.9 1722.5 3078.8 1724.1 3078.8C1725.8 3078.8 1727.5 3078.7 1729.1 3078.7C1730.8 3078.6 1732.5 3078.6 1734.1 3078.6C1735.8 3078.5 1737.5 3078.5 1739.1 3078.5C1740.8 3078.4 1742.5 3078.4 1744.1 3078.4C1745.8 3078.3 1747.5 3078.3 1749.1 3078.3C1750.8 3078.3 1752.5 3078.2 1754.1 3078.2C1755.8 3078.2 1757.5 3078.1 1759.1 3078.1C1760.8 3078.1 1762.5 3078.1 1764.1 3078.1C1765.8 3078.0 1767.5 3078.0 1769.1 3078.0C1770.8 3078.0 1772.4 3078.0 1774.1 3078.0C1775.8 3077.9 1777.4 3077.9 1779.1 3077.9C1780.8 3077.9 1782.4 3077.9 1784.1 3077.9C1785.8 3077.9 1787.4 3077.9 1789.1 3077.9C1790.8 3077.9 1792.4 3077.9 1794.1 3077.9C1795.8 3077.9 1797.4 3077.9 1799.1 3077.9C1800.8 3077.9 1802.4 3078.0 1804.1 3078.0C1805.8 3078.0 1807.4 3078.0 1809.1 3078.0C1810.8 3078.0 1812.4 3078.1 1814.1 3078.1C1815.7 3078.1 1817.4 3078.2 1819.1 3078.2C1820.7 3078.2 1822.4 3078.3 1824.1 3078.3C1825.7 3078.3 1827.4 3078.4 1829.1 3078.4C1830.7 3078.5 1832.4 3078.5 1834.1 3078.6C1835.7 3078.6 1837.4 3078.7 1839.1 3078.8C1840.7 3078.8 1842.4 3078.9 1844.0 3078.9C1845.7 3079.0 1847.4 3079.1 1849.0 3079.2C1850.7 3079.2 1852.4 3079.3 1854.0 3079.4C1855.7 3079.5 1857.4 3079.6 1859.0 3079.7C1860.7 3079.8 1862.3 3079.9 1864.0 3080.0C1865.7 3080.1 1868.2 3080.2 1869.0 3080.3" stroke="#00ff00"/>
</g>
<g stroke="#000" stroke-width="8" fill="none" stroke-linecap="butt">
<line x1="293.8" y1="1935.5" x2="1908" y2="1935.5" stroke-width="8.3"/>
<line x1="293.8" y1="3228.6" x2="1908" y2="3228.6" stroke-width="8.6"/>
<line x1="298" y1="1931.3" x2="298" y2="3253.8" stroke-width="8.4"/>
<line x1="1902.7" y1="1931.3" x2="1902.7" y2="3232.9" stroke-width="10.7"/>
<line x1="272.0" y1="3084.6" x2="298.0" y2="3084.6" stroke-width="9.3"/>
<line x1="272.0" y1="2869.2" x2="298.0" y2="2869.2" stroke-width="9.3"/>
<line x1="272.0" y1="2653.7" x2="298.0" y2="2653.7" stroke-width="9.3"/>
<line x1="272.0" y1="2438.3" x2="298.0" y2="2438.3" stroke-width="9.3"/>
<line x1="272.0" y1="2222.9" x2="298.0" y2="2222.9" stroke-width="9.3"/>
<line x1="272.0" y1="2007.4" x2="298.0" y2="2007.4" stroke-width="9.3"/>
<line x1="298.0" y1="3228.6" x2="298.0" y2="3254.0"/>
<line x1="574.8" y1="3228.6" x2="574.8" y2="3254.0"/>
<line x1="851.5" y1="3228.6" x2="851.5" y2="3254.0"/>
<line x1="1128.3" y1="3228.6" x2="1128.3" y2="3254.0"/>
<line x1="1405.0" y1="3228.6" x2="1405.0" y2="3254.0"/>
<line x1="1681.8" y1="3228.6" x2="1681.8" y2="3254.0"/>
</g>
<g font-size="56">
<text x="255" y="3100.6" text-anchor="end">0.0</text>
<text x="255" y="2885.2" text-anchor="end">0.3</text>
<text x="255" y="2669.7" text-anchor="end">0.6</text>
<text x="255" y="2454.3" text-anchor="end">0.9</text>
<text x="255" y="2238.9" text-anchor="end">1.2</text>
<text x="255" y="2023.4" text-anchor="end">1.5</text>
<text x="298.0" y="3312.8" text-anchor="middle">100</text>
<text x="574.8" y="3312.8" text-anchor="middle">200</text>
<text x="851.5" y="3312.8" text-anchor="middle">300</text>
<text x="1128.3" y="3312.8" text-anchor="middle">400</text>
<text x="1405.0" y="3312.8" text-anchor="middle">500</text>
<text x="1681.8" y="3312.8" text-anchor="middle">600</text>
</g>
<text x="1074.3" y="3417" font-size="68" text-anchor="middle">Temperature (ºC)</text>
<text transform="translate(102.4,2551.5) rotate(-90)" font-size="68" text-anchor="middle">Deriv.weight (%/ºC)</text>
<text x="379" y="2069.2" font-size="110">b<tspan font-size="77.5" dx="2.5">)</tspan></text>
<g transform="translate(24.0,1920.8)">
<rect x="1356" y="85.3" width="473.0" height="381.5" fill="#fff" stroke="none"/>
<path d="M1356 85.3H1829.0V466.8H1356Z" fill="none" stroke="#9a9a9a" stroke-width="2.6"/>
<path d="M1356 85.3H1829V466.8" fill="none" stroke="#000" stroke-width="2.8"/>
<line x1="1365.5" y1="137.2" x2="1535.8" y2="137.2" stroke="#000000" stroke-width="8.3" stroke-linecap="round"/>
<text x="1556" y="161.8" font-size="76">PU</text>
<line x1="1365.5" y1="230.0" x2="1535.8" y2="230.0" stroke="#ff0000" stroke-width="8.3" stroke-linecap="round"/>
<text x="1556" y="254.6" font-size="76">EG1-10</text>
<line x1="1365.5" y1="322.3" x2="1535.8" y2="322.3" stroke="#0000ff" stroke-width="8.3" stroke-linecap="round"/>
<text x="1556" y="346.9" font-size="76">EG2-10</text>
<line x1="1365.5" y1="414.7" x2="1535.8" y2="414.7" stroke="#00ff00" stroke-width="8.3" stroke-linecap="round"/>
<text x="1556" y="439.3" font-size="76">EG3-10</text>
</g>
</g>
</svg></body></html>
